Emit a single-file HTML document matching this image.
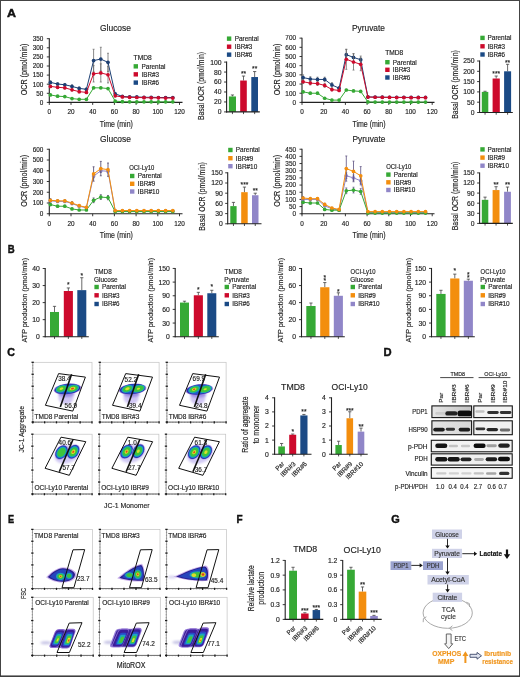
<!DOCTYPE html>
<html><head><meta charset="utf-8"><style>
html,body{margin:0;padding:0;background:#fff;}
svg{display:block;will-change:transform;}
text{font-family:"Liberation Sans", sans-serif;}
</style></head><body>
<svg width="520" height="677" viewBox="0 0 520 677">
<defs><filter id="bl" x="-50%" y="-50%" width="200%" height="200%"><feGaussianBlur stdDeviation="0.55"/></filter><filter id="bl2" x="-50%" y="-50%" width="200%" height="200%"><feGaussianBlur stdDeviation="1.2"/></filter><linearGradient id="gPD" x1="0" y1="0" x2="1" y2="0"><stop offset="0" stop-color="#e6e6e6"/><stop offset="1" stop-color="#c4c4c4"/></linearGradient><linearGradient id="gHS" x1="0" y1="0" x2="1" y2="0"><stop offset="0" stop-color="#e4e4e4"/><stop offset="1" stop-color="#d6d6d6"/></linearGradient></defs>
<rect x="0" y="0" width="520" height="677" fill="#fff"/>
<text x="6.9" y="16.9" font-size="11.6" font-weight="bold" fill="#111" stroke="#111" stroke-width="0.45" textLength="9.0" lengthAdjust="spacingAndGlyphs">A</text>
<line x1="48.8" y1="102.4" x2="182.5" y2="102.4" stroke="#222" stroke-width="1.1"/>
<line x1="49.3" y1="102.4" x2="49.3" y2="104.9" stroke="#222" stroke-width="0.9"/>
<text x="49.3" y="114.3" font-size="6.4" text-anchor="middle" fill="#222" stroke="#222" stroke-width="0.15">0</text>
<line x1="71" y1="102.4" x2="71" y2="104.9" stroke="#222" stroke-width="0.9"/>
<text x="71" y="114.3" font-size="6.4" text-anchor="middle" fill="#222" stroke="#222" stroke-width="0.15">20</text>
<line x1="92.7" y1="102.4" x2="92.7" y2="104.9" stroke="#222" stroke-width="0.9"/>
<text x="92.7" y="114.3" font-size="6.4" text-anchor="middle" fill="#222" stroke="#222" stroke-width="0.15">40</text>
<line x1="114.4" y1="102.4" x2="114.4" y2="104.9" stroke="#222" stroke-width="0.9"/>
<text x="114.4" y="114.3" font-size="6.4" text-anchor="middle" fill="#222" stroke="#222" stroke-width="0.15">60</text>
<line x1="136.1" y1="102.4" x2="136.1" y2="104.9" stroke="#222" stroke-width="0.9"/>
<text x="136.1" y="114.3" font-size="6.4" text-anchor="middle" fill="#222" stroke="#222" stroke-width="0.15">80</text>
<line x1="157.8" y1="102.4" x2="157.8" y2="104.9" stroke="#222" stroke-width="0.9"/>
<text x="157.8" y="114.3" font-size="6.4" text-anchor="middle" fill="#222" stroke="#222" stroke-width="0.15">100</text>
<line x1="179.5" y1="102.4" x2="179.5" y2="104.9" stroke="#222" stroke-width="0.9"/>
<text x="179.5" y="114.3" font-size="6.4" text-anchor="middle" fill="#222" stroke="#222" stroke-width="0.15">120</text>
<line x1="49.3" y1="38.2" x2="49.3" y2="102.9" stroke="#222" stroke-width="1.1"/>
<line x1="46.8" y1="102.4" x2="49.3" y2="102.4" stroke="#222" stroke-width="0.9"/>
<text x="43.3" y="104.7" font-size="6.4" text-anchor="end" fill="#222" stroke="#222" stroke-width="0.15">0</text>
<line x1="46.8" y1="93.3" x2="49.3" y2="93.3" stroke="#222" stroke-width="0.9"/>
<text x="43.3" y="95.6" font-size="6.4" text-anchor="end" fill="#222" stroke="#222" stroke-width="0.15">50</text>
<line x1="46.8" y1="84.2" x2="49.3" y2="84.2" stroke="#222" stroke-width="0.9"/>
<text x="43.3" y="86.5" font-size="6.4" text-anchor="end" fill="#222" stroke="#222" stroke-width="0.15">100</text>
<line x1="46.8" y1="75.1" x2="49.3" y2="75.1" stroke="#222" stroke-width="0.9"/>
<text x="43.3" y="77.4" font-size="6.4" text-anchor="end" fill="#222" stroke="#222" stroke-width="0.15">150</text>
<line x1="46.8" y1="66" x2="49.3" y2="66" stroke="#222" stroke-width="0.9"/>
<text x="43.3" y="68.3" font-size="6.4" text-anchor="end" fill="#222" stroke="#222" stroke-width="0.15">200</text>
<line x1="46.8" y1="56.9" x2="49.3" y2="56.9" stroke="#222" stroke-width="0.9"/>
<text x="43.3" y="59.2" font-size="6.4" text-anchor="end" fill="#222" stroke="#222" stroke-width="0.15">250</text>
<line x1="46.8" y1="47.8" x2="49.3" y2="47.8" stroke="#222" stroke-width="0.9"/>
<text x="43.3" y="50.1" font-size="6.4" text-anchor="end" fill="#222" stroke="#222" stroke-width="0.15">300</text>
<line x1="46.8" y1="38.7" x2="49.3" y2="38.7" stroke="#222" stroke-width="0.9"/>
<text x="43.3" y="41" font-size="6.4" text-anchor="end" fill="#222" stroke="#222" stroke-width="0.15">350</text>
<text x="100" y="30.5" font-size="8.6" fill="#222" stroke="#222" stroke-width="0.15" textLength="31" lengthAdjust="spacingAndGlyphs">Glucose</text>
<text x="27.2" y="69.5" font-size="8.4" text-anchor="middle" fill="#222" stroke="#222" stroke-width="0.15" textLength="51.7" lengthAdjust="spacingAndGlyphs" transform="rotate(-90 27.2 69.5)">OCR (pmol/min)</text>
<text x="116.3" y="126.6" font-size="8.6" text-anchor="middle" fill="#222" stroke="#222" stroke-width="0.15" textLength="33.2" lengthAdjust="spacingAndGlyphs">Time (min)</text>
<line x1="50.4" y1="80.92" x2="50.4" y2="83.84" stroke="#6a6a6a" stroke-width="0.8"/>
<line x1="49.4" y1="80.92" x2="51.4" y2="80.92" stroke="#6a6a6a" stroke-width="0.7"/>
<line x1="49.4" y1="83.84" x2="51.4" y2="83.84" stroke="#6a6a6a" stroke-width="0.7"/>
<line x1="57.6" y1="82.74" x2="57.6" y2="85.29" stroke="#6a6a6a" stroke-width="0.8"/>
<line x1="56.6" y1="82.74" x2="58.6" y2="82.74" stroke="#6a6a6a" stroke-width="0.7"/>
<line x1="56.6" y1="85.29" x2="58.6" y2="85.29" stroke="#6a6a6a" stroke-width="0.7"/>
<line x1="64.8" y1="83.47" x2="64.8" y2="86.02" stroke="#6a6a6a" stroke-width="0.8"/>
<line x1="63.8" y1="83.47" x2="65.8" y2="83.47" stroke="#6a6a6a" stroke-width="0.7"/>
<line x1="63.8" y1="86.02" x2="65.8" y2="86.02" stroke="#6a6a6a" stroke-width="0.7"/>
<line x1="72" y1="84.93" x2="72" y2="87.84" stroke="#6a6a6a" stroke-width="0.8"/>
<line x1="71" y1="84.93" x2="73" y2="84.93" stroke="#6a6a6a" stroke-width="0.7"/>
<line x1="71" y1="87.84" x2="73" y2="87.84" stroke="#6a6a6a" stroke-width="0.7"/>
<line x1="79.2" y1="86.93" x2="79.2" y2="89.84" stroke="#6a6a6a" stroke-width="0.8"/>
<line x1="78.2" y1="86.93" x2="80.2" y2="86.93" stroke="#6a6a6a" stroke-width="0.7"/>
<line x1="78.2" y1="89.84" x2="80.2" y2="89.84" stroke="#6a6a6a" stroke-width="0.7"/>
<line x1="86.4" y1="88.02" x2="86.4" y2="90.57" stroke="#6a6a6a" stroke-width="0.8"/>
<line x1="85.4" y1="88.02" x2="87.4" y2="88.02" stroke="#6a6a6a" stroke-width="0.7"/>
<line x1="85.4" y1="90.57" x2="87.4" y2="90.57" stroke="#6a6a6a" stroke-width="0.7"/>
<line x1="93.6" y1="49.26" x2="93.6" y2="71.82" stroke="#6a6a6a" stroke-width="0.8"/>
<line x1="92.6" y1="49.26" x2="94.6" y2="49.26" stroke="#6a6a6a" stroke-width="0.7"/>
<line x1="92.6" y1="71.82" x2="94.6" y2="71.82" stroke="#6a6a6a" stroke-width="0.7"/>
<line x1="100.8" y1="47.25" x2="100.8" y2="70.91" stroke="#6a6a6a" stroke-width="0.8"/>
<line x1="99.8" y1="47.25" x2="101.8" y2="47.25" stroke="#6a6a6a" stroke-width="0.7"/>
<line x1="99.8" y1="70.91" x2="101.8" y2="70.91" stroke="#6a6a6a" stroke-width="0.7"/>
<line x1="108" y1="53.26" x2="108" y2="71.46" stroke="#6a6a6a" stroke-width="0.8"/>
<line x1="107" y1="53.26" x2="109" y2="53.26" stroke="#6a6a6a" stroke-width="0.7"/>
<line x1="107" y1="71.46" x2="109" y2="71.46" stroke="#6a6a6a" stroke-width="0.7"/>
<line x1="115.2" y1="92.75" x2="115.2" y2="94.94" stroke="#6a6a6a" stroke-width="0.8"/>
<line x1="114.2" y1="92.75" x2="116.2" y2="92.75" stroke="#6a6a6a" stroke-width="0.7"/>
<line x1="114.2" y1="94.94" x2="116.2" y2="94.94" stroke="#6a6a6a" stroke-width="0.7"/>
<line x1="122.4" y1="95.67" x2="122.4" y2="97.12" stroke="#6a6a6a" stroke-width="0.8"/>
<line x1="121.4" y1="95.67" x2="123.4" y2="95.67" stroke="#6a6a6a" stroke-width="0.7"/>
<line x1="121.4" y1="97.12" x2="123.4" y2="97.12" stroke="#6a6a6a" stroke-width="0.7"/>
<line x1="129.6" y1="96.39" x2="129.6" y2="97.49" stroke="#6a6a6a" stroke-width="0.8"/>
<line x1="128.6" y1="96.39" x2="130.6" y2="96.39" stroke="#6a6a6a" stroke-width="0.7"/>
<line x1="128.6" y1="97.49" x2="130.6" y2="97.49" stroke="#6a6a6a" stroke-width="0.7"/>
<line x1="136.8" y1="96.39" x2="136.8" y2="97.49" stroke="#6a6a6a" stroke-width="0.8"/>
<line x1="135.8" y1="96.39" x2="137.8" y2="96.39" stroke="#6a6a6a" stroke-width="0.7"/>
<line x1="135.8" y1="97.49" x2="137.8" y2="97.49" stroke="#6a6a6a" stroke-width="0.7"/>
<line x1="144" y1="96.76" x2="144" y2="97.85" stroke="#6a6a6a" stroke-width="0.8"/>
<line x1="143" y1="96.76" x2="145" y2="96.76" stroke="#6a6a6a" stroke-width="0.7"/>
<line x1="143" y1="97.85" x2="145" y2="97.85" stroke="#6a6a6a" stroke-width="0.7"/>
<line x1="151.2" y1="96.76" x2="151.2" y2="97.85" stroke="#6a6a6a" stroke-width="0.8"/>
<line x1="150.2" y1="96.76" x2="152.2" y2="96.76" stroke="#6a6a6a" stroke-width="0.7"/>
<line x1="150.2" y1="97.85" x2="152.2" y2="97.85" stroke="#6a6a6a" stroke-width="0.7"/>
<line x1="158.4" y1="96.94" x2="158.4" y2="98.03" stroke="#6a6a6a" stroke-width="0.8"/>
<line x1="157.4" y1="96.94" x2="159.4" y2="96.94" stroke="#6a6a6a" stroke-width="0.7"/>
<line x1="157.4" y1="98.03" x2="159.4" y2="98.03" stroke="#6a6a6a" stroke-width="0.7"/>
<line x1="165.6" y1="96.94" x2="165.6" y2="98.03" stroke="#6a6a6a" stroke-width="0.8"/>
<line x1="164.6" y1="96.94" x2="166.6" y2="96.94" stroke="#6a6a6a" stroke-width="0.7"/>
<line x1="164.6" y1="98.03" x2="166.6" y2="98.03" stroke="#6a6a6a" stroke-width="0.7"/>
<line x1="172.8" y1="96.94" x2="172.8" y2="98.03" stroke="#6a6a6a" stroke-width="0.8"/>
<line x1="171.8" y1="96.94" x2="173.8" y2="96.94" stroke="#6a6a6a" stroke-width="0.7"/>
<line x1="171.8" y1="98.03" x2="173.8" y2="98.03" stroke="#6a6a6a" stroke-width="0.7"/>
<path d="M50.4,82.38 L57.6,84.02 L64.8,84.75 L72,86.38 L79.2,88.39 L86.4,89.3 L93.6,60.54 L100.8,59.08 L108,62.36 L115.2,93.85 L122.4,96.39 L129.6,96.94 L136.8,96.94 L144,97.3 L151.2,97.3 L158.4,97.49 L165.6,97.49 L172.8,97.49" fill="none" stroke="#1d3f73" stroke-width="1.0"/>
<circle cx="50.4" cy="82.38" r="1.85" fill="#1d3f73"/>
<circle cx="57.6" cy="84.02" r="1.85" fill="#1d3f73"/>
<circle cx="64.8" cy="84.75" r="1.85" fill="#1d3f73"/>
<circle cx="72" cy="86.38" r="1.85" fill="#1d3f73"/>
<circle cx="79.2" cy="88.39" r="1.85" fill="#1d3f73"/>
<circle cx="86.4" cy="89.3" r="1.85" fill="#1d3f73"/>
<circle cx="93.6" cy="60.54" r="1.85" fill="#1d3f73"/>
<circle cx="100.8" cy="59.08" r="1.85" fill="#1d3f73"/>
<circle cx="108" cy="62.36" r="1.85" fill="#1d3f73"/>
<circle cx="115.2" cy="93.85" r="1.85" fill="#1d3f73"/>
<circle cx="122.4" cy="96.39" r="1.85" fill="#1d3f73"/>
<circle cx="129.6" cy="96.94" r="1.85" fill="#1d3f73"/>
<circle cx="136.8" cy="96.94" r="1.85" fill="#1d3f73"/>
<circle cx="144" cy="97.3" r="1.85" fill="#1d3f73"/>
<circle cx="151.2" cy="97.3" r="1.85" fill="#1d3f73"/>
<circle cx="158.4" cy="97.49" r="1.85" fill="#1d3f73"/>
<circle cx="165.6" cy="97.49" r="1.85" fill="#1d3f73"/>
<circle cx="172.8" cy="97.49" r="1.85" fill="#1d3f73"/>
<line x1="50.4" y1="85.29" x2="50.4" y2="87.48" stroke="#6a6a6a" stroke-width="0.8"/>
<line x1="49.4" y1="85.29" x2="51.4" y2="85.29" stroke="#6a6a6a" stroke-width="0.7"/>
<line x1="49.4" y1="87.48" x2="51.4" y2="87.48" stroke="#6a6a6a" stroke-width="0.7"/>
<line x1="57.6" y1="86.2" x2="57.6" y2="88.39" stroke="#6a6a6a" stroke-width="0.8"/>
<line x1="56.6" y1="86.2" x2="58.6" y2="86.2" stroke="#6a6a6a" stroke-width="0.7"/>
<line x1="56.6" y1="88.39" x2="58.6" y2="88.39" stroke="#6a6a6a" stroke-width="0.7"/>
<line x1="64.8" y1="86.75" x2="64.8" y2="88.93" stroke="#6a6a6a" stroke-width="0.8"/>
<line x1="63.8" y1="86.75" x2="65.8" y2="86.75" stroke="#6a6a6a" stroke-width="0.7"/>
<line x1="63.8" y1="88.93" x2="65.8" y2="88.93" stroke="#6a6a6a" stroke-width="0.7"/>
<line x1="72" y1="88.75" x2="72" y2="90.93" stroke="#6a6a6a" stroke-width="0.8"/>
<line x1="71" y1="88.75" x2="73" y2="88.75" stroke="#6a6a6a" stroke-width="0.7"/>
<line x1="71" y1="90.93" x2="73" y2="90.93" stroke="#6a6a6a" stroke-width="0.7"/>
<line x1="79.2" y1="90.57" x2="79.2" y2="92.75" stroke="#6a6a6a" stroke-width="0.8"/>
<line x1="78.2" y1="90.57" x2="80.2" y2="90.57" stroke="#6a6a6a" stroke-width="0.7"/>
<line x1="78.2" y1="92.75" x2="80.2" y2="92.75" stroke="#6a6a6a" stroke-width="0.7"/>
<line x1="86.4" y1="91.3" x2="86.4" y2="93.48" stroke="#6a6a6a" stroke-width="0.8"/>
<line x1="85.4" y1="91.3" x2="87.4" y2="91.3" stroke="#6a6a6a" stroke-width="0.7"/>
<line x1="85.4" y1="93.48" x2="87.4" y2="93.48" stroke="#6a6a6a" stroke-width="0.7"/>
<line x1="93.6" y1="65.64" x2="93.6" y2="82.02" stroke="#6a6a6a" stroke-width="0.8"/>
<line x1="92.6" y1="65.64" x2="94.6" y2="65.64" stroke="#6a6a6a" stroke-width="0.7"/>
<line x1="92.6" y1="82.02" x2="94.6" y2="82.02" stroke="#6a6a6a" stroke-width="0.7"/>
<line x1="100.8" y1="63.82" x2="100.8" y2="82.02" stroke="#6a6a6a" stroke-width="0.8"/>
<line x1="99.8" y1="63.82" x2="101.8" y2="63.82" stroke="#6a6a6a" stroke-width="0.7"/>
<line x1="99.8" y1="82.02" x2="101.8" y2="82.02" stroke="#6a6a6a" stroke-width="0.7"/>
<line x1="108" y1="66.55" x2="108" y2="82.93" stroke="#6a6a6a" stroke-width="0.8"/>
<line x1="107" y1="66.55" x2="109" y2="66.55" stroke="#6a6a6a" stroke-width="0.7"/>
<line x1="107" y1="82.93" x2="109" y2="82.93" stroke="#6a6a6a" stroke-width="0.7"/>
<line x1="115.2" y1="94.94" x2="115.2" y2="96.76" stroke="#6a6a6a" stroke-width="0.8"/>
<line x1="114.2" y1="94.94" x2="116.2" y2="94.94" stroke="#6a6a6a" stroke-width="0.7"/>
<line x1="114.2" y1="96.76" x2="116.2" y2="96.76" stroke="#6a6a6a" stroke-width="0.7"/>
<line x1="122.4" y1="96.39" x2="122.4" y2="97.49" stroke="#6a6a6a" stroke-width="0.8"/>
<line x1="121.4" y1="96.39" x2="123.4" y2="96.39" stroke="#6a6a6a" stroke-width="0.7"/>
<line x1="121.4" y1="97.49" x2="123.4" y2="97.49" stroke="#6a6a6a" stroke-width="0.7"/>
<line x1="129.6" y1="96.76" x2="129.6" y2="97.85" stroke="#6a6a6a" stroke-width="0.8"/>
<line x1="128.6" y1="96.76" x2="130.6" y2="96.76" stroke="#6a6a6a" stroke-width="0.7"/>
<line x1="128.6" y1="97.85" x2="130.6" y2="97.85" stroke="#6a6a6a" stroke-width="0.7"/>
<line x1="136.8" y1="96.94" x2="136.8" y2="98.03" stroke="#6a6a6a" stroke-width="0.8"/>
<line x1="135.8" y1="96.94" x2="137.8" y2="96.94" stroke="#6a6a6a" stroke-width="0.7"/>
<line x1="135.8" y1="98.03" x2="137.8" y2="98.03" stroke="#6a6a6a" stroke-width="0.7"/>
<line x1="144" y1="97.12" x2="144" y2="98.21" stroke="#6a6a6a" stroke-width="0.8"/>
<line x1="143" y1="97.12" x2="145" y2="97.12" stroke="#6a6a6a" stroke-width="0.7"/>
<line x1="143" y1="98.21" x2="145" y2="98.21" stroke="#6a6a6a" stroke-width="0.7"/>
<line x1="151.2" y1="97.3" x2="151.2" y2="98.4" stroke="#6a6a6a" stroke-width="0.8"/>
<line x1="150.2" y1="97.3" x2="152.2" y2="97.3" stroke="#6a6a6a" stroke-width="0.7"/>
<line x1="150.2" y1="98.4" x2="152.2" y2="98.4" stroke="#6a6a6a" stroke-width="0.7"/>
<line x1="158.4" y1="97.3" x2="158.4" y2="98.4" stroke="#6a6a6a" stroke-width="0.8"/>
<line x1="157.4" y1="97.3" x2="159.4" y2="97.3" stroke="#6a6a6a" stroke-width="0.7"/>
<line x1="157.4" y1="98.4" x2="159.4" y2="98.4" stroke="#6a6a6a" stroke-width="0.7"/>
<line x1="165.6" y1="97.49" x2="165.6" y2="98.58" stroke="#6a6a6a" stroke-width="0.8"/>
<line x1="164.6" y1="97.49" x2="166.6" y2="97.49" stroke="#6a6a6a" stroke-width="0.7"/>
<line x1="164.6" y1="98.58" x2="166.6" y2="98.58" stroke="#6a6a6a" stroke-width="0.7"/>
<line x1="172.8" y1="97.49" x2="172.8" y2="98.58" stroke="#6a6a6a" stroke-width="0.8"/>
<line x1="171.8" y1="97.49" x2="173.8" y2="97.49" stroke="#6a6a6a" stroke-width="0.7"/>
<line x1="171.8" y1="98.58" x2="173.8" y2="98.58" stroke="#6a6a6a" stroke-width="0.7"/>
<path d="M50.4,86.38 L57.6,87.29 L64.8,87.84 L72,89.84 L79.2,91.66 L86.4,92.39 L93.6,73.83 L100.8,72.92 L108,74.74 L115.2,95.85 L122.4,96.94 L129.6,97.3 L136.8,97.49 L144,97.67 L151.2,97.85 L158.4,97.85 L165.6,98.03 L172.8,98.03" fill="none" stroke="#cd0a2c" stroke-width="1.0"/>
<circle cx="50.4" cy="86.38" r="1.85" fill="#cd0a2c"/>
<circle cx="57.6" cy="87.29" r="1.85" fill="#cd0a2c"/>
<circle cx="64.8" cy="87.84" r="1.85" fill="#cd0a2c"/>
<circle cx="72" cy="89.84" r="1.85" fill="#cd0a2c"/>
<circle cx="79.2" cy="91.66" r="1.85" fill="#cd0a2c"/>
<circle cx="86.4" cy="92.39" r="1.85" fill="#cd0a2c"/>
<circle cx="93.6" cy="73.83" r="1.85" fill="#cd0a2c"/>
<circle cx="100.8" cy="72.92" r="1.85" fill="#cd0a2c"/>
<circle cx="108" cy="74.74" r="1.85" fill="#cd0a2c"/>
<circle cx="115.2" cy="95.85" r="1.85" fill="#cd0a2c"/>
<circle cx="122.4" cy="96.94" r="1.85" fill="#cd0a2c"/>
<circle cx="129.6" cy="97.3" r="1.85" fill="#cd0a2c"/>
<circle cx="136.8" cy="97.49" r="1.85" fill="#cd0a2c"/>
<circle cx="144" cy="97.67" r="1.85" fill="#cd0a2c"/>
<circle cx="151.2" cy="97.85" r="1.85" fill="#cd0a2c"/>
<circle cx="158.4" cy="97.85" r="1.85" fill="#cd0a2c"/>
<circle cx="165.6" cy="98.03" r="1.85" fill="#cd0a2c"/>
<circle cx="172.8" cy="98.03" r="1.85" fill="#cd0a2c"/>
<line x1="50.4" y1="94.39" x2="50.4" y2="95.48" stroke="#6a6a6a" stroke-width="0.8"/>
<line x1="49.4" y1="94.39" x2="51.4" y2="94.39" stroke="#6a6a6a" stroke-width="0.7"/>
<line x1="49.4" y1="95.48" x2="51.4" y2="95.48" stroke="#6a6a6a" stroke-width="0.7"/>
<line x1="57.6" y1="95.67" x2="57.6" y2="96.76" stroke="#6a6a6a" stroke-width="0.8"/>
<line x1="56.6" y1="95.67" x2="58.6" y2="95.67" stroke="#6a6a6a" stroke-width="0.7"/>
<line x1="56.6" y1="96.76" x2="58.6" y2="96.76" stroke="#6a6a6a" stroke-width="0.7"/>
<line x1="64.8" y1="96.03" x2="64.8" y2="97.12" stroke="#6a6a6a" stroke-width="0.8"/>
<line x1="63.8" y1="96.03" x2="65.8" y2="96.03" stroke="#6a6a6a" stroke-width="0.7"/>
<line x1="63.8" y1="97.12" x2="65.8" y2="97.12" stroke="#6a6a6a" stroke-width="0.7"/>
<line x1="72" y1="98.03" x2="72" y2="99.12" stroke="#6a6a6a" stroke-width="0.8"/>
<line x1="71" y1="98.03" x2="73" y2="98.03" stroke="#6a6a6a" stroke-width="0.7"/>
<line x1="71" y1="99.12" x2="73" y2="99.12" stroke="#6a6a6a" stroke-width="0.7"/>
<line x1="79.2" y1="98.76" x2="79.2" y2="99.85" stroke="#6a6a6a" stroke-width="0.8"/>
<line x1="78.2" y1="98.76" x2="80.2" y2="98.76" stroke="#6a6a6a" stroke-width="0.7"/>
<line x1="78.2" y1="99.85" x2="80.2" y2="99.85" stroke="#6a6a6a" stroke-width="0.7"/>
<line x1="86.4" y1="98.76" x2="86.4" y2="99.85" stroke="#6a6a6a" stroke-width="0.8"/>
<line x1="85.4" y1="98.76" x2="87.4" y2="98.76" stroke="#6a6a6a" stroke-width="0.7"/>
<line x1="85.4" y1="99.85" x2="87.4" y2="99.85" stroke="#6a6a6a" stroke-width="0.7"/>
<line x1="93.6" y1="87.29" x2="93.6" y2="88.39" stroke="#6a6a6a" stroke-width="0.8"/>
<line x1="92.6" y1="87.29" x2="94.6" y2="87.29" stroke="#6a6a6a" stroke-width="0.7"/>
<line x1="92.6" y1="88.39" x2="94.6" y2="88.39" stroke="#6a6a6a" stroke-width="0.7"/>
<line x1="100.8" y1="87.29" x2="100.8" y2="88.39" stroke="#6a6a6a" stroke-width="0.8"/>
<line x1="99.8" y1="87.29" x2="101.8" y2="87.29" stroke="#6a6a6a" stroke-width="0.7"/>
<line x1="99.8" y1="88.39" x2="101.8" y2="88.39" stroke="#6a6a6a" stroke-width="0.7"/>
<line x1="108" y1="88.02" x2="108" y2="89.11" stroke="#6a6a6a" stroke-width="0.8"/>
<line x1="107" y1="88.02" x2="109" y2="88.02" stroke="#6a6a6a" stroke-width="0.7"/>
<line x1="107" y1="89.11" x2="109" y2="89.11" stroke="#6a6a6a" stroke-width="0.7"/>
<line x1="115.2" y1="100.58" x2="115.2" y2="101.67" stroke="#6a6a6a" stroke-width="0.8"/>
<line x1="114.2" y1="100.58" x2="116.2" y2="100.58" stroke="#6a6a6a" stroke-width="0.7"/>
<line x1="114.2" y1="101.67" x2="116.2" y2="101.67" stroke="#6a6a6a" stroke-width="0.7"/>
<line x1="122.4" y1="101.13" x2="122.4" y2="102.22" stroke="#6a6a6a" stroke-width="0.8"/>
<line x1="121.4" y1="101.13" x2="123.4" y2="101.13" stroke="#6a6a6a" stroke-width="0.7"/>
<line x1="121.4" y1="102.22" x2="123.4" y2="102.22" stroke="#6a6a6a" stroke-width="0.7"/>
<line x1="129.6" y1="101.31" x2="129.6" y2="102.4" stroke="#6a6a6a" stroke-width="0.8"/>
<line x1="128.6" y1="101.31" x2="130.6" y2="101.31" stroke="#6a6a6a" stroke-width="0.7"/>
<line x1="128.6" y1="102.4" x2="130.6" y2="102.4" stroke="#6a6a6a" stroke-width="0.7"/>
<line x1="136.8" y1="101.31" x2="136.8" y2="102.4" stroke="#6a6a6a" stroke-width="0.8"/>
<line x1="135.8" y1="101.31" x2="137.8" y2="101.31" stroke="#6a6a6a" stroke-width="0.7"/>
<line x1="135.8" y1="102.4" x2="137.8" y2="102.4" stroke="#6a6a6a" stroke-width="0.7"/>
<line x1="144" y1="101.31" x2="144" y2="102.4" stroke="#6a6a6a" stroke-width="0.8"/>
<line x1="143" y1="101.31" x2="145" y2="101.31" stroke="#6a6a6a" stroke-width="0.7"/>
<line x1="143" y1="102.4" x2="145" y2="102.4" stroke="#6a6a6a" stroke-width="0.7"/>
<line x1="151.2" y1="101.31" x2="151.2" y2="102.4" stroke="#6a6a6a" stroke-width="0.8"/>
<line x1="150.2" y1="101.31" x2="152.2" y2="101.31" stroke="#6a6a6a" stroke-width="0.7"/>
<line x1="150.2" y1="102.4" x2="152.2" y2="102.4" stroke="#6a6a6a" stroke-width="0.7"/>
<line x1="158.4" y1="101.31" x2="158.4" y2="102.4" stroke="#6a6a6a" stroke-width="0.8"/>
<line x1="157.4" y1="101.31" x2="159.4" y2="101.31" stroke="#6a6a6a" stroke-width="0.7"/>
<line x1="157.4" y1="102.4" x2="159.4" y2="102.4" stroke="#6a6a6a" stroke-width="0.7"/>
<line x1="165.6" y1="101.31" x2="165.6" y2="102.4" stroke="#6a6a6a" stroke-width="0.8"/>
<line x1="164.6" y1="101.31" x2="166.6" y2="101.31" stroke="#6a6a6a" stroke-width="0.7"/>
<line x1="164.6" y1="102.4" x2="166.6" y2="102.4" stroke="#6a6a6a" stroke-width="0.7"/>
<line x1="172.8" y1="101.31" x2="172.8" y2="102.4" stroke="#6a6a6a" stroke-width="0.8"/>
<line x1="171.8" y1="101.31" x2="173.8" y2="101.31" stroke="#6a6a6a" stroke-width="0.7"/>
<line x1="171.8" y1="102.4" x2="173.8" y2="102.4" stroke="#6a6a6a" stroke-width="0.7"/>
<path d="M50.4,94.94 L57.6,96.21 L64.8,96.58 L72,98.58 L79.2,99.31 L86.4,99.31 L93.6,87.84 L100.8,87.84 L108,88.57 L115.2,101.13 L122.4,101.67 L129.6,101.85 L136.8,101.85 L144,101.85 L151.2,101.85 L158.4,101.85 L165.6,101.85 L172.8,101.85" fill="none" stroke="#36a935" stroke-width="1.0"/>
<circle cx="50.4" cy="94.94" r="1.85" fill="#36a935"/>
<circle cx="57.6" cy="96.21" r="1.85" fill="#36a935"/>
<circle cx="64.8" cy="96.58" r="1.85" fill="#36a935"/>
<circle cx="72" cy="98.58" r="1.85" fill="#36a935"/>
<circle cx="79.2" cy="99.31" r="1.85" fill="#36a935"/>
<circle cx="86.4" cy="99.31" r="1.85" fill="#36a935"/>
<circle cx="93.6" cy="87.84" r="1.85" fill="#36a935"/>
<circle cx="100.8" cy="87.84" r="1.85" fill="#36a935"/>
<circle cx="108" cy="88.57" r="1.85" fill="#36a935"/>
<circle cx="115.2" cy="101.13" r="1.85" fill="#36a935"/>
<circle cx="122.4" cy="101.67" r="1.85" fill="#36a935"/>
<circle cx="129.6" cy="101.85" r="1.85" fill="#36a935"/>
<circle cx="136.8" cy="101.85" r="1.85" fill="#36a935"/>
<circle cx="144" cy="101.85" r="1.85" fill="#36a935"/>
<circle cx="151.2" cy="101.85" r="1.85" fill="#36a935"/>
<circle cx="158.4" cy="101.85" r="1.85" fill="#36a935"/>
<circle cx="165.6" cy="101.85" r="1.85" fill="#36a935"/>
<circle cx="172.8" cy="101.85" r="1.85" fill="#36a935"/>
<text x="133.6" y="60.4" font-size="6.3" fill="#222" stroke="#222" stroke-width="0.15" textLength="18" lengthAdjust="spacingAndGlyphs">TMD8</text>
<rect x="133.6" y="64.15" width="4.4" height="4.4" fill="#36a935" />
<text x="141.5" y="68.65" font-size="6.4" fill="#222" stroke="#222" stroke-width="0.15" textLength="24" lengthAdjust="spacingAndGlyphs">Parental</text>
<rect x="133.6" y="72.15" width="4.4" height="4.4" fill="#cd0a2c" />
<text x="141.5" y="76.65" font-size="6.4" fill="#222" stroke="#222" stroke-width="0.15" textLength="17.5" lengthAdjust="spacingAndGlyphs">IBR#3</text>
<rect x="133.6" y="80.4" width="4.4" height="4.4" fill="#1b4a85" />
<text x="141.5" y="84.9" font-size="6.4" fill="#222" stroke="#222" stroke-width="0.15" textLength="17.5" lengthAdjust="spacingAndGlyphs">IBR#6</text>
<rect x="226.9" y="36.45" width="4.4" height="4.4" fill="#36a935" />
<text x="234.7" y="40.95" font-size="6.4" fill="#222" stroke="#222" stroke-width="0.15" textLength="24" lengthAdjust="spacingAndGlyphs">Parental</text>
<rect x="226.9" y="44.5" width="4.4" height="4.4" fill="#cd0a2c" />
<text x="234.7" y="49" font-size="6.4" fill="#222" stroke="#222" stroke-width="0.15" textLength="17.5" lengthAdjust="spacingAndGlyphs">IBR#3</text>
<rect x="226.9" y="52.45" width="4.4" height="4.4" fill="#1b4a85" />
<text x="234.7" y="56.95" font-size="6.4" fill="#222" stroke="#222" stroke-width="0.15" textLength="17.5" lengthAdjust="spacingAndGlyphs">IBR#6</text>
<line x1="232.45" y1="94.97" x2="232.45" y2="96.46" stroke="#444" stroke-width="0.8"/>
<line x1="230.85" y1="94.97" x2="234.05" y2="94.97" stroke="#444" stroke-width="0.8"/>
<rect x="228.9" y="96.46" width="7.1" height="15.44" fill="#36a935" />
<line x1="243.5" y1="76.04" x2="243.5" y2="80.53" stroke="#444" stroke-width="0.8"/>
<line x1="241.9" y1="76.04" x2="245.1" y2="76.04" stroke="#444" stroke-width="0.8"/>
<rect x="240.2" y="80.53" width="6.6" height="31.37" fill="#cd0a2c" />
<text x="243.5" y="75.7" font-size="6.6" text-anchor="middle" fill="#222" stroke="#222" stroke-width="0.15">**</text>
<line x1="254.65" y1="71.56" x2="254.65" y2="77.04" stroke="#444" stroke-width="0.8"/>
<line x1="253.05" y1="71.56" x2="256.25" y2="71.56" stroke="#444" stroke-width="0.8"/>
<rect x="251.3" y="77.04" width="6.7" height="34.86" fill="#1b4a85" />
<text x="254.65" y="71.3" font-size="6.6" text-anchor="middle" fill="#222" stroke="#222" stroke-width="0.15">**</text>
<line x1="226.1" y1="111.9" x2="259.8" y2="111.9" stroke="#222" stroke-width="1.1"/>
<line x1="232.45" y1="111.9" x2="232.45" y2="114.1" stroke="#222" stroke-width="0.8"/>
<line x1="243.5" y1="111.9" x2="243.5" y2="114.1" stroke="#222" stroke-width="0.8"/>
<line x1="254.65" y1="111.9" x2="254.65" y2="114.1" stroke="#222" stroke-width="0.8"/>
<line x1="226.6" y1="61.6" x2="226.6" y2="112.4" stroke="#222" stroke-width="1.1"/>
<line x1="224.1" y1="111.9" x2="226.6" y2="111.9" stroke="#222" stroke-width="0.9"/>
<text x="221.6" y="114.35" font-size="6.8" text-anchor="end" fill="#222" stroke="#222" stroke-width="0.15">0</text>
<line x1="224.1" y1="101.94" x2="226.6" y2="101.94" stroke="#222" stroke-width="0.9"/>
<text x="221.6" y="104.39" font-size="6.8" text-anchor="end" fill="#222" stroke="#222" stroke-width="0.15">20</text>
<line x1="224.1" y1="91.98" x2="226.6" y2="91.98" stroke="#222" stroke-width="0.9"/>
<text x="221.6" y="94.43" font-size="6.8" text-anchor="end" fill="#222" stroke="#222" stroke-width="0.15">40</text>
<line x1="224.1" y1="82.02" x2="226.6" y2="82.02" stroke="#222" stroke-width="0.9"/>
<text x="221.6" y="84.47" font-size="6.8" text-anchor="end" fill="#222" stroke="#222" stroke-width="0.15">60</text>
<line x1="224.1" y1="72.06" x2="226.6" y2="72.06" stroke="#222" stroke-width="0.9"/>
<text x="221.6" y="74.51" font-size="6.8" text-anchor="end" fill="#222" stroke="#222" stroke-width="0.15">80</text>
<line x1="224.1" y1="62.1" x2="226.6" y2="62.1" stroke="#222" stroke-width="0.9"/>
<text x="221.6" y="64.55" font-size="6.8" text-anchor="end" fill="#222" stroke="#222" stroke-width="0.15">100</text>
<text x="204" y="86" font-size="8.2" text-anchor="middle" fill="#222" stroke="#222" stroke-width="0.15" textLength="68" lengthAdjust="spacingAndGlyphs" transform="rotate(-90 204 86)">Basal OCR (pmol/min)</text>
<line x1="301.5" y1="102.4" x2="434.5" y2="102.4" stroke="#222" stroke-width="1.1"/>
<line x1="302" y1="102.4" x2="302" y2="104.9" stroke="#222" stroke-width="0.9"/>
<text x="302" y="114.3" font-size="6.4" text-anchor="middle" fill="#222" stroke="#222" stroke-width="0.15">0</text>
<line x1="323.7" y1="102.4" x2="323.7" y2="104.9" stroke="#222" stroke-width="0.9"/>
<text x="323.7" y="114.3" font-size="6.4" text-anchor="middle" fill="#222" stroke="#222" stroke-width="0.15">20</text>
<line x1="345.4" y1="102.4" x2="345.4" y2="104.9" stroke="#222" stroke-width="0.9"/>
<text x="345.4" y="114.3" font-size="6.4" text-anchor="middle" fill="#222" stroke="#222" stroke-width="0.15">40</text>
<line x1="367.1" y1="102.4" x2="367.1" y2="104.9" stroke="#222" stroke-width="0.9"/>
<text x="367.1" y="114.3" font-size="6.4" text-anchor="middle" fill="#222" stroke="#222" stroke-width="0.15">60</text>
<line x1="388.8" y1="102.4" x2="388.8" y2="104.9" stroke="#222" stroke-width="0.9"/>
<text x="388.8" y="114.3" font-size="6.4" text-anchor="middle" fill="#222" stroke="#222" stroke-width="0.15">80</text>
<line x1="410.5" y1="102.4" x2="410.5" y2="104.9" stroke="#222" stroke-width="0.9"/>
<text x="410.5" y="114.3" font-size="6.4" text-anchor="middle" fill="#222" stroke="#222" stroke-width="0.15">100</text>
<line x1="432.2" y1="102.4" x2="432.2" y2="104.9" stroke="#222" stroke-width="0.9"/>
<text x="432.2" y="114.3" font-size="6.4" text-anchor="middle" fill="#222" stroke="#222" stroke-width="0.15">120</text>
<line x1="302" y1="37.64" x2="302" y2="102.9" stroke="#222" stroke-width="1.1"/>
<line x1="299.5" y1="102.4" x2="302" y2="102.4" stroke="#222" stroke-width="0.9"/>
<text x="296" y="104.7" font-size="6.4" text-anchor="end" fill="#222" stroke="#222" stroke-width="0.15">0</text>
<line x1="299.5" y1="93.22" x2="302" y2="93.22" stroke="#222" stroke-width="0.9"/>
<text x="296" y="95.52" font-size="6.4" text-anchor="end" fill="#222" stroke="#222" stroke-width="0.15">100</text>
<line x1="299.5" y1="84.04" x2="302" y2="84.04" stroke="#222" stroke-width="0.9"/>
<text x="296" y="86.34" font-size="6.4" text-anchor="end" fill="#222" stroke="#222" stroke-width="0.15">200</text>
<line x1="299.5" y1="74.86" x2="302" y2="74.86" stroke="#222" stroke-width="0.9"/>
<text x="296" y="77.16" font-size="6.4" text-anchor="end" fill="#222" stroke="#222" stroke-width="0.15">300</text>
<line x1="299.5" y1="65.68" x2="302" y2="65.68" stroke="#222" stroke-width="0.9"/>
<text x="296" y="67.98" font-size="6.4" text-anchor="end" fill="#222" stroke="#222" stroke-width="0.15">400</text>
<line x1="299.5" y1="56.5" x2="302" y2="56.5" stroke="#222" stroke-width="0.9"/>
<text x="296" y="58.8" font-size="6.4" text-anchor="end" fill="#222" stroke="#222" stroke-width="0.15">500</text>
<line x1="299.5" y1="47.32" x2="302" y2="47.32" stroke="#222" stroke-width="0.9"/>
<text x="296" y="49.62" font-size="6.4" text-anchor="end" fill="#222" stroke="#222" stroke-width="0.15">600</text>
<line x1="299.5" y1="38.14" x2="302" y2="38.14" stroke="#222" stroke-width="0.9"/>
<text x="296" y="40.44" font-size="6.4" text-anchor="end" fill="#222" stroke="#222" stroke-width="0.15">700</text>
<text x="352" y="30.5" font-size="8.6" fill="#222" stroke="#222" stroke-width="0.15" textLength="33" lengthAdjust="spacingAndGlyphs">Pyruvate</text>
<text x="279.9" y="69.5" font-size="8.4" text-anchor="middle" fill="#222" stroke="#222" stroke-width="0.15" textLength="51.7" lengthAdjust="spacingAndGlyphs" transform="rotate(-90 279.9 69.5)">OCR (pmol/min)</text>
<text x="369" y="126.6" font-size="8.6" text-anchor="middle" fill="#222" stroke="#222" stroke-width="0.15" textLength="33.2" lengthAdjust="spacingAndGlyphs">Time (min)</text>
<line x1="303.1" y1="74.86" x2="303.1" y2="80.37" stroke="#6a6a6a" stroke-width="0.8"/>
<line x1="302.1" y1="74.86" x2="304.1" y2="74.86" stroke="#6a6a6a" stroke-width="0.7"/>
<line x1="302.1" y1="80.37" x2="304.1" y2="80.37" stroke="#6a6a6a" stroke-width="0.7"/>
<line x1="310.3" y1="76.7" x2="310.3" y2="81.29" stroke="#6a6a6a" stroke-width="0.8"/>
<line x1="309.3" y1="76.7" x2="311.3" y2="76.7" stroke="#6a6a6a" stroke-width="0.7"/>
<line x1="309.3" y1="81.29" x2="311.3" y2="81.29" stroke="#6a6a6a" stroke-width="0.7"/>
<line x1="317.5" y1="77.16" x2="317.5" y2="81.75" stroke="#6a6a6a" stroke-width="0.8"/>
<line x1="316.5" y1="77.16" x2="318.5" y2="77.16" stroke="#6a6a6a" stroke-width="0.7"/>
<line x1="316.5" y1="81.75" x2="318.5" y2="81.75" stroke="#6a6a6a" stroke-width="0.7"/>
<line x1="324.7" y1="77.16" x2="324.7" y2="81.75" stroke="#6a6a6a" stroke-width="0.8"/>
<line x1="323.7" y1="77.16" x2="325.7" y2="77.16" stroke="#6a6a6a" stroke-width="0.7"/>
<line x1="323.7" y1="81.75" x2="325.7" y2="81.75" stroke="#6a6a6a" stroke-width="0.7"/>
<line x1="331.9" y1="82.66" x2="331.9" y2="87.25" stroke="#6a6a6a" stroke-width="0.8"/>
<line x1="330.9" y1="82.66" x2="332.9" y2="82.66" stroke="#6a6a6a" stroke-width="0.7"/>
<line x1="330.9" y1="87.25" x2="332.9" y2="87.25" stroke="#6a6a6a" stroke-width="0.7"/>
<line x1="339.1" y1="86.79" x2="339.1" y2="89.55" stroke="#6a6a6a" stroke-width="0.8"/>
<line x1="338.1" y1="86.79" x2="340.1" y2="86.79" stroke="#6a6a6a" stroke-width="0.7"/>
<line x1="338.1" y1="89.55" x2="340.1" y2="89.55" stroke="#6a6a6a" stroke-width="0.7"/>
<line x1="346.3" y1="49.52" x2="346.3" y2="59.8" stroke="#6a6a6a" stroke-width="0.8"/>
<line x1="345.3" y1="49.52" x2="347.3" y2="49.52" stroke="#6a6a6a" stroke-width="0.7"/>
<line x1="345.3" y1="59.8" x2="347.3" y2="59.8" stroke="#6a6a6a" stroke-width="0.7"/>
<line x1="353.5" y1="53.56" x2="353.5" y2="61.27" stroke="#6a6a6a" stroke-width="0.8"/>
<line x1="352.5" y1="53.56" x2="354.5" y2="53.56" stroke="#6a6a6a" stroke-width="0.7"/>
<line x1="352.5" y1="61.27" x2="354.5" y2="61.27" stroke="#6a6a6a" stroke-width="0.7"/>
<line x1="360.7" y1="56.04" x2="360.7" y2="63.39" stroke="#6a6a6a" stroke-width="0.8"/>
<line x1="359.7" y1="56.04" x2="361.7" y2="56.04" stroke="#6a6a6a" stroke-width="0.7"/>
<line x1="359.7" y1="63.39" x2="361.7" y2="63.39" stroke="#6a6a6a" stroke-width="0.7"/>
<line x1="367.9" y1="96.16" x2="367.9" y2="97.63" stroke="#6a6a6a" stroke-width="0.8"/>
<line x1="366.9" y1="96.16" x2="368.9" y2="96.16" stroke="#6a6a6a" stroke-width="0.7"/>
<line x1="366.9" y1="97.63" x2="368.9" y2="97.63" stroke="#6a6a6a" stroke-width="0.7"/>
<line x1="375.1" y1="96.62" x2="375.1" y2="97.53" stroke="#6a6a6a" stroke-width="0.8"/>
<line x1="374.1" y1="96.62" x2="376.1" y2="96.62" stroke="#6a6a6a" stroke-width="0.7"/>
<line x1="374.1" y1="97.53" x2="376.1" y2="97.53" stroke="#6a6a6a" stroke-width="0.7"/>
<line x1="382.3" y1="96.71" x2="382.3" y2="97.63" stroke="#6a6a6a" stroke-width="0.8"/>
<line x1="381.3" y1="96.71" x2="383.3" y2="96.71" stroke="#6a6a6a" stroke-width="0.7"/>
<line x1="381.3" y1="97.63" x2="383.3" y2="97.63" stroke="#6a6a6a" stroke-width="0.7"/>
<line x1="389.5" y1="96.8" x2="389.5" y2="97.72" stroke="#6a6a6a" stroke-width="0.8"/>
<line x1="388.5" y1="96.8" x2="390.5" y2="96.8" stroke="#6a6a6a" stroke-width="0.7"/>
<line x1="388.5" y1="97.72" x2="390.5" y2="97.72" stroke="#6a6a6a" stroke-width="0.7"/>
<line x1="396.7" y1="96.89" x2="396.7" y2="97.81" stroke="#6a6a6a" stroke-width="0.8"/>
<line x1="395.7" y1="96.89" x2="397.7" y2="96.89" stroke="#6a6a6a" stroke-width="0.7"/>
<line x1="395.7" y1="97.81" x2="397.7" y2="97.81" stroke="#6a6a6a" stroke-width="0.7"/>
<line x1="403.9" y1="96.89" x2="403.9" y2="97.81" stroke="#6a6a6a" stroke-width="0.8"/>
<line x1="402.9" y1="96.89" x2="404.9" y2="96.89" stroke="#6a6a6a" stroke-width="0.7"/>
<line x1="402.9" y1="97.81" x2="404.9" y2="97.81" stroke="#6a6a6a" stroke-width="0.7"/>
<line x1="411.1" y1="96.98" x2="411.1" y2="97.9" stroke="#6a6a6a" stroke-width="0.8"/>
<line x1="410.1" y1="96.98" x2="412.1" y2="96.98" stroke="#6a6a6a" stroke-width="0.7"/>
<line x1="410.1" y1="97.9" x2="412.1" y2="97.9" stroke="#6a6a6a" stroke-width="0.7"/>
<line x1="418.3" y1="96.98" x2="418.3" y2="97.9" stroke="#6a6a6a" stroke-width="0.8"/>
<line x1="417.3" y1="96.98" x2="419.3" y2="96.98" stroke="#6a6a6a" stroke-width="0.7"/>
<line x1="417.3" y1="97.9" x2="419.3" y2="97.9" stroke="#6a6a6a" stroke-width="0.7"/>
<line x1="425.5" y1="96.98" x2="425.5" y2="97.9" stroke="#6a6a6a" stroke-width="0.8"/>
<line x1="424.5" y1="96.98" x2="426.5" y2="96.98" stroke="#6a6a6a" stroke-width="0.7"/>
<line x1="424.5" y1="97.9" x2="426.5" y2="97.9" stroke="#6a6a6a" stroke-width="0.7"/>
<path d="M303.1,77.61 L310.3,78.99 L317.5,79.45 L324.7,79.45 L331.9,84.96 L339.1,88.17 L346.3,54.66 L353.5,57.42 L360.7,59.71 L367.9,96.89 L375.1,97.08 L382.3,97.17 L389.5,97.26 L396.7,97.35 L403.9,97.35 L411.1,97.44 L418.3,97.44 L425.5,97.44" fill="none" stroke="#1d3f73" stroke-width="1.0"/>
<circle cx="303.1" cy="77.61" r="1.85" fill="#1d3f73"/>
<circle cx="310.3" cy="78.99" r="1.85" fill="#1d3f73"/>
<circle cx="317.5" cy="79.45" r="1.85" fill="#1d3f73"/>
<circle cx="324.7" cy="79.45" r="1.85" fill="#1d3f73"/>
<circle cx="331.9" cy="84.96" r="1.85" fill="#1d3f73"/>
<circle cx="339.1" cy="88.17" r="1.85" fill="#1d3f73"/>
<circle cx="346.3" cy="54.66" r="1.85" fill="#1d3f73"/>
<circle cx="353.5" cy="57.42" r="1.85" fill="#1d3f73"/>
<circle cx="360.7" cy="59.71" r="1.85" fill="#1d3f73"/>
<circle cx="367.9" cy="96.89" r="1.85" fill="#1d3f73"/>
<circle cx="375.1" cy="97.08" r="1.85" fill="#1d3f73"/>
<circle cx="382.3" cy="97.17" r="1.85" fill="#1d3f73"/>
<circle cx="389.5" cy="97.26" r="1.85" fill="#1d3f73"/>
<circle cx="396.7" cy="97.35" r="1.85" fill="#1d3f73"/>
<circle cx="403.9" cy="97.35" r="1.85" fill="#1d3f73"/>
<circle cx="411.1" cy="97.44" r="1.85" fill="#1d3f73"/>
<circle cx="418.3" cy="97.44" r="1.85" fill="#1d3f73"/>
<circle cx="425.5" cy="97.44" r="1.85" fill="#1d3f73"/>
<line x1="303.1" y1="79.91" x2="303.1" y2="83.58" stroke="#6a6a6a" stroke-width="0.8"/>
<line x1="302.1" y1="79.91" x2="304.1" y2="79.91" stroke="#6a6a6a" stroke-width="0.7"/>
<line x1="302.1" y1="83.58" x2="304.1" y2="83.58" stroke="#6a6a6a" stroke-width="0.7"/>
<line x1="310.3" y1="81.29" x2="310.3" y2="84.96" stroke="#6a6a6a" stroke-width="0.8"/>
<line x1="309.3" y1="81.29" x2="311.3" y2="81.29" stroke="#6a6a6a" stroke-width="0.7"/>
<line x1="309.3" y1="84.96" x2="311.3" y2="84.96" stroke="#6a6a6a" stroke-width="0.7"/>
<line x1="317.5" y1="81.75" x2="317.5" y2="85.42" stroke="#6a6a6a" stroke-width="0.8"/>
<line x1="316.5" y1="81.75" x2="318.5" y2="81.75" stroke="#6a6a6a" stroke-width="0.7"/>
<line x1="316.5" y1="85.42" x2="318.5" y2="85.42" stroke="#6a6a6a" stroke-width="0.7"/>
<line x1="324.7" y1="83.58" x2="324.7" y2="87.25" stroke="#6a6a6a" stroke-width="0.8"/>
<line x1="323.7" y1="83.58" x2="325.7" y2="83.58" stroke="#6a6a6a" stroke-width="0.7"/>
<line x1="323.7" y1="87.25" x2="325.7" y2="87.25" stroke="#6a6a6a" stroke-width="0.7"/>
<line x1="331.9" y1="88.17" x2="331.9" y2="90.92" stroke="#6a6a6a" stroke-width="0.8"/>
<line x1="330.9" y1="88.17" x2="332.9" y2="88.17" stroke="#6a6a6a" stroke-width="0.7"/>
<line x1="330.9" y1="90.92" x2="332.9" y2="90.92" stroke="#6a6a6a" stroke-width="0.7"/>
<line x1="339.1" y1="89.55" x2="339.1" y2="91.38" stroke="#6a6a6a" stroke-width="0.8"/>
<line x1="338.1" y1="89.55" x2="340.1" y2="89.55" stroke="#6a6a6a" stroke-width="0.7"/>
<line x1="338.1" y1="91.38" x2="340.1" y2="91.38" stroke="#6a6a6a" stroke-width="0.7"/>
<line x1="346.3" y1="49.16" x2="346.3" y2="69.35" stroke="#6a6a6a" stroke-width="0.8"/>
<line x1="345.3" y1="49.16" x2="347.3" y2="49.16" stroke="#6a6a6a" stroke-width="0.7"/>
<line x1="345.3" y1="69.35" x2="347.3" y2="69.35" stroke="#6a6a6a" stroke-width="0.7"/>
<line x1="353.5" y1="53.93" x2="353.5" y2="70.09" stroke="#6a6a6a" stroke-width="0.8"/>
<line x1="352.5" y1="53.93" x2="354.5" y2="53.93" stroke="#6a6a6a" stroke-width="0.7"/>
<line x1="352.5" y1="70.09" x2="354.5" y2="70.09" stroke="#6a6a6a" stroke-width="0.7"/>
<line x1="360.7" y1="57.88" x2="360.7" y2="70.73" stroke="#6a6a6a" stroke-width="0.8"/>
<line x1="359.7" y1="57.88" x2="361.7" y2="57.88" stroke="#6a6a6a" stroke-width="0.7"/>
<line x1="359.7" y1="70.73" x2="361.7" y2="70.73" stroke="#6a6a6a" stroke-width="0.7"/>
<line x1="367.9" y1="96.34" x2="367.9" y2="97.81" stroke="#6a6a6a" stroke-width="0.8"/>
<line x1="366.9" y1="96.34" x2="368.9" y2="96.34" stroke="#6a6a6a" stroke-width="0.7"/>
<line x1="366.9" y1="97.81" x2="368.9" y2="97.81" stroke="#6a6a6a" stroke-width="0.7"/>
<line x1="375.1" y1="96.8" x2="375.1" y2="97.72" stroke="#6a6a6a" stroke-width="0.8"/>
<line x1="374.1" y1="96.8" x2="376.1" y2="96.8" stroke="#6a6a6a" stroke-width="0.7"/>
<line x1="374.1" y1="97.72" x2="376.1" y2="97.72" stroke="#6a6a6a" stroke-width="0.7"/>
<line x1="382.3" y1="96.89" x2="382.3" y2="97.81" stroke="#6a6a6a" stroke-width="0.8"/>
<line x1="381.3" y1="96.89" x2="383.3" y2="96.89" stroke="#6a6a6a" stroke-width="0.7"/>
<line x1="381.3" y1="97.81" x2="383.3" y2="97.81" stroke="#6a6a6a" stroke-width="0.7"/>
<line x1="389.5" y1="96.98" x2="389.5" y2="97.9" stroke="#6a6a6a" stroke-width="0.8"/>
<line x1="388.5" y1="96.98" x2="390.5" y2="96.98" stroke="#6a6a6a" stroke-width="0.7"/>
<line x1="388.5" y1="97.9" x2="390.5" y2="97.9" stroke="#6a6a6a" stroke-width="0.7"/>
<line x1="396.7" y1="97.08" x2="396.7" y2="97.99" stroke="#6a6a6a" stroke-width="0.8"/>
<line x1="395.7" y1="97.08" x2="397.7" y2="97.08" stroke="#6a6a6a" stroke-width="0.7"/>
<line x1="395.7" y1="97.99" x2="397.7" y2="97.99" stroke="#6a6a6a" stroke-width="0.7"/>
<line x1="403.9" y1="97.08" x2="403.9" y2="97.99" stroke="#6a6a6a" stroke-width="0.8"/>
<line x1="402.9" y1="97.08" x2="404.9" y2="97.08" stroke="#6a6a6a" stroke-width="0.7"/>
<line x1="402.9" y1="97.99" x2="404.9" y2="97.99" stroke="#6a6a6a" stroke-width="0.7"/>
<line x1="411.1" y1="97.17" x2="411.1" y2="98.09" stroke="#6a6a6a" stroke-width="0.8"/>
<line x1="410.1" y1="97.17" x2="412.1" y2="97.17" stroke="#6a6a6a" stroke-width="0.7"/>
<line x1="410.1" y1="98.09" x2="412.1" y2="98.09" stroke="#6a6a6a" stroke-width="0.7"/>
<line x1="418.3" y1="97.17" x2="418.3" y2="98.09" stroke="#6a6a6a" stroke-width="0.8"/>
<line x1="417.3" y1="97.17" x2="419.3" y2="97.17" stroke="#6a6a6a" stroke-width="0.7"/>
<line x1="417.3" y1="98.09" x2="419.3" y2="98.09" stroke="#6a6a6a" stroke-width="0.7"/>
<line x1="425.5" y1="97.17" x2="425.5" y2="98.09" stroke="#6a6a6a" stroke-width="0.8"/>
<line x1="424.5" y1="97.17" x2="426.5" y2="97.17" stroke="#6a6a6a" stroke-width="0.7"/>
<line x1="424.5" y1="98.09" x2="426.5" y2="98.09" stroke="#6a6a6a" stroke-width="0.7"/>
<path d="M303.1,81.75 L310.3,83.12 L317.5,83.58 L324.7,85.42 L331.9,89.55 L339.1,90.47 L346.3,59.25 L353.5,62.01 L360.7,64.3 L367.9,97.08 L375.1,97.26 L382.3,97.35 L389.5,97.44 L396.7,97.53 L403.9,97.53 L411.1,97.63 L418.3,97.63 L425.5,97.63" fill="none" stroke="#cd0a2c" stroke-width="1.0"/>
<circle cx="303.1" cy="81.75" r="1.85" fill="#cd0a2c"/>
<circle cx="310.3" cy="83.12" r="1.85" fill="#cd0a2c"/>
<circle cx="317.5" cy="83.58" r="1.85" fill="#cd0a2c"/>
<circle cx="324.7" cy="85.42" r="1.85" fill="#cd0a2c"/>
<circle cx="331.9" cy="89.55" r="1.85" fill="#cd0a2c"/>
<circle cx="339.1" cy="90.47" r="1.85" fill="#cd0a2c"/>
<circle cx="346.3" cy="59.25" r="1.85" fill="#cd0a2c"/>
<circle cx="353.5" cy="62.01" r="1.85" fill="#cd0a2c"/>
<circle cx="360.7" cy="64.3" r="1.85" fill="#cd0a2c"/>
<circle cx="367.9" cy="97.08" r="1.85" fill="#cd0a2c"/>
<circle cx="375.1" cy="97.26" r="1.85" fill="#cd0a2c"/>
<circle cx="382.3" cy="97.35" r="1.85" fill="#cd0a2c"/>
<circle cx="389.5" cy="97.44" r="1.85" fill="#cd0a2c"/>
<circle cx="396.7" cy="97.53" r="1.85" fill="#cd0a2c"/>
<circle cx="403.9" cy="97.53" r="1.85" fill="#cd0a2c"/>
<circle cx="411.1" cy="97.63" r="1.85" fill="#cd0a2c"/>
<circle cx="418.3" cy="97.63" r="1.85" fill="#cd0a2c"/>
<circle cx="425.5" cy="97.63" r="1.85" fill="#cd0a2c"/>
<line x1="303.1" y1="91.11" x2="303.1" y2="92.58" stroke="#6a6a6a" stroke-width="0.8"/>
<line x1="302.1" y1="91.11" x2="304.1" y2="91.11" stroke="#6a6a6a" stroke-width="0.7"/>
<line x1="302.1" y1="92.58" x2="304.1" y2="92.58" stroke="#6a6a6a" stroke-width="0.7"/>
<line x1="310.3" y1="92.49" x2="310.3" y2="93.95" stroke="#6a6a6a" stroke-width="0.8"/>
<line x1="309.3" y1="92.49" x2="311.3" y2="92.49" stroke="#6a6a6a" stroke-width="0.7"/>
<line x1="309.3" y1="93.95" x2="311.3" y2="93.95" stroke="#6a6a6a" stroke-width="0.7"/>
<line x1="317.5" y1="92.49" x2="317.5" y2="93.95" stroke="#6a6a6a" stroke-width="0.8"/>
<line x1="316.5" y1="92.49" x2="318.5" y2="92.49" stroke="#6a6a6a" stroke-width="0.7"/>
<line x1="316.5" y1="93.95" x2="318.5" y2="93.95" stroke="#6a6a6a" stroke-width="0.7"/>
<line x1="324.7" y1="97.53" x2="324.7" y2="99" stroke="#6a6a6a" stroke-width="0.8"/>
<line x1="323.7" y1="97.53" x2="325.7" y2="97.53" stroke="#6a6a6a" stroke-width="0.7"/>
<line x1="323.7" y1="99" x2="325.7" y2="99" stroke="#6a6a6a" stroke-width="0.7"/>
<line x1="331.9" y1="99.37" x2="331.9" y2="100.84" stroke="#6a6a6a" stroke-width="0.8"/>
<line x1="330.9" y1="99.37" x2="332.9" y2="99.37" stroke="#6a6a6a" stroke-width="0.7"/>
<line x1="330.9" y1="100.84" x2="332.9" y2="100.84" stroke="#6a6a6a" stroke-width="0.7"/>
<line x1="339.1" y1="99.37" x2="339.1" y2="100.84" stroke="#6a6a6a" stroke-width="0.8"/>
<line x1="338.1" y1="99.37" x2="340.1" y2="99.37" stroke="#6a6a6a" stroke-width="0.7"/>
<line x1="338.1" y1="100.84" x2="340.1" y2="100.84" stroke="#6a6a6a" stroke-width="0.7"/>
<line x1="346.3" y1="89.27" x2="346.3" y2="90.74" stroke="#6a6a6a" stroke-width="0.8"/>
<line x1="345.3" y1="89.27" x2="347.3" y2="89.27" stroke="#6a6a6a" stroke-width="0.7"/>
<line x1="345.3" y1="90.74" x2="347.3" y2="90.74" stroke="#6a6a6a" stroke-width="0.7"/>
<line x1="353.5" y1="90.19" x2="353.5" y2="91.66" stroke="#6a6a6a" stroke-width="0.8"/>
<line x1="352.5" y1="90.19" x2="354.5" y2="90.19" stroke="#6a6a6a" stroke-width="0.7"/>
<line x1="352.5" y1="91.66" x2="354.5" y2="91.66" stroke="#6a6a6a" stroke-width="0.7"/>
<line x1="360.7" y1="90.65" x2="360.7" y2="92.12" stroke="#6a6a6a" stroke-width="0.8"/>
<line x1="359.7" y1="90.65" x2="361.7" y2="90.65" stroke="#6a6a6a" stroke-width="0.7"/>
<line x1="359.7" y1="92.12" x2="361.7" y2="92.12" stroke="#6a6a6a" stroke-width="0.7"/>
<line x1="367.9" y1="101.21" x2="367.9" y2="102.68" stroke="#6a6a6a" stroke-width="0.8"/>
<line x1="366.9" y1="101.21" x2="368.9" y2="101.21" stroke="#6a6a6a" stroke-width="0.7"/>
<line x1="366.9" y1="102.68" x2="368.9" y2="102.68" stroke="#6a6a6a" stroke-width="0.7"/>
<line x1="375.1" y1="101.39" x2="375.1" y2="102.86" stroke="#6a6a6a" stroke-width="0.8"/>
<line x1="374.1" y1="101.39" x2="376.1" y2="101.39" stroke="#6a6a6a" stroke-width="0.7"/>
<line x1="374.1" y1="102.86" x2="376.1" y2="102.86" stroke="#6a6a6a" stroke-width="0.7"/>
<line x1="382.3" y1="101.39" x2="382.3" y2="102.86" stroke="#6a6a6a" stroke-width="0.8"/>
<line x1="381.3" y1="101.39" x2="383.3" y2="101.39" stroke="#6a6a6a" stroke-width="0.7"/>
<line x1="381.3" y1="102.86" x2="383.3" y2="102.86" stroke="#6a6a6a" stroke-width="0.7"/>
<line x1="389.5" y1="101.39" x2="389.5" y2="102.86" stroke="#6a6a6a" stroke-width="0.8"/>
<line x1="388.5" y1="101.39" x2="390.5" y2="101.39" stroke="#6a6a6a" stroke-width="0.7"/>
<line x1="388.5" y1="102.86" x2="390.5" y2="102.86" stroke="#6a6a6a" stroke-width="0.7"/>
<line x1="396.7" y1="101.39" x2="396.7" y2="102.86" stroke="#6a6a6a" stroke-width="0.8"/>
<line x1="395.7" y1="101.39" x2="397.7" y2="101.39" stroke="#6a6a6a" stroke-width="0.7"/>
<line x1="395.7" y1="102.86" x2="397.7" y2="102.86" stroke="#6a6a6a" stroke-width="0.7"/>
<line x1="403.9" y1="101.39" x2="403.9" y2="102.86" stroke="#6a6a6a" stroke-width="0.8"/>
<line x1="402.9" y1="101.39" x2="404.9" y2="101.39" stroke="#6a6a6a" stroke-width="0.7"/>
<line x1="402.9" y1="102.86" x2="404.9" y2="102.86" stroke="#6a6a6a" stroke-width="0.7"/>
<line x1="411.1" y1="101.39" x2="411.1" y2="102.86" stroke="#6a6a6a" stroke-width="0.8"/>
<line x1="410.1" y1="101.39" x2="412.1" y2="101.39" stroke="#6a6a6a" stroke-width="0.7"/>
<line x1="410.1" y1="102.86" x2="412.1" y2="102.86" stroke="#6a6a6a" stroke-width="0.7"/>
<line x1="418.3" y1="101.39" x2="418.3" y2="102.86" stroke="#6a6a6a" stroke-width="0.8"/>
<line x1="417.3" y1="101.39" x2="419.3" y2="101.39" stroke="#6a6a6a" stroke-width="0.7"/>
<line x1="417.3" y1="102.86" x2="419.3" y2="102.86" stroke="#6a6a6a" stroke-width="0.7"/>
<line x1="425.5" y1="101.39" x2="425.5" y2="102.86" stroke="#6a6a6a" stroke-width="0.8"/>
<line x1="424.5" y1="101.39" x2="426.5" y2="101.39" stroke="#6a6a6a" stroke-width="0.7"/>
<line x1="424.5" y1="102.86" x2="426.5" y2="102.86" stroke="#6a6a6a" stroke-width="0.7"/>
<path d="M303.1,91.84 L310.3,93.22 L317.5,93.22 L324.7,98.27 L331.9,100.11 L339.1,100.11 L346.3,90.01 L353.5,90.93 L360.7,91.38 L367.9,101.94 L375.1,102.12 L382.3,102.12 L389.5,102.12 L396.7,102.12 L403.9,102.12 L411.1,102.12 L418.3,102.12 L425.5,102.12" fill="none" stroke="#36a935" stroke-width="1.0"/>
<circle cx="303.1" cy="91.84" r="1.85" fill="#36a935"/>
<circle cx="310.3" cy="93.22" r="1.85" fill="#36a935"/>
<circle cx="317.5" cy="93.22" r="1.85" fill="#36a935"/>
<circle cx="324.7" cy="98.27" r="1.85" fill="#36a935"/>
<circle cx="331.9" cy="100.11" r="1.85" fill="#36a935"/>
<circle cx="339.1" cy="100.11" r="1.85" fill="#36a935"/>
<circle cx="346.3" cy="90.01" r="1.85" fill="#36a935"/>
<circle cx="353.5" cy="90.93" r="1.85" fill="#36a935"/>
<circle cx="360.7" cy="91.38" r="1.85" fill="#36a935"/>
<circle cx="367.9" cy="101.94" r="1.85" fill="#36a935"/>
<circle cx="375.1" cy="102.12" r="1.85" fill="#36a935"/>
<circle cx="382.3" cy="102.12" r="1.85" fill="#36a935"/>
<circle cx="389.5" cy="102.12" r="1.85" fill="#36a935"/>
<circle cx="396.7" cy="102.12" r="1.85" fill="#36a935"/>
<circle cx="403.9" cy="102.12" r="1.85" fill="#36a935"/>
<circle cx="411.1" cy="102.12" r="1.85" fill="#36a935"/>
<circle cx="418.3" cy="102.12" r="1.85" fill="#36a935"/>
<circle cx="425.5" cy="102.12" r="1.85" fill="#36a935"/>
<text x="385.2" y="55.2" font-size="6.3" fill="#222" stroke="#222" stroke-width="0.15" textLength="18" lengthAdjust="spacingAndGlyphs">TMD8</text>
<rect x="385.2" y="60" width="4.4" height="4.4" fill="#36a935" />
<text x="392.8" y="64.5" font-size="6.4" fill="#222" stroke="#222" stroke-width="0.15" textLength="24" lengthAdjust="spacingAndGlyphs">Parental</text>
<rect x="385.2" y="67.6" width="4.4" height="4.4" fill="#cd0a2c" />
<text x="392.8" y="72.1" font-size="6.4" fill="#222" stroke="#222" stroke-width="0.15" textLength="17.5" lengthAdjust="spacingAndGlyphs">IBR#3</text>
<rect x="385.2" y="75.3" width="4.4" height="4.4" fill="#1b4a85" />
<text x="392.8" y="79.8" font-size="6.4" fill="#222" stroke="#222" stroke-width="0.15" textLength="17.5" lengthAdjust="spacingAndGlyphs">IBR#6</text>
<rect x="480.3" y="35.7" width="4.4" height="4.4" fill="#36a935" />
<text x="487.5" y="40.2" font-size="6.4" fill="#222" stroke="#222" stroke-width="0.15" textLength="24" lengthAdjust="spacingAndGlyphs">Parental</text>
<rect x="480.3" y="44.1" width="4.4" height="4.4" fill="#cd0a2c" />
<text x="487.5" y="48.6" font-size="6.4" fill="#222" stroke="#222" stroke-width="0.15" textLength="17.5" lengthAdjust="spacingAndGlyphs">IBR#3</text>
<rect x="480.3" y="52.3" width="4.4" height="4.4" fill="#1b4a85" />
<text x="487.5" y="56.8" font-size="6.4" fill="#222" stroke="#222" stroke-width="0.15" textLength="17.5" lengthAdjust="spacingAndGlyphs">IBR#6</text>
<line x1="485.05" y1="91.28" x2="485.05" y2="91.9" stroke="#444" stroke-width="0.8"/>
<line x1="483.45" y1="91.28" x2="486.65" y2="91.28" stroke="#444" stroke-width="0.8"/>
<rect x="481.8" y="91.9" width="6.5" height="20.6" fill="#36a935" />
<line x1="496.2" y1="76.04" x2="496.2" y2="78.51" stroke="#444" stroke-width="0.8"/>
<line x1="494.6" y1="76.04" x2="497.8" y2="76.04" stroke="#444" stroke-width="0.8"/>
<rect x="492.6" y="78.51" width="7.2" height="33.99" fill="#cd0a2c" />
<text x="496.2" y="75.7" font-size="6.6" text-anchor="middle" fill="#222" stroke="#222" stroke-width="0.15">***</text>
<line x1="507.6" y1="64.3" x2="507.6" y2="71.3" stroke="#444" stroke-width="0.8"/>
<line x1="506" y1="64.3" x2="509.2" y2="64.3" stroke="#444" stroke-width="0.8"/>
<rect x="504.1" y="71.3" width="7" height="41.2" fill="#1b4a85" />
<text x="507.6" y="65.2" font-size="6.6" text-anchor="middle" fill="#222" stroke="#222" stroke-width="0.15">**</text>
<line x1="479.1" y1="112.5" x2="512.8" y2="112.5" stroke="#222" stroke-width="1.1"/>
<line x1="485.05" y1="112.5" x2="485.05" y2="114.7" stroke="#222" stroke-width="0.8"/>
<line x1="496.2" y1="112.5" x2="496.2" y2="114.7" stroke="#222" stroke-width="0.8"/>
<line x1="507.6" y1="112.5" x2="507.6" y2="114.7" stroke="#222" stroke-width="0.8"/>
<line x1="479.6" y1="60.5" x2="479.6" y2="113" stroke="#222" stroke-width="1.1"/>
<line x1="477.1" y1="112.5" x2="479.6" y2="112.5" stroke="#222" stroke-width="0.9"/>
<text x="474.6" y="114.95" font-size="6.8" text-anchor="end" fill="#222" stroke="#222" stroke-width="0.15">0</text>
<line x1="477.1" y1="102.2" x2="479.6" y2="102.2" stroke="#222" stroke-width="0.9"/>
<text x="474.6" y="104.65" font-size="6.8" text-anchor="end" fill="#222" stroke="#222" stroke-width="0.15">50</text>
<line x1="477.1" y1="91.9" x2="479.6" y2="91.9" stroke="#222" stroke-width="0.9"/>
<text x="474.6" y="94.35" font-size="6.8" text-anchor="end" fill="#222" stroke="#222" stroke-width="0.15">100</text>
<line x1="477.1" y1="81.6" x2="479.6" y2="81.6" stroke="#222" stroke-width="0.9"/>
<text x="474.6" y="84.05" font-size="6.8" text-anchor="end" fill="#222" stroke="#222" stroke-width="0.15">150</text>
<line x1="477.1" y1="71.3" x2="479.6" y2="71.3" stroke="#222" stroke-width="0.9"/>
<text x="474.6" y="73.75" font-size="6.8" text-anchor="end" fill="#222" stroke="#222" stroke-width="0.15">200</text>
<line x1="477.1" y1="61" x2="479.6" y2="61" stroke="#222" stroke-width="0.9"/>
<text x="474.6" y="63.45" font-size="6.8" text-anchor="end" fill="#222" stroke="#222" stroke-width="0.15">250</text>
<text x="457.6" y="84.5" font-size="8.2" text-anchor="middle" fill="#222" stroke="#222" stroke-width="0.15" textLength="68.5" lengthAdjust="spacingAndGlyphs" transform="rotate(-90 457.6 84.5)">Basal OCR (pmol/min)</text>
<line x1="48.8" y1="213.75" x2="182.5" y2="213.75" stroke="#222" stroke-width="1.1"/>
<line x1="49.3" y1="213.75" x2="49.3" y2="216.25" stroke="#222" stroke-width="0.9"/>
<text x="49.3" y="225.65" font-size="6.4" text-anchor="middle" fill="#222" stroke="#222" stroke-width="0.15">0</text>
<line x1="71" y1="213.75" x2="71" y2="216.25" stroke="#222" stroke-width="0.9"/>
<text x="71" y="225.65" font-size="6.4" text-anchor="middle" fill="#222" stroke="#222" stroke-width="0.15">20</text>
<line x1="92.7" y1="213.75" x2="92.7" y2="216.25" stroke="#222" stroke-width="0.9"/>
<text x="92.7" y="225.65" font-size="6.4" text-anchor="middle" fill="#222" stroke="#222" stroke-width="0.15">40</text>
<line x1="114.4" y1="213.75" x2="114.4" y2="216.25" stroke="#222" stroke-width="0.9"/>
<text x="114.4" y="225.65" font-size="6.4" text-anchor="middle" fill="#222" stroke="#222" stroke-width="0.15">60</text>
<line x1="136.1" y1="213.75" x2="136.1" y2="216.25" stroke="#222" stroke-width="0.9"/>
<text x="136.1" y="225.65" font-size="6.4" text-anchor="middle" fill="#222" stroke="#222" stroke-width="0.15">80</text>
<line x1="157.8" y1="213.75" x2="157.8" y2="216.25" stroke="#222" stroke-width="0.9"/>
<text x="157.8" y="225.65" font-size="6.4" text-anchor="middle" fill="#222" stroke="#222" stroke-width="0.15">100</text>
<line x1="179.5" y1="213.75" x2="179.5" y2="216.25" stroke="#222" stroke-width="0.9"/>
<text x="179.5" y="225.65" font-size="6.4" text-anchor="middle" fill="#222" stroke="#222" stroke-width="0.15">120</text>
<line x1="49.3" y1="148.75" x2="49.3" y2="214.25" stroke="#222" stroke-width="1.1"/>
<line x1="46.8" y1="213.75" x2="49.3" y2="213.75" stroke="#222" stroke-width="0.9"/>
<text x="43.3" y="216.05" font-size="6.4" text-anchor="end" fill="#222" stroke="#222" stroke-width="0.15">0</text>
<line x1="46.8" y1="203" x2="49.3" y2="203" stroke="#222" stroke-width="0.9"/>
<text x="43.3" y="205.3" font-size="6.4" text-anchor="end" fill="#222" stroke="#222" stroke-width="0.15">100</text>
<line x1="46.8" y1="192.25" x2="49.3" y2="192.25" stroke="#222" stroke-width="0.9"/>
<text x="43.3" y="194.55" font-size="6.4" text-anchor="end" fill="#222" stroke="#222" stroke-width="0.15">200</text>
<line x1="46.8" y1="181.5" x2="49.3" y2="181.5" stroke="#222" stroke-width="0.9"/>
<text x="43.3" y="183.8" font-size="6.4" text-anchor="end" fill="#222" stroke="#222" stroke-width="0.15">300</text>
<line x1="46.8" y1="170.75" x2="49.3" y2="170.75" stroke="#222" stroke-width="0.9"/>
<text x="43.3" y="173.05" font-size="6.4" text-anchor="end" fill="#222" stroke="#222" stroke-width="0.15">400</text>
<line x1="46.8" y1="160" x2="49.3" y2="160" stroke="#222" stroke-width="0.9"/>
<text x="43.3" y="162.3" font-size="6.4" text-anchor="end" fill="#222" stroke="#222" stroke-width="0.15">500</text>
<line x1="46.8" y1="149.25" x2="49.3" y2="149.25" stroke="#222" stroke-width="0.9"/>
<text x="43.3" y="151.55" font-size="6.4" text-anchor="end" fill="#222" stroke="#222" stroke-width="0.15">600</text>
<text x="100" y="141.6" font-size="8.6" fill="#222" stroke="#222" stroke-width="0.15" textLength="31" lengthAdjust="spacingAndGlyphs">Glucose</text>
<text x="27.2" y="180.8" font-size="8.4" text-anchor="middle" fill="#222" stroke="#222" stroke-width="0.15" textLength="51.7" lengthAdjust="spacingAndGlyphs" transform="rotate(-90 27.2 180.8)">OCR (pmol/min)</text>
<text x="116.3" y="238" font-size="8.6" text-anchor="middle" fill="#222" stroke="#222" stroke-width="0.15" textLength="33.2" lengthAdjust="spacingAndGlyphs">Time (min)</text>
<line x1="50.4" y1="200.2" x2="50.4" y2="201.5" stroke="#4a3f66" stroke-width="0.8"/>
<line x1="49.4" y1="200.2" x2="51.4" y2="200.2" stroke="#4a3f66" stroke-width="0.7"/>
<line x1="49.4" y1="201.5" x2="51.4" y2="201.5" stroke="#4a3f66" stroke-width="0.7"/>
<line x1="57.6" y1="200.85" x2="57.6" y2="201.92" stroke="#4a3f66" stroke-width="0.8"/>
<line x1="56.6" y1="200.85" x2="58.6" y2="200.85" stroke="#4a3f66" stroke-width="0.7"/>
<line x1="56.6" y1="201.92" x2="58.6" y2="201.92" stroke="#4a3f66" stroke-width="0.7"/>
<line x1="64.8" y1="200.85" x2="64.8" y2="201.92" stroke="#4a3f66" stroke-width="0.8"/>
<line x1="63.8" y1="200.85" x2="65.8" y2="200.85" stroke="#4a3f66" stroke-width="0.7"/>
<line x1="63.8" y1="201.92" x2="65.8" y2="201.92" stroke="#4a3f66" stroke-width="0.7"/>
<line x1="72" y1="203" x2="72" y2="204.07" stroke="#4a3f66" stroke-width="0.8"/>
<line x1="71" y1="203" x2="73" y2="203" stroke="#4a3f66" stroke-width="0.7"/>
<line x1="71" y1="204.07" x2="73" y2="204.07" stroke="#4a3f66" stroke-width="0.7"/>
<line x1="79.2" y1="205.79" x2="79.2" y2="206.66" stroke="#4a3f66" stroke-width="0.8"/>
<line x1="78.2" y1="205.79" x2="80.2" y2="205.79" stroke="#4a3f66" stroke-width="0.7"/>
<line x1="78.2" y1="206.66" x2="80.2" y2="206.66" stroke="#4a3f66" stroke-width="0.7"/>
<line x1="86.4" y1="207.41" x2="86.4" y2="208.27" stroke="#4a3f66" stroke-width="0.8"/>
<line x1="85.4" y1="207.41" x2="87.4" y2="207.41" stroke="#4a3f66" stroke-width="0.7"/>
<line x1="85.4" y1="208.27" x2="87.4" y2="208.27" stroke="#4a3f66" stroke-width="0.7"/>
<line x1="93.6" y1="174.51" x2="93.6" y2="177.74" stroke="#4a3f66" stroke-width="0.8"/>
<line x1="92.6" y1="174.51" x2="94.6" y2="174.51" stroke="#4a3f66" stroke-width="0.7"/>
<line x1="92.6" y1="177.74" x2="94.6" y2="177.74" stroke="#4a3f66" stroke-width="0.7"/>
<line x1="100.8" y1="169.14" x2="100.8" y2="172.36" stroke="#4a3f66" stroke-width="0.8"/>
<line x1="99.8" y1="169.14" x2="101.8" y2="169.14" stroke="#4a3f66" stroke-width="0.7"/>
<line x1="99.8" y1="172.36" x2="101.8" y2="172.36" stroke="#4a3f66" stroke-width="0.7"/>
<line x1="108" y1="169.67" x2="108" y2="172.9" stroke="#4a3f66" stroke-width="0.8"/>
<line x1="107" y1="169.67" x2="109" y2="169.67" stroke="#4a3f66" stroke-width="0.7"/>
<line x1="107" y1="172.9" x2="109" y2="172.9" stroke="#4a3f66" stroke-width="0.7"/>
<line x1="115.2" y1="210.74" x2="115.2" y2="211.38" stroke="#4a3f66" stroke-width="0.8"/>
<line x1="114.2" y1="210.74" x2="116.2" y2="210.74" stroke="#4a3f66" stroke-width="0.7"/>
<line x1="114.2" y1="211.38" x2="116.2" y2="211.38" stroke="#4a3f66" stroke-width="0.7"/>
<line x1="122.4" y1="210.74" x2="122.4" y2="211.38" stroke="#4a3f66" stroke-width="0.8"/>
<line x1="121.4" y1="210.74" x2="123.4" y2="210.74" stroke="#4a3f66" stroke-width="0.7"/>
<line x1="121.4" y1="211.38" x2="123.4" y2="211.38" stroke="#4a3f66" stroke-width="0.7"/>
<line x1="129.6" y1="210.74" x2="129.6" y2="211.38" stroke="#4a3f66" stroke-width="0.8"/>
<line x1="128.6" y1="210.74" x2="130.6" y2="210.74" stroke="#4a3f66" stroke-width="0.7"/>
<line x1="128.6" y1="211.38" x2="130.6" y2="211.38" stroke="#4a3f66" stroke-width="0.7"/>
<line x1="136.8" y1="210.74" x2="136.8" y2="211.38" stroke="#4a3f66" stroke-width="0.8"/>
<line x1="135.8" y1="210.74" x2="137.8" y2="210.74" stroke="#4a3f66" stroke-width="0.7"/>
<line x1="135.8" y1="211.38" x2="137.8" y2="211.38" stroke="#4a3f66" stroke-width="0.7"/>
<line x1="144" y1="210.74" x2="144" y2="211.38" stroke="#4a3f66" stroke-width="0.8"/>
<line x1="143" y1="210.74" x2="145" y2="210.74" stroke="#4a3f66" stroke-width="0.7"/>
<line x1="143" y1="211.38" x2="145" y2="211.38" stroke="#4a3f66" stroke-width="0.7"/>
<line x1="151.2" y1="210.74" x2="151.2" y2="211.38" stroke="#4a3f66" stroke-width="0.8"/>
<line x1="150.2" y1="210.74" x2="152.2" y2="210.74" stroke="#4a3f66" stroke-width="0.7"/>
<line x1="150.2" y1="211.38" x2="152.2" y2="211.38" stroke="#4a3f66" stroke-width="0.7"/>
<line x1="158.4" y1="210.74" x2="158.4" y2="211.38" stroke="#4a3f66" stroke-width="0.8"/>
<line x1="157.4" y1="210.74" x2="159.4" y2="210.74" stroke="#4a3f66" stroke-width="0.7"/>
<line x1="157.4" y1="211.38" x2="159.4" y2="211.38" stroke="#4a3f66" stroke-width="0.7"/>
<line x1="165.6" y1="210.74" x2="165.6" y2="211.38" stroke="#4a3f66" stroke-width="0.8"/>
<line x1="164.6" y1="210.74" x2="166.6" y2="210.74" stroke="#4a3f66" stroke-width="0.7"/>
<line x1="164.6" y1="211.38" x2="166.6" y2="211.38" stroke="#4a3f66" stroke-width="0.7"/>
<line x1="172.8" y1="210.74" x2="172.8" y2="211.38" stroke="#4a3f66" stroke-width="0.8"/>
<line x1="171.8" y1="210.74" x2="173.8" y2="210.74" stroke="#4a3f66" stroke-width="0.7"/>
<line x1="171.8" y1="211.38" x2="173.8" y2="211.38" stroke="#4a3f66" stroke-width="0.7"/>
<path d="M50.4,200.85 L57.6,201.39 L64.8,201.39 L72,203.54 L79.2,206.22 L86.4,207.84 L93.6,176.12 L100.8,170.75 L108,171.29 L115.2,211.06 L122.4,211.06 L129.6,211.06 L136.8,211.06 L144,211.06 L151.2,211.06 L158.4,211.06 L165.6,211.06 L172.8,211.06" fill="none" stroke="#9086c8" stroke-width="1.0"/>
<circle cx="50.4" cy="200.85" r="1.85" fill="#9086c8"/>
<circle cx="57.6" cy="201.39" r="1.85" fill="#9086c8"/>
<circle cx="64.8" cy="201.39" r="1.85" fill="#9086c8"/>
<circle cx="72" cy="203.54" r="1.85" fill="#9086c8"/>
<circle cx="79.2" cy="206.22" r="1.85" fill="#9086c8"/>
<circle cx="86.4" cy="207.84" r="1.85" fill="#9086c8"/>
<circle cx="93.6" cy="176.12" r="1.85" fill="#9086c8"/>
<circle cx="100.8" cy="170.75" r="1.85" fill="#9086c8"/>
<circle cx="108" cy="171.29" r="1.85" fill="#9086c8"/>
<circle cx="115.2" cy="211.06" r="1.85" fill="#9086c8"/>
<circle cx="122.4" cy="211.06" r="1.85" fill="#9086c8"/>
<circle cx="129.6" cy="211.06" r="1.85" fill="#9086c8"/>
<circle cx="136.8" cy="211.06" r="1.85" fill="#9086c8"/>
<circle cx="144" cy="211.06" r="1.85" fill="#9086c8"/>
<circle cx="151.2" cy="211.06" r="1.85" fill="#9086c8"/>
<circle cx="158.4" cy="211.06" r="1.85" fill="#9086c8"/>
<circle cx="165.6" cy="211.06" r="1.85" fill="#9086c8"/>
<circle cx="172.8" cy="211.06" r="1.85" fill="#9086c8"/>
<line x1="50.4" y1="203.75" x2="50.4" y2="205.47" stroke="#4a3f66" stroke-width="0.8"/>
<line x1="49.4" y1="203.75" x2="51.4" y2="203.75" stroke="#4a3f66" stroke-width="0.7"/>
<line x1="49.4" y1="205.47" x2="51.4" y2="205.47" stroke="#4a3f66" stroke-width="0.7"/>
<line x1="57.6" y1="205.58" x2="57.6" y2="206.87" stroke="#4a3f66" stroke-width="0.8"/>
<line x1="56.6" y1="205.58" x2="58.6" y2="205.58" stroke="#4a3f66" stroke-width="0.7"/>
<line x1="56.6" y1="206.87" x2="58.6" y2="206.87" stroke="#4a3f66" stroke-width="0.7"/>
<line x1="64.8" y1="205.58" x2="64.8" y2="206.87" stroke="#4a3f66" stroke-width="0.8"/>
<line x1="63.8" y1="205.58" x2="65.8" y2="205.58" stroke="#4a3f66" stroke-width="0.7"/>
<line x1="63.8" y1="206.87" x2="65.8" y2="206.87" stroke="#4a3f66" stroke-width="0.7"/>
<line x1="72" y1="208.27" x2="72" y2="209.56" stroke="#4a3f66" stroke-width="0.8"/>
<line x1="71" y1="208.27" x2="73" y2="208.27" stroke="#4a3f66" stroke-width="0.7"/>
<line x1="71" y1="209.56" x2="73" y2="209.56" stroke="#4a3f66" stroke-width="0.7"/>
<line x1="79.2" y1="209.45" x2="79.2" y2="210.53" stroke="#4a3f66" stroke-width="0.8"/>
<line x1="78.2" y1="209.45" x2="80.2" y2="209.45" stroke="#4a3f66" stroke-width="0.7"/>
<line x1="78.2" y1="210.53" x2="80.2" y2="210.53" stroke="#4a3f66" stroke-width="0.7"/>
<line x1="86.4" y1="209.45" x2="86.4" y2="210.53" stroke="#4a3f66" stroke-width="0.8"/>
<line x1="85.4" y1="209.45" x2="87.4" y2="209.45" stroke="#4a3f66" stroke-width="0.7"/>
<line x1="85.4" y1="210.53" x2="87.4" y2="210.53" stroke="#4a3f66" stroke-width="0.7"/>
<line x1="93.6" y1="197.95" x2="93.6" y2="202.68" stroke="#4a3f66" stroke-width="0.8"/>
<line x1="92.6" y1="197.95" x2="94.6" y2="197.95" stroke="#4a3f66" stroke-width="0.7"/>
<line x1="92.6" y1="202.68" x2="94.6" y2="202.68" stroke="#4a3f66" stroke-width="0.7"/>
<line x1="100.8" y1="194.72" x2="100.8" y2="199.45" stroke="#4a3f66" stroke-width="0.8"/>
<line x1="99.8" y1="194.72" x2="101.8" y2="194.72" stroke="#4a3f66" stroke-width="0.7"/>
<line x1="99.8" y1="199.45" x2="101.8" y2="199.45" stroke="#4a3f66" stroke-width="0.7"/>
<line x1="108" y1="195.47" x2="108" y2="199.78" stroke="#4a3f66" stroke-width="0.8"/>
<line x1="107" y1="195.47" x2="109" y2="195.47" stroke="#4a3f66" stroke-width="0.7"/>
<line x1="107" y1="199.78" x2="109" y2="199.78" stroke="#4a3f66" stroke-width="0.7"/>
<line x1="115.2" y1="211.17" x2="115.2" y2="212.03" stroke="#4a3f66" stroke-width="0.8"/>
<line x1="114.2" y1="211.17" x2="116.2" y2="211.17" stroke="#4a3f66" stroke-width="0.7"/>
<line x1="114.2" y1="212.03" x2="116.2" y2="212.03" stroke="#4a3f66" stroke-width="0.7"/>
<line x1="122.4" y1="211.17" x2="122.4" y2="212.03" stroke="#4a3f66" stroke-width="0.8"/>
<line x1="121.4" y1="211.17" x2="123.4" y2="211.17" stroke="#4a3f66" stroke-width="0.7"/>
<line x1="121.4" y1="212.03" x2="123.4" y2="212.03" stroke="#4a3f66" stroke-width="0.7"/>
<line x1="129.6" y1="211.17" x2="129.6" y2="212.03" stroke="#4a3f66" stroke-width="0.8"/>
<line x1="128.6" y1="211.17" x2="130.6" y2="211.17" stroke="#4a3f66" stroke-width="0.7"/>
<line x1="128.6" y1="212.03" x2="130.6" y2="212.03" stroke="#4a3f66" stroke-width="0.7"/>
<line x1="136.8" y1="211.17" x2="136.8" y2="212.03" stroke="#4a3f66" stroke-width="0.8"/>
<line x1="135.8" y1="211.17" x2="137.8" y2="211.17" stroke="#4a3f66" stroke-width="0.7"/>
<line x1="135.8" y1="212.03" x2="137.8" y2="212.03" stroke="#4a3f66" stroke-width="0.7"/>
<line x1="144" y1="211.17" x2="144" y2="212.03" stroke="#4a3f66" stroke-width="0.8"/>
<line x1="143" y1="211.17" x2="145" y2="211.17" stroke="#4a3f66" stroke-width="0.7"/>
<line x1="143" y1="212.03" x2="145" y2="212.03" stroke="#4a3f66" stroke-width="0.7"/>
<line x1="151.2" y1="211.17" x2="151.2" y2="212.03" stroke="#4a3f66" stroke-width="0.8"/>
<line x1="150.2" y1="211.17" x2="152.2" y2="211.17" stroke="#4a3f66" stroke-width="0.7"/>
<line x1="150.2" y1="212.03" x2="152.2" y2="212.03" stroke="#4a3f66" stroke-width="0.7"/>
<line x1="158.4" y1="211.17" x2="158.4" y2="212.03" stroke="#4a3f66" stroke-width="0.8"/>
<line x1="157.4" y1="211.17" x2="159.4" y2="211.17" stroke="#4a3f66" stroke-width="0.7"/>
<line x1="157.4" y1="212.03" x2="159.4" y2="212.03" stroke="#4a3f66" stroke-width="0.7"/>
<line x1="165.6" y1="211.17" x2="165.6" y2="212.03" stroke="#4a3f66" stroke-width="0.8"/>
<line x1="164.6" y1="211.17" x2="166.6" y2="211.17" stroke="#4a3f66" stroke-width="0.7"/>
<line x1="164.6" y1="212.03" x2="166.6" y2="212.03" stroke="#4a3f66" stroke-width="0.7"/>
<line x1="172.8" y1="211.17" x2="172.8" y2="212.03" stroke="#4a3f66" stroke-width="0.8"/>
<line x1="171.8" y1="211.17" x2="173.8" y2="211.17" stroke="#4a3f66" stroke-width="0.7"/>
<line x1="171.8" y1="212.03" x2="173.8" y2="212.03" stroke="#4a3f66" stroke-width="0.7"/>
<path d="M50.4,204.61 L57.6,206.22 L64.8,206.22 L72,208.91 L79.2,209.99 L86.4,209.99 L93.6,200.31 L100.8,197.09 L108,197.62 L115.2,211.6 L122.4,211.6 L129.6,211.6 L136.8,211.6 L144,211.6 L151.2,211.6 L158.4,211.6 L165.6,211.6 L172.8,211.6" fill="none" stroke="#36a935" stroke-width="1.0"/>
<circle cx="50.4" cy="204.61" r="1.85" fill="#36a935"/>
<circle cx="57.6" cy="206.22" r="1.85" fill="#36a935"/>
<circle cx="64.8" cy="206.22" r="1.85" fill="#36a935"/>
<circle cx="72" cy="208.91" r="1.85" fill="#36a935"/>
<circle cx="79.2" cy="209.99" r="1.85" fill="#36a935"/>
<circle cx="86.4" cy="209.99" r="1.85" fill="#36a935"/>
<circle cx="93.6" cy="200.31" r="1.85" fill="#36a935"/>
<circle cx="100.8" cy="197.09" r="1.85" fill="#36a935"/>
<circle cx="108" cy="197.62" r="1.85" fill="#36a935"/>
<circle cx="115.2" cy="211.6" r="1.85" fill="#36a935"/>
<circle cx="122.4" cy="211.6" r="1.85" fill="#36a935"/>
<circle cx="129.6" cy="211.6" r="1.85" fill="#36a935"/>
<circle cx="136.8" cy="211.6" r="1.85" fill="#36a935"/>
<circle cx="144" cy="211.6" r="1.85" fill="#36a935"/>
<circle cx="151.2" cy="211.6" r="1.85" fill="#36a935"/>
<circle cx="158.4" cy="211.6" r="1.85" fill="#36a935"/>
<circle cx="165.6" cy="211.6" r="1.85" fill="#36a935"/>
<circle cx="172.8" cy="211.6" r="1.85" fill="#36a935"/>
<line x1="50.4" y1="198.7" x2="50.4" y2="201.93" stroke="#4a3f66" stroke-width="0.8"/>
<line x1="49.4" y1="198.7" x2="51.4" y2="198.7" stroke="#4a3f66" stroke-width="0.7"/>
<line x1="49.4" y1="201.93" x2="51.4" y2="201.93" stroke="#4a3f66" stroke-width="0.7"/>
<line x1="57.6" y1="199.78" x2="57.6" y2="201.92" stroke="#4a3f66" stroke-width="0.8"/>
<line x1="56.6" y1="199.78" x2="58.6" y2="199.78" stroke="#4a3f66" stroke-width="0.7"/>
<line x1="56.6" y1="201.92" x2="58.6" y2="201.92" stroke="#4a3f66" stroke-width="0.7"/>
<line x1="64.8" y1="199.78" x2="64.8" y2="201.92" stroke="#4a3f66" stroke-width="0.8"/>
<line x1="63.8" y1="199.78" x2="65.8" y2="199.78" stroke="#4a3f66" stroke-width="0.7"/>
<line x1="63.8" y1="201.92" x2="65.8" y2="201.92" stroke="#4a3f66" stroke-width="0.7"/>
<line x1="72" y1="201.71" x2="72" y2="204.29" stroke="#4a3f66" stroke-width="0.8"/>
<line x1="71" y1="201.71" x2="73" y2="201.71" stroke="#4a3f66" stroke-width="0.7"/>
<line x1="71" y1="204.29" x2="73" y2="204.29" stroke="#4a3f66" stroke-width="0.7"/>
<line x1="79.2" y1="204.83" x2="79.2" y2="206.55" stroke="#4a3f66" stroke-width="0.8"/>
<line x1="78.2" y1="204.83" x2="80.2" y2="204.83" stroke="#4a3f66" stroke-width="0.7"/>
<line x1="78.2" y1="206.55" x2="80.2" y2="206.55" stroke="#4a3f66" stroke-width="0.7"/>
<line x1="86.4" y1="206.44" x2="86.4" y2="208.16" stroke="#4a3f66" stroke-width="0.8"/>
<line x1="85.4" y1="206.44" x2="87.4" y2="206.44" stroke="#4a3f66" stroke-width="0.7"/>
<line x1="85.4" y1="208.16" x2="87.4" y2="208.16" stroke="#4a3f66" stroke-width="0.7"/>
<line x1="93.6" y1="166.77" x2="93.6" y2="181.18" stroke="#4a3f66" stroke-width="0.8"/>
<line x1="92.6" y1="166.77" x2="94.6" y2="166.77" stroke="#4a3f66" stroke-width="0.7"/>
<line x1="92.6" y1="181.18" x2="94.6" y2="181.18" stroke="#4a3f66" stroke-width="0.7"/>
<line x1="100.8" y1="161.4" x2="100.8" y2="175.8" stroke="#4a3f66" stroke-width="0.8"/>
<line x1="99.8" y1="161.4" x2="101.8" y2="161.4" stroke="#4a3f66" stroke-width="0.7"/>
<line x1="99.8" y1="175.8" x2="101.8" y2="175.8" stroke="#4a3f66" stroke-width="0.7"/>
<line x1="108" y1="163.01" x2="108" y2="176.34" stroke="#4a3f66" stroke-width="0.8"/>
<line x1="107" y1="163.01" x2="109" y2="163.01" stroke="#4a3f66" stroke-width="0.7"/>
<line x1="107" y1="176.34" x2="109" y2="176.34" stroke="#4a3f66" stroke-width="0.7"/>
<line x1="115.2" y1="209.99" x2="115.2" y2="211.06" stroke="#4a3f66" stroke-width="0.8"/>
<line x1="114.2" y1="209.99" x2="116.2" y2="209.99" stroke="#4a3f66" stroke-width="0.7"/>
<line x1="114.2" y1="211.06" x2="116.2" y2="211.06" stroke="#4a3f66" stroke-width="0.7"/>
<line x1="122.4" y1="209.99" x2="122.4" y2="211.06" stroke="#4a3f66" stroke-width="0.8"/>
<line x1="121.4" y1="209.99" x2="123.4" y2="209.99" stroke="#4a3f66" stroke-width="0.7"/>
<line x1="121.4" y1="211.06" x2="123.4" y2="211.06" stroke="#4a3f66" stroke-width="0.7"/>
<line x1="129.6" y1="209.99" x2="129.6" y2="211.06" stroke="#4a3f66" stroke-width="0.8"/>
<line x1="128.6" y1="209.99" x2="130.6" y2="209.99" stroke="#4a3f66" stroke-width="0.7"/>
<line x1="128.6" y1="211.06" x2="130.6" y2="211.06" stroke="#4a3f66" stroke-width="0.7"/>
<line x1="136.8" y1="209.99" x2="136.8" y2="211.06" stroke="#4a3f66" stroke-width="0.8"/>
<line x1="135.8" y1="209.99" x2="137.8" y2="209.99" stroke="#4a3f66" stroke-width="0.7"/>
<line x1="135.8" y1="211.06" x2="137.8" y2="211.06" stroke="#4a3f66" stroke-width="0.7"/>
<line x1="144" y1="209.99" x2="144" y2="211.06" stroke="#4a3f66" stroke-width="0.8"/>
<line x1="143" y1="209.99" x2="145" y2="209.99" stroke="#4a3f66" stroke-width="0.7"/>
<line x1="143" y1="211.06" x2="145" y2="211.06" stroke="#4a3f66" stroke-width="0.7"/>
<line x1="151.2" y1="209.99" x2="151.2" y2="211.06" stroke="#4a3f66" stroke-width="0.8"/>
<line x1="150.2" y1="209.99" x2="152.2" y2="209.99" stroke="#4a3f66" stroke-width="0.7"/>
<line x1="150.2" y1="211.06" x2="152.2" y2="211.06" stroke="#4a3f66" stroke-width="0.7"/>
<line x1="158.4" y1="209.99" x2="158.4" y2="211.06" stroke="#4a3f66" stroke-width="0.8"/>
<line x1="157.4" y1="209.99" x2="159.4" y2="209.99" stroke="#4a3f66" stroke-width="0.7"/>
<line x1="157.4" y1="211.06" x2="159.4" y2="211.06" stroke="#4a3f66" stroke-width="0.7"/>
<line x1="165.6" y1="209.99" x2="165.6" y2="211.06" stroke="#4a3f66" stroke-width="0.8"/>
<line x1="164.6" y1="209.99" x2="166.6" y2="209.99" stroke="#4a3f66" stroke-width="0.7"/>
<line x1="164.6" y1="211.06" x2="166.6" y2="211.06" stroke="#4a3f66" stroke-width="0.7"/>
<line x1="172.8" y1="209.99" x2="172.8" y2="211.06" stroke="#4a3f66" stroke-width="0.8"/>
<line x1="171.8" y1="209.99" x2="173.8" y2="209.99" stroke="#4a3f66" stroke-width="0.7"/>
<line x1="171.8" y1="211.06" x2="173.8" y2="211.06" stroke="#4a3f66" stroke-width="0.7"/>
<path d="M50.4,200.31 L57.6,200.85 L64.8,200.85 L72,203 L79.2,205.69 L86.4,207.3 L93.6,173.97 L100.8,168.6 L108,169.68 L115.2,210.53 L122.4,210.53 L129.6,210.53 L136.8,210.53 L144,210.53 L151.2,210.53 L158.4,210.53 L165.6,210.53 L172.8,210.53" fill="none" stroke="#f38e0e" stroke-width="1.0"/>
<circle cx="50.4" cy="200.31" r="1.85" fill="#f38e0e"/>
<circle cx="57.6" cy="200.85" r="1.85" fill="#f38e0e"/>
<circle cx="64.8" cy="200.85" r="1.85" fill="#f38e0e"/>
<circle cx="72" cy="203" r="1.85" fill="#f38e0e"/>
<circle cx="79.2" cy="205.69" r="1.85" fill="#f38e0e"/>
<circle cx="86.4" cy="207.3" r="1.85" fill="#f38e0e"/>
<circle cx="93.6" cy="173.97" r="1.85" fill="#f38e0e"/>
<circle cx="100.8" cy="168.6" r="1.85" fill="#f38e0e"/>
<circle cx="108" cy="169.68" r="1.85" fill="#f38e0e"/>
<circle cx="115.2" cy="210.53" r="1.85" fill="#f38e0e"/>
<circle cx="122.4" cy="210.53" r="1.85" fill="#f38e0e"/>
<circle cx="129.6" cy="210.53" r="1.85" fill="#f38e0e"/>
<circle cx="136.8" cy="210.53" r="1.85" fill="#f38e0e"/>
<circle cx="144" cy="210.53" r="1.85" fill="#f38e0e"/>
<circle cx="151.2" cy="210.53" r="1.85" fill="#f38e0e"/>
<circle cx="158.4" cy="210.53" r="1.85" fill="#f38e0e"/>
<circle cx="165.6" cy="210.53" r="1.85" fill="#f38e0e"/>
<circle cx="172.8" cy="210.53" r="1.85" fill="#f38e0e"/>
<text x="129.2" y="169.8" font-size="6.3" fill="#222" stroke="#222" stroke-width="0.15" textLength="25" lengthAdjust="spacingAndGlyphs">OCI-Ly10</text>
<rect x="130" y="173.8" width="4.4" height="4.4" fill="#36a935" />
<text x="137.8" y="178.3" font-size="6.4" fill="#222" stroke="#222" stroke-width="0.15" textLength="24" lengthAdjust="spacingAndGlyphs">Parental</text>
<rect x="130" y="181.6" width="4.4" height="4.4" fill="#f38e0e" />
<text x="137.8" y="186.1" font-size="6.4" fill="#222" stroke="#222" stroke-width="0.15" textLength="17.5" lengthAdjust="spacingAndGlyphs">IBR#9</text>
<rect x="130" y="189.3" width="4.4" height="4.4" fill="#9086c8" />
<text x="137.8" y="193.8" font-size="6.4" fill="#222" stroke="#222" stroke-width="0.15" textLength="21.5" lengthAdjust="spacingAndGlyphs">IBR#10</text>
<rect x="228.2" y="147.8" width="4.4" height="4.4" fill="#36a935" />
<text x="235.8" y="152.3" font-size="6.4" fill="#222" stroke="#222" stroke-width="0.15" textLength="24" lengthAdjust="spacingAndGlyphs">Parental</text>
<rect x="228.2" y="156" width="4.4" height="4.4" fill="#f38e0e" />
<text x="235.8" y="160.5" font-size="6.4" fill="#222" stroke="#222" stroke-width="0.15" textLength="17.5" lengthAdjust="spacingAndGlyphs">IBR#9</text>
<rect x="228.2" y="164" width="4.4" height="4.4" fill="#9086c8" />
<text x="235.8" y="168.5" font-size="6.4" fill="#222" stroke="#222" stroke-width="0.15" textLength="21.5" lengthAdjust="spacingAndGlyphs">IBR#10</text>
<line x1="233.45" y1="202.38" x2="233.45" y2="206.12" stroke="#444" stroke-width="0.8"/>
<line x1="231.85" y1="202.38" x2="235.05" y2="202.38" stroke="#444" stroke-width="0.8"/>
<rect x="230.3" y="206.12" width="6.3" height="17.68" fill="#36a935" />
<line x1="244.45" y1="187.08" x2="244.45" y2="192.18" stroke="#444" stroke-width="0.8"/>
<line x1="242.85" y1="187.08" x2="246.05" y2="187.08" stroke="#444" stroke-width="0.8"/>
<rect x="241.2" y="192.18" width="6.5" height="31.62" fill="#f38e0e" />
<text x="244.45" y="187.2" font-size="6.6" text-anchor="middle" fill="#222" stroke="#222" stroke-width="0.15">***</text>
<line x1="255.25" y1="193.2" x2="255.25" y2="195.24" stroke="#444" stroke-width="0.8"/>
<line x1="253.65" y1="193.2" x2="256.85" y2="193.2" stroke="#444" stroke-width="0.8"/>
<rect x="252" y="195.24" width="6.5" height="28.56" fill="#9086c8" />
<text x="255.25" y="192.6" font-size="6.6" text-anchor="middle" fill="#222" stroke="#222" stroke-width="0.15">**</text>
<line x1="227.2" y1="223.8" x2="261.5" y2="223.8" stroke="#222" stroke-width="1.1"/>
<line x1="233.45" y1="223.8" x2="233.45" y2="226" stroke="#222" stroke-width="0.8"/>
<line x1="244.45" y1="223.8" x2="244.45" y2="226" stroke="#222" stroke-width="0.8"/>
<line x1="255.25" y1="223.8" x2="255.25" y2="226" stroke="#222" stroke-width="0.8"/>
<line x1="227.7" y1="172.3" x2="227.7" y2="224.3" stroke="#222" stroke-width="1.1"/>
<line x1="225.2" y1="223.8" x2="227.7" y2="223.8" stroke="#222" stroke-width="0.9"/>
<text x="222.7" y="226.25" font-size="6.8" text-anchor="end" fill="#222" stroke="#222" stroke-width="0.15">0</text>
<line x1="225.2" y1="213.6" x2="227.7" y2="213.6" stroke="#222" stroke-width="0.9"/>
<text x="222.7" y="216.05" font-size="6.8" text-anchor="end" fill="#222" stroke="#222" stroke-width="0.15">30</text>
<line x1="225.2" y1="203.4" x2="227.7" y2="203.4" stroke="#222" stroke-width="0.9"/>
<text x="222.7" y="205.85" font-size="6.8" text-anchor="end" fill="#222" stroke="#222" stroke-width="0.15">60</text>
<line x1="225.2" y1="193.2" x2="227.7" y2="193.2" stroke="#222" stroke-width="0.9"/>
<text x="222.7" y="195.65" font-size="6.8" text-anchor="end" fill="#222" stroke="#222" stroke-width="0.15">90</text>
<line x1="225.2" y1="183" x2="227.7" y2="183" stroke="#222" stroke-width="0.9"/>
<text x="222.7" y="185.45" font-size="6.8" text-anchor="end" fill="#222" stroke="#222" stroke-width="0.15">120</text>
<line x1="225.2" y1="172.8" x2="227.7" y2="172.8" stroke="#222" stroke-width="0.9"/>
<text x="222.7" y="175.25" font-size="6.8" text-anchor="end" fill="#222" stroke="#222" stroke-width="0.15">150</text>
<text x="205" y="196.5" font-size="8.2" text-anchor="middle" fill="#222" stroke="#222" stroke-width="0.15" textLength="68.5" lengthAdjust="spacingAndGlyphs" transform="rotate(-90 205 196.5)">Basal OCR (pmol/min)</text>
<line x1="301.5" y1="213.75" x2="434.5" y2="213.75" stroke="#222" stroke-width="1.1"/>
<line x1="302" y1="213.75" x2="302" y2="216.25" stroke="#222" stroke-width="0.9"/>
<text x="302" y="225.65" font-size="6.4" text-anchor="middle" fill="#222" stroke="#222" stroke-width="0.15">0</text>
<line x1="323.7" y1="213.75" x2="323.7" y2="216.25" stroke="#222" stroke-width="0.9"/>
<text x="323.7" y="225.65" font-size="6.4" text-anchor="middle" fill="#222" stroke="#222" stroke-width="0.15">20</text>
<line x1="345.4" y1="213.75" x2="345.4" y2="216.25" stroke="#222" stroke-width="0.9"/>
<text x="345.4" y="225.65" font-size="6.4" text-anchor="middle" fill="#222" stroke="#222" stroke-width="0.15">40</text>
<line x1="367.1" y1="213.75" x2="367.1" y2="216.25" stroke="#222" stroke-width="0.9"/>
<text x="367.1" y="225.65" font-size="6.4" text-anchor="middle" fill="#222" stroke="#222" stroke-width="0.15">60</text>
<line x1="388.8" y1="213.75" x2="388.8" y2="216.25" stroke="#222" stroke-width="0.9"/>
<text x="388.8" y="225.65" font-size="6.4" text-anchor="middle" fill="#222" stroke="#222" stroke-width="0.15">80</text>
<line x1="410.5" y1="213.75" x2="410.5" y2="216.25" stroke="#222" stroke-width="0.9"/>
<text x="410.5" y="225.65" font-size="6.4" text-anchor="middle" fill="#222" stroke="#222" stroke-width="0.15">100</text>
<line x1="432.2" y1="213.75" x2="432.2" y2="216.25" stroke="#222" stroke-width="0.9"/>
<text x="432.2" y="225.65" font-size="6.4" text-anchor="middle" fill="#222" stroke="#222" stroke-width="0.15">120</text>
<line x1="302" y1="148.72" x2="302" y2="214.25" stroke="#222" stroke-width="1.1"/>
<line x1="299.5" y1="213.75" x2="302" y2="213.75" stroke="#222" stroke-width="0.9"/>
<text x="296" y="216.05" font-size="6.4" text-anchor="end" fill="#222" stroke="#222" stroke-width="0.15">0</text>
<line x1="299.5" y1="206.58" x2="302" y2="206.58" stroke="#222" stroke-width="0.9"/>
<text x="296" y="208.88" font-size="6.4" text-anchor="end" fill="#222" stroke="#222" stroke-width="0.15">50</text>
<line x1="299.5" y1="199.41" x2="302" y2="199.41" stroke="#222" stroke-width="0.9"/>
<text x="296" y="201.71" font-size="6.4" text-anchor="end" fill="#222" stroke="#222" stroke-width="0.15">100</text>
<line x1="299.5" y1="192.24" x2="302" y2="192.24" stroke="#222" stroke-width="0.9"/>
<text x="296" y="194.54" font-size="6.4" text-anchor="end" fill="#222" stroke="#222" stroke-width="0.15">150</text>
<line x1="299.5" y1="185.07" x2="302" y2="185.07" stroke="#222" stroke-width="0.9"/>
<text x="296" y="187.37" font-size="6.4" text-anchor="end" fill="#222" stroke="#222" stroke-width="0.15">200</text>
<line x1="299.5" y1="177.9" x2="302" y2="177.9" stroke="#222" stroke-width="0.9"/>
<text x="296" y="180.2" font-size="6.4" text-anchor="end" fill="#222" stroke="#222" stroke-width="0.15">250</text>
<line x1="299.5" y1="170.73" x2="302" y2="170.73" stroke="#222" stroke-width="0.9"/>
<text x="296" y="173.03" font-size="6.4" text-anchor="end" fill="#222" stroke="#222" stroke-width="0.15">300</text>
<line x1="299.5" y1="163.56" x2="302" y2="163.56" stroke="#222" stroke-width="0.9"/>
<text x="296" y="165.86" font-size="6.4" text-anchor="end" fill="#222" stroke="#222" stroke-width="0.15">350</text>
<line x1="299.5" y1="156.39" x2="302" y2="156.39" stroke="#222" stroke-width="0.9"/>
<text x="296" y="158.69" font-size="6.4" text-anchor="end" fill="#222" stroke="#222" stroke-width="0.15">400</text>
<line x1="299.5" y1="149.22" x2="302" y2="149.22" stroke="#222" stroke-width="0.9"/>
<text x="296" y="151.52" font-size="6.4" text-anchor="end" fill="#222" stroke="#222" stroke-width="0.15">450</text>
<text x="352.5" y="142.2" font-size="8.6" fill="#222" stroke="#222" stroke-width="0.15" textLength="33" lengthAdjust="spacingAndGlyphs">Pyruvate</text>
<text x="279.9" y="180.8" font-size="8.4" text-anchor="middle" fill="#222" stroke="#222" stroke-width="0.15" textLength="51.7" lengthAdjust="spacingAndGlyphs" transform="rotate(-90 279.9 180.8)">OCR (pmol/min)</text>
<text x="369" y="238" font-size="8.6" text-anchor="middle" fill="#222" stroke="#222" stroke-width="0.15" textLength="33.2" lengthAdjust="spacingAndGlyphs">Time (min)</text>
<line x1="303.1" y1="198.55" x2="303.1" y2="200.27" stroke="#5a4f80" stroke-width="0.8"/>
<line x1="302.1" y1="198.55" x2="304.1" y2="198.55" stroke="#5a4f80" stroke-width="0.7"/>
<line x1="302.1" y1="200.27" x2="304.1" y2="200.27" stroke="#5a4f80" stroke-width="0.7"/>
<line x1="310.3" y1="198.69" x2="310.3" y2="200.13" stroke="#5a4f80" stroke-width="0.8"/>
<line x1="309.3" y1="198.69" x2="311.3" y2="198.69" stroke="#5a4f80" stroke-width="0.7"/>
<line x1="309.3" y1="200.13" x2="311.3" y2="200.13" stroke="#5a4f80" stroke-width="0.7"/>
<line x1="317.5" y1="198.69" x2="317.5" y2="200.13" stroke="#5a4f80" stroke-width="0.8"/>
<line x1="316.5" y1="198.69" x2="318.5" y2="198.69" stroke="#5a4f80" stroke-width="0.7"/>
<line x1="316.5" y1="200.13" x2="318.5" y2="200.13" stroke="#5a4f80" stroke-width="0.7"/>
<line x1="324.7" y1="205.15" x2="324.7" y2="206.58" stroke="#5a4f80" stroke-width="0.8"/>
<line x1="323.7" y1="205.15" x2="325.7" y2="205.15" stroke="#5a4f80" stroke-width="0.7"/>
<line x1="323.7" y1="206.58" x2="325.7" y2="206.58" stroke="#5a4f80" stroke-width="0.7"/>
<line x1="331.9" y1="208.16" x2="331.9" y2="209.3" stroke="#5a4f80" stroke-width="0.8"/>
<line x1="330.9" y1="208.16" x2="332.9" y2="208.16" stroke="#5a4f80" stroke-width="0.7"/>
<line x1="330.9" y1="209.3" x2="332.9" y2="209.3" stroke="#5a4f80" stroke-width="0.7"/>
<line x1="339.1" y1="209.59" x2="339.1" y2="210.74" stroke="#5a4f80" stroke-width="0.8"/>
<line x1="338.1" y1="209.59" x2="340.1" y2="209.59" stroke="#5a4f80" stroke-width="0.7"/>
<line x1="338.1" y1="210.74" x2="340.1" y2="210.74" stroke="#5a4f80" stroke-width="0.7"/>
<line x1="346.3" y1="172.88" x2="346.3" y2="178.62" stroke="#5a4f80" stroke-width="0.8"/>
<line x1="345.3" y1="172.88" x2="347.3" y2="172.88" stroke="#5a4f80" stroke-width="0.7"/>
<line x1="345.3" y1="178.62" x2="347.3" y2="178.62" stroke="#5a4f80" stroke-width="0.7"/>
<line x1="353.5" y1="175.03" x2="353.5" y2="180.77" stroke="#5a4f80" stroke-width="0.8"/>
<line x1="352.5" y1="175.03" x2="354.5" y2="175.03" stroke="#5a4f80" stroke-width="0.7"/>
<line x1="352.5" y1="180.77" x2="354.5" y2="180.77" stroke="#5a4f80" stroke-width="0.7"/>
<line x1="360.7" y1="177.9" x2="360.7" y2="183.64" stroke="#5a4f80" stroke-width="0.8"/>
<line x1="359.7" y1="177.9" x2="361.7" y2="177.9" stroke="#5a4f80" stroke-width="0.7"/>
<line x1="359.7" y1="183.64" x2="361.7" y2="183.64" stroke="#5a4f80" stroke-width="0.7"/>
<line x1="367.9" y1="211.89" x2="367.9" y2="212.75" stroke="#5a4f80" stroke-width="0.8"/>
<line x1="366.9" y1="211.89" x2="368.9" y2="211.89" stroke="#5a4f80" stroke-width="0.7"/>
<line x1="366.9" y1="212.75" x2="368.9" y2="212.75" stroke="#5a4f80" stroke-width="0.7"/>
<line x1="375.1" y1="211.89" x2="375.1" y2="212.75" stroke="#5a4f80" stroke-width="0.8"/>
<line x1="374.1" y1="211.89" x2="376.1" y2="211.89" stroke="#5a4f80" stroke-width="0.7"/>
<line x1="374.1" y1="212.75" x2="376.1" y2="212.75" stroke="#5a4f80" stroke-width="0.7"/>
<line x1="382.3" y1="211.89" x2="382.3" y2="212.75" stroke="#5a4f80" stroke-width="0.8"/>
<line x1="381.3" y1="211.89" x2="383.3" y2="211.89" stroke="#5a4f80" stroke-width="0.7"/>
<line x1="381.3" y1="212.75" x2="383.3" y2="212.75" stroke="#5a4f80" stroke-width="0.7"/>
<line x1="389.5" y1="211.89" x2="389.5" y2="212.75" stroke="#5a4f80" stroke-width="0.8"/>
<line x1="388.5" y1="211.89" x2="390.5" y2="211.89" stroke="#5a4f80" stroke-width="0.7"/>
<line x1="388.5" y1="212.75" x2="390.5" y2="212.75" stroke="#5a4f80" stroke-width="0.7"/>
<line x1="396.7" y1="211.89" x2="396.7" y2="212.75" stroke="#5a4f80" stroke-width="0.8"/>
<line x1="395.7" y1="211.89" x2="397.7" y2="211.89" stroke="#5a4f80" stroke-width="0.7"/>
<line x1="395.7" y1="212.75" x2="397.7" y2="212.75" stroke="#5a4f80" stroke-width="0.7"/>
<line x1="403.9" y1="211.89" x2="403.9" y2="212.75" stroke="#5a4f80" stroke-width="0.8"/>
<line x1="402.9" y1="211.89" x2="404.9" y2="211.89" stroke="#5a4f80" stroke-width="0.7"/>
<line x1="402.9" y1="212.75" x2="404.9" y2="212.75" stroke="#5a4f80" stroke-width="0.7"/>
<line x1="411.1" y1="211.89" x2="411.1" y2="212.75" stroke="#5a4f80" stroke-width="0.8"/>
<line x1="410.1" y1="211.89" x2="412.1" y2="211.89" stroke="#5a4f80" stroke-width="0.7"/>
<line x1="410.1" y1="212.75" x2="412.1" y2="212.75" stroke="#5a4f80" stroke-width="0.7"/>
<line x1="418.3" y1="211.89" x2="418.3" y2="212.75" stroke="#5a4f80" stroke-width="0.8"/>
<line x1="417.3" y1="211.89" x2="419.3" y2="211.89" stroke="#5a4f80" stroke-width="0.7"/>
<line x1="417.3" y1="212.75" x2="419.3" y2="212.75" stroke="#5a4f80" stroke-width="0.7"/>
<line x1="425.5" y1="211.89" x2="425.5" y2="212.75" stroke="#5a4f80" stroke-width="0.8"/>
<line x1="424.5" y1="211.89" x2="426.5" y2="211.89" stroke="#5a4f80" stroke-width="0.7"/>
<line x1="424.5" y1="212.75" x2="426.5" y2="212.75" stroke="#5a4f80" stroke-width="0.7"/>
<path d="M303.1,199.41 L310.3,199.41 L317.5,199.41 L324.7,205.86 L331.9,208.73 L339.1,210.16 L346.3,175.75 L353.5,177.9 L360.7,180.77 L367.9,212.32 L375.1,212.32 L382.3,212.32 L389.5,212.32 L396.7,212.32 L403.9,212.32 L411.1,212.32 L418.3,212.32 L425.5,212.32" fill="none" stroke="#9086c8" stroke-width="1.0"/>
<circle cx="303.1" cy="199.41" r="1.85" fill="#9086c8"/>
<circle cx="310.3" cy="199.41" r="1.85" fill="#9086c8"/>
<circle cx="317.5" cy="199.41" r="1.85" fill="#9086c8"/>
<circle cx="324.7" cy="205.86" r="1.85" fill="#9086c8"/>
<circle cx="331.9" cy="208.73" r="1.85" fill="#9086c8"/>
<circle cx="339.1" cy="210.16" r="1.85" fill="#9086c8"/>
<circle cx="346.3" cy="175.75" r="1.85" fill="#9086c8"/>
<circle cx="353.5" cy="177.9" r="1.85" fill="#9086c8"/>
<circle cx="360.7" cy="180.77" r="1.85" fill="#9086c8"/>
<circle cx="367.9" cy="212.32" r="1.85" fill="#9086c8"/>
<circle cx="375.1" cy="212.32" r="1.85" fill="#9086c8"/>
<circle cx="382.3" cy="212.32" r="1.85" fill="#9086c8"/>
<circle cx="389.5" cy="212.32" r="1.85" fill="#9086c8"/>
<circle cx="396.7" cy="212.32" r="1.85" fill="#9086c8"/>
<circle cx="403.9" cy="212.32" r="1.85" fill="#9086c8"/>
<circle cx="411.1" cy="212.32" r="1.85" fill="#9086c8"/>
<circle cx="418.3" cy="212.32" r="1.85" fill="#9086c8"/>
<circle cx="425.5" cy="212.32" r="1.85" fill="#9086c8"/>
<line x1="303.1" y1="201.13" x2="303.1" y2="203.43" stroke="#5a4f80" stroke-width="0.8"/>
<line x1="302.1" y1="201.13" x2="304.1" y2="201.13" stroke="#5a4f80" stroke-width="0.7"/>
<line x1="302.1" y1="203.43" x2="304.1" y2="203.43" stroke="#5a4f80" stroke-width="0.7"/>
<line x1="310.3" y1="202.13" x2="310.3" y2="203.86" stroke="#5a4f80" stroke-width="0.8"/>
<line x1="309.3" y1="202.13" x2="311.3" y2="202.13" stroke="#5a4f80" stroke-width="0.7"/>
<line x1="309.3" y1="203.86" x2="311.3" y2="203.86" stroke="#5a4f80" stroke-width="0.7"/>
<line x1="317.5" y1="202.13" x2="317.5" y2="203.86" stroke="#5a4f80" stroke-width="0.8"/>
<line x1="316.5" y1="202.13" x2="318.5" y2="202.13" stroke="#5a4f80" stroke-width="0.7"/>
<line x1="316.5" y1="203.86" x2="318.5" y2="203.86" stroke="#5a4f80" stroke-width="0.7"/>
<line x1="324.7" y1="208.59" x2="324.7" y2="210.31" stroke="#5a4f80" stroke-width="0.8"/>
<line x1="323.7" y1="208.59" x2="325.7" y2="208.59" stroke="#5a4f80" stroke-width="0.7"/>
<line x1="323.7" y1="210.31" x2="325.7" y2="210.31" stroke="#5a4f80" stroke-width="0.7"/>
<line x1="331.9" y1="209.45" x2="331.9" y2="210.88" stroke="#5a4f80" stroke-width="0.8"/>
<line x1="330.9" y1="209.45" x2="332.9" y2="209.45" stroke="#5a4f80" stroke-width="0.7"/>
<line x1="330.9" y1="210.88" x2="332.9" y2="210.88" stroke="#5a4f80" stroke-width="0.7"/>
<line x1="339.1" y1="209.45" x2="339.1" y2="210.88" stroke="#5a4f80" stroke-width="0.8"/>
<line x1="338.1" y1="209.45" x2="340.1" y2="209.45" stroke="#5a4f80" stroke-width="0.7"/>
<line x1="338.1" y1="210.88" x2="340.1" y2="210.88" stroke="#5a4f80" stroke-width="0.7"/>
<line x1="346.3" y1="187.94" x2="346.3" y2="193.67" stroke="#5a4f80" stroke-width="0.8"/>
<line x1="345.3" y1="187.94" x2="347.3" y2="187.94" stroke="#5a4f80" stroke-width="0.7"/>
<line x1="345.3" y1="193.67" x2="347.3" y2="193.67" stroke="#5a4f80" stroke-width="0.7"/>
<line x1="353.5" y1="187.22" x2="353.5" y2="192.96" stroke="#5a4f80" stroke-width="0.8"/>
<line x1="352.5" y1="187.22" x2="354.5" y2="187.22" stroke="#5a4f80" stroke-width="0.7"/>
<line x1="352.5" y1="192.96" x2="354.5" y2="192.96" stroke="#5a4f80" stroke-width="0.7"/>
<line x1="360.7" y1="188.66" x2="360.7" y2="194.39" stroke="#5a4f80" stroke-width="0.8"/>
<line x1="359.7" y1="188.66" x2="361.7" y2="188.66" stroke="#5a4f80" stroke-width="0.7"/>
<line x1="359.7" y1="194.39" x2="361.7" y2="194.39" stroke="#5a4f80" stroke-width="0.7"/>
<line x1="367.9" y1="212.46" x2="367.9" y2="213.61" stroke="#5a4f80" stroke-width="0.8"/>
<line x1="366.9" y1="212.46" x2="368.9" y2="212.46" stroke="#5a4f80" stroke-width="0.7"/>
<line x1="366.9" y1="213.61" x2="368.9" y2="213.61" stroke="#5a4f80" stroke-width="0.7"/>
<line x1="375.1" y1="212.46" x2="375.1" y2="213.61" stroke="#5a4f80" stroke-width="0.8"/>
<line x1="374.1" y1="212.46" x2="376.1" y2="212.46" stroke="#5a4f80" stroke-width="0.7"/>
<line x1="374.1" y1="213.61" x2="376.1" y2="213.61" stroke="#5a4f80" stroke-width="0.7"/>
<line x1="382.3" y1="212.46" x2="382.3" y2="213.61" stroke="#5a4f80" stroke-width="0.8"/>
<line x1="381.3" y1="212.46" x2="383.3" y2="212.46" stroke="#5a4f80" stroke-width="0.7"/>
<line x1="381.3" y1="213.61" x2="383.3" y2="213.61" stroke="#5a4f80" stroke-width="0.7"/>
<line x1="389.5" y1="212.46" x2="389.5" y2="213.61" stroke="#5a4f80" stroke-width="0.8"/>
<line x1="388.5" y1="212.46" x2="390.5" y2="212.46" stroke="#5a4f80" stroke-width="0.7"/>
<line x1="388.5" y1="213.61" x2="390.5" y2="213.61" stroke="#5a4f80" stroke-width="0.7"/>
<line x1="396.7" y1="212.46" x2="396.7" y2="213.61" stroke="#5a4f80" stroke-width="0.8"/>
<line x1="395.7" y1="212.46" x2="397.7" y2="212.46" stroke="#5a4f80" stroke-width="0.7"/>
<line x1="395.7" y1="213.61" x2="397.7" y2="213.61" stroke="#5a4f80" stroke-width="0.7"/>
<line x1="403.9" y1="212.46" x2="403.9" y2="213.61" stroke="#5a4f80" stroke-width="0.8"/>
<line x1="402.9" y1="212.46" x2="404.9" y2="212.46" stroke="#5a4f80" stroke-width="0.7"/>
<line x1="402.9" y1="213.61" x2="404.9" y2="213.61" stroke="#5a4f80" stroke-width="0.7"/>
<line x1="411.1" y1="212.46" x2="411.1" y2="213.61" stroke="#5a4f80" stroke-width="0.8"/>
<line x1="410.1" y1="212.46" x2="412.1" y2="212.46" stroke="#5a4f80" stroke-width="0.7"/>
<line x1="410.1" y1="213.61" x2="412.1" y2="213.61" stroke="#5a4f80" stroke-width="0.7"/>
<line x1="418.3" y1="212.46" x2="418.3" y2="213.61" stroke="#5a4f80" stroke-width="0.8"/>
<line x1="417.3" y1="212.46" x2="419.3" y2="212.46" stroke="#5a4f80" stroke-width="0.7"/>
<line x1="417.3" y1="213.61" x2="419.3" y2="213.61" stroke="#5a4f80" stroke-width="0.7"/>
<line x1="425.5" y1="212.46" x2="425.5" y2="213.61" stroke="#5a4f80" stroke-width="0.8"/>
<line x1="424.5" y1="212.46" x2="426.5" y2="212.46" stroke="#5a4f80" stroke-width="0.7"/>
<line x1="424.5" y1="213.61" x2="426.5" y2="213.61" stroke="#5a4f80" stroke-width="0.7"/>
<path d="M303.1,202.28 L310.3,203 L317.5,203 L324.7,209.45 L331.9,210.16 L339.1,210.16 L346.3,190.81 L353.5,190.09 L360.7,191.52 L367.9,213.03 L375.1,213.03 L382.3,213.03 L389.5,213.03 L396.7,213.03 L403.9,213.03 L411.1,213.03 L418.3,213.03 L425.5,213.03" fill="none" stroke="#36a935" stroke-width="1.0"/>
<circle cx="303.1" cy="202.28" r="1.85" fill="#36a935"/>
<circle cx="310.3" cy="203" r="1.85" fill="#36a935"/>
<circle cx="317.5" cy="203" r="1.85" fill="#36a935"/>
<circle cx="324.7" cy="209.45" r="1.85" fill="#36a935"/>
<circle cx="331.9" cy="210.16" r="1.85" fill="#36a935"/>
<circle cx="339.1" cy="210.16" r="1.85" fill="#36a935"/>
<circle cx="346.3" cy="190.81" r="1.85" fill="#36a935"/>
<circle cx="353.5" cy="190.09" r="1.85" fill="#36a935"/>
<circle cx="360.7" cy="191.52" r="1.85" fill="#36a935"/>
<circle cx="367.9" cy="213.03" r="1.85" fill="#36a935"/>
<circle cx="375.1" cy="213.03" r="1.85" fill="#36a935"/>
<circle cx="382.3" cy="213.03" r="1.85" fill="#36a935"/>
<circle cx="389.5" cy="213.03" r="1.85" fill="#36a935"/>
<circle cx="396.7" cy="213.03" r="1.85" fill="#36a935"/>
<circle cx="403.9" cy="213.03" r="1.85" fill="#36a935"/>
<circle cx="411.1" cy="213.03" r="1.85" fill="#36a935"/>
<circle cx="418.3" cy="213.03" r="1.85" fill="#36a935"/>
<circle cx="425.5" cy="213.03" r="1.85" fill="#36a935"/>
<line x1="303.1" y1="196.54" x2="303.1" y2="199.41" stroke="#5a4f80" stroke-width="0.8"/>
<line x1="302.1" y1="196.54" x2="304.1" y2="196.54" stroke="#5a4f80" stroke-width="0.7"/>
<line x1="302.1" y1="199.41" x2="304.1" y2="199.41" stroke="#5a4f80" stroke-width="0.7"/>
<line x1="310.3" y1="197.55" x2="310.3" y2="199.84" stroke="#5a4f80" stroke-width="0.8"/>
<line x1="309.3" y1="197.55" x2="311.3" y2="197.55" stroke="#5a4f80" stroke-width="0.7"/>
<line x1="309.3" y1="199.84" x2="311.3" y2="199.84" stroke="#5a4f80" stroke-width="0.7"/>
<line x1="317.5" y1="197.55" x2="317.5" y2="199.84" stroke="#5a4f80" stroke-width="0.8"/>
<line x1="316.5" y1="197.55" x2="318.5" y2="197.55" stroke="#5a4f80" stroke-width="0.7"/>
<line x1="316.5" y1="199.84" x2="318.5" y2="199.84" stroke="#5a4f80" stroke-width="0.7"/>
<line x1="324.7" y1="203.28" x2="324.7" y2="205.58" stroke="#5a4f80" stroke-width="0.8"/>
<line x1="323.7" y1="203.28" x2="325.7" y2="203.28" stroke="#5a4f80" stroke-width="0.7"/>
<line x1="323.7" y1="205.58" x2="325.7" y2="205.58" stroke="#5a4f80" stroke-width="0.7"/>
<line x1="331.9" y1="207.3" x2="331.9" y2="208.73" stroke="#5a4f80" stroke-width="0.8"/>
<line x1="330.9" y1="207.3" x2="332.9" y2="207.3" stroke="#5a4f80" stroke-width="0.7"/>
<line x1="330.9" y1="208.73" x2="332.9" y2="208.73" stroke="#5a4f80" stroke-width="0.7"/>
<line x1="339.1" y1="208.73" x2="339.1" y2="210.17" stroke="#5a4f80" stroke-width="0.8"/>
<line x1="338.1" y1="208.73" x2="340.1" y2="208.73" stroke="#5a4f80" stroke-width="0.7"/>
<line x1="338.1" y1="210.17" x2="340.1" y2="210.17" stroke="#5a4f80" stroke-width="0.7"/>
<line x1="346.3" y1="155.96" x2="346.3" y2="181.2" stroke="#5a4f80" stroke-width="0.8"/>
<line x1="345.3" y1="155.96" x2="347.3" y2="155.96" stroke="#5a4f80" stroke-width="0.7"/>
<line x1="345.3" y1="181.2" x2="347.3" y2="181.2" stroke="#5a4f80" stroke-width="0.7"/>
<line x1="353.5" y1="161.12" x2="353.5" y2="181.77" stroke="#5a4f80" stroke-width="0.8"/>
<line x1="352.5" y1="161.12" x2="354.5" y2="161.12" stroke="#5a4f80" stroke-width="0.7"/>
<line x1="352.5" y1="181.77" x2="354.5" y2="181.77" stroke="#5a4f80" stroke-width="0.7"/>
<line x1="360.7" y1="166.57" x2="360.7" y2="184.93" stroke="#5a4f80" stroke-width="0.8"/>
<line x1="359.7" y1="166.57" x2="361.7" y2="166.57" stroke="#5a4f80" stroke-width="0.7"/>
<line x1="359.7" y1="184.93" x2="361.7" y2="184.93" stroke="#5a4f80" stroke-width="0.7"/>
<line x1="367.9" y1="211.03" x2="367.9" y2="212.17" stroke="#5a4f80" stroke-width="0.8"/>
<line x1="366.9" y1="211.03" x2="368.9" y2="211.03" stroke="#5a4f80" stroke-width="0.7"/>
<line x1="366.9" y1="212.17" x2="368.9" y2="212.17" stroke="#5a4f80" stroke-width="0.7"/>
<line x1="375.1" y1="211.03" x2="375.1" y2="212.17" stroke="#5a4f80" stroke-width="0.8"/>
<line x1="374.1" y1="211.03" x2="376.1" y2="211.03" stroke="#5a4f80" stroke-width="0.7"/>
<line x1="374.1" y1="212.17" x2="376.1" y2="212.17" stroke="#5a4f80" stroke-width="0.7"/>
<line x1="382.3" y1="211.03" x2="382.3" y2="212.17" stroke="#5a4f80" stroke-width="0.8"/>
<line x1="381.3" y1="211.03" x2="383.3" y2="211.03" stroke="#5a4f80" stroke-width="0.7"/>
<line x1="381.3" y1="212.17" x2="383.3" y2="212.17" stroke="#5a4f80" stroke-width="0.7"/>
<line x1="389.5" y1="211.03" x2="389.5" y2="212.17" stroke="#5a4f80" stroke-width="0.8"/>
<line x1="388.5" y1="211.03" x2="390.5" y2="211.03" stroke="#5a4f80" stroke-width="0.7"/>
<line x1="388.5" y1="212.17" x2="390.5" y2="212.17" stroke="#5a4f80" stroke-width="0.7"/>
<line x1="396.7" y1="211.03" x2="396.7" y2="212.17" stroke="#5a4f80" stroke-width="0.8"/>
<line x1="395.7" y1="211.03" x2="397.7" y2="211.03" stroke="#5a4f80" stroke-width="0.7"/>
<line x1="395.7" y1="212.17" x2="397.7" y2="212.17" stroke="#5a4f80" stroke-width="0.7"/>
<line x1="403.9" y1="211.03" x2="403.9" y2="212.17" stroke="#5a4f80" stroke-width="0.8"/>
<line x1="402.9" y1="211.03" x2="404.9" y2="211.03" stroke="#5a4f80" stroke-width="0.7"/>
<line x1="402.9" y1="212.17" x2="404.9" y2="212.17" stroke="#5a4f80" stroke-width="0.7"/>
<line x1="411.1" y1="211.03" x2="411.1" y2="212.17" stroke="#5a4f80" stroke-width="0.8"/>
<line x1="410.1" y1="211.03" x2="412.1" y2="211.03" stroke="#5a4f80" stroke-width="0.7"/>
<line x1="410.1" y1="212.17" x2="412.1" y2="212.17" stroke="#5a4f80" stroke-width="0.7"/>
<line x1="418.3" y1="211.03" x2="418.3" y2="212.17" stroke="#5a4f80" stroke-width="0.8"/>
<line x1="417.3" y1="211.03" x2="419.3" y2="211.03" stroke="#5a4f80" stroke-width="0.7"/>
<line x1="417.3" y1="212.17" x2="419.3" y2="212.17" stroke="#5a4f80" stroke-width="0.7"/>
<line x1="425.5" y1="211.03" x2="425.5" y2="212.17" stroke="#5a4f80" stroke-width="0.8"/>
<line x1="424.5" y1="211.03" x2="426.5" y2="211.03" stroke="#5a4f80" stroke-width="0.7"/>
<line x1="424.5" y1="212.17" x2="426.5" y2="212.17" stroke="#5a4f80" stroke-width="0.7"/>
<path d="M303.1,197.98 L310.3,198.69 L317.5,198.69 L324.7,204.43 L331.9,208.01 L339.1,209.45 L346.3,168.58 L353.5,171.45 L360.7,175.75 L367.9,211.6 L375.1,211.6 L382.3,211.6 L389.5,211.6 L396.7,211.6 L403.9,211.6 L411.1,211.6 L418.3,211.6 L425.5,211.6" fill="none" stroke="#f38e0e" stroke-width="1.0"/>
<circle cx="303.1" cy="197.98" r="1.85" fill="#f38e0e"/>
<circle cx="310.3" cy="198.69" r="1.85" fill="#f38e0e"/>
<circle cx="317.5" cy="198.69" r="1.85" fill="#f38e0e"/>
<circle cx="324.7" cy="204.43" r="1.85" fill="#f38e0e"/>
<circle cx="331.9" cy="208.01" r="1.85" fill="#f38e0e"/>
<circle cx="339.1" cy="209.45" r="1.85" fill="#f38e0e"/>
<circle cx="346.3" cy="168.58" r="1.85" fill="#f38e0e"/>
<circle cx="353.5" cy="171.45" r="1.85" fill="#f38e0e"/>
<circle cx="360.7" cy="175.75" r="1.85" fill="#f38e0e"/>
<circle cx="367.9" cy="211.6" r="1.85" fill="#f38e0e"/>
<circle cx="375.1" cy="211.6" r="1.85" fill="#f38e0e"/>
<circle cx="382.3" cy="211.6" r="1.85" fill="#f38e0e"/>
<circle cx="389.5" cy="211.6" r="1.85" fill="#f38e0e"/>
<circle cx="396.7" cy="211.6" r="1.85" fill="#f38e0e"/>
<circle cx="403.9" cy="211.6" r="1.85" fill="#f38e0e"/>
<circle cx="411.1" cy="211.6" r="1.85" fill="#f38e0e"/>
<circle cx="418.3" cy="211.6" r="1.85" fill="#f38e0e"/>
<circle cx="425.5" cy="211.6" r="1.85" fill="#f38e0e"/>
<text x="386.2" y="168.6" font-size="6.3" fill="#222" stroke="#222" stroke-width="0.15" textLength="25" lengthAdjust="spacingAndGlyphs">OCI-Ly10</text>
<rect x="386.2" y="172.4" width="4.4" height="4.4" fill="#36a935" />
<text x="393.8" y="176.9" font-size="6.4" fill="#222" stroke="#222" stroke-width="0.15" textLength="24" lengthAdjust="spacingAndGlyphs">Parental</text>
<rect x="386.2" y="180.1" width="4.4" height="4.4" fill="#f38e0e" />
<text x="393.8" y="184.6" font-size="6.4" fill="#222" stroke="#222" stroke-width="0.15" textLength="17.5" lengthAdjust="spacingAndGlyphs">IBR#9</text>
<rect x="386.2" y="187.8" width="4.4" height="4.4" fill="#9086c8" />
<text x="393.8" y="192.3" font-size="6.4" fill="#222" stroke="#222" stroke-width="0.15" textLength="21.5" lengthAdjust="spacingAndGlyphs">IBR#10</text>
<rect x="480.3" y="147.2" width="4.4" height="4.4" fill="#36a935" />
<text x="487.5" y="151.7" font-size="6.4" fill="#222" stroke="#222" stroke-width="0.15" textLength="24" lengthAdjust="spacingAndGlyphs">Parental</text>
<rect x="480.3" y="155.4" width="4.4" height="4.4" fill="#f38e0e" />
<text x="487.5" y="159.9" font-size="6.4" fill="#222" stroke="#222" stroke-width="0.15" textLength="17.5" lengthAdjust="spacingAndGlyphs">IBR#9</text>
<rect x="480.3" y="163.5" width="4.4" height="4.4" fill="#9086c8" />
<text x="487.5" y="168" font-size="6.4" fill="#222" stroke="#222" stroke-width="0.15" textLength="21.5" lengthAdjust="spacingAndGlyphs">IBR#10</text>
<line x1="485.05" y1="197.14" x2="485.05" y2="199.83" stroke="#444" stroke-width="0.8"/>
<line x1="483.45" y1="197.14" x2="486.65" y2="197.14" stroke="#444" stroke-width="0.8"/>
<rect x="481.8" y="199.83" width="6.5" height="23.57" fill="#36a935" />
<line x1="496.05" y1="186.7" x2="496.05" y2="190.07" stroke="#444" stroke-width="0.8"/>
<line x1="494.45" y1="186.7" x2="497.65" y2="186.7" stroke="#444" stroke-width="0.8"/>
<rect x="492.6" y="190.07" width="6.9" height="33.33" fill="#f38e0e" />
<text x="496.05" y="186.7" font-size="6.6" text-anchor="middle" fill="#222" stroke="#222" stroke-width="0.15">**</text>
<line x1="507.5" y1="187.04" x2="507.5" y2="191.75" stroke="#444" stroke-width="0.8"/>
<line x1="505.9" y1="187.04" x2="509.1" y2="187.04" stroke="#444" stroke-width="0.8"/>
<rect x="504.1" y="191.75" width="6.8" height="31.65" fill="#9086c8" />
<text x="507.5" y="187.4" font-size="6.6" text-anchor="middle" fill="#222" stroke="#222" stroke-width="0.15">**</text>
<line x1="479.1" y1="223.4" x2="512.8" y2="223.4" stroke="#222" stroke-width="1.1"/>
<line x1="485.05" y1="223.4" x2="485.05" y2="225.6" stroke="#222" stroke-width="0.8"/>
<line x1="496.05" y1="223.4" x2="496.05" y2="225.6" stroke="#222" stroke-width="0.8"/>
<line x1="507.5" y1="223.4" x2="507.5" y2="225.6" stroke="#222" stroke-width="0.8"/>
<line x1="479.6" y1="172.4" x2="479.6" y2="223.9" stroke="#222" stroke-width="1.1"/>
<line x1="477.1" y1="223.4" x2="479.6" y2="223.4" stroke="#222" stroke-width="0.9"/>
<text x="474.6" y="225.85" font-size="6.8" text-anchor="end" fill="#222" stroke="#222" stroke-width="0.15">0</text>
<line x1="477.1" y1="213.3" x2="479.6" y2="213.3" stroke="#222" stroke-width="0.9"/>
<text x="474.6" y="215.75" font-size="6.8" text-anchor="end" fill="#222" stroke="#222" stroke-width="0.15">30</text>
<line x1="477.1" y1="203.2" x2="479.6" y2="203.2" stroke="#222" stroke-width="0.9"/>
<text x="474.6" y="205.65" font-size="6.8" text-anchor="end" fill="#222" stroke="#222" stroke-width="0.15">60</text>
<line x1="477.1" y1="193.1" x2="479.6" y2="193.1" stroke="#222" stroke-width="0.9"/>
<text x="474.6" y="195.55" font-size="6.8" text-anchor="end" fill="#222" stroke="#222" stroke-width="0.15">90</text>
<line x1="477.1" y1="183" x2="479.6" y2="183" stroke="#222" stroke-width="0.9"/>
<text x="474.6" y="185.45" font-size="6.8" text-anchor="end" fill="#222" stroke="#222" stroke-width="0.15">120</text>
<line x1="477.1" y1="172.9" x2="479.6" y2="172.9" stroke="#222" stroke-width="0.9"/>
<text x="474.6" y="175.35" font-size="6.8" text-anchor="end" fill="#222" stroke="#222" stroke-width="0.15">150</text>
<text x="458" y="196" font-size="8.2" text-anchor="middle" fill="#222" stroke="#222" stroke-width="0.15" textLength="68.5" lengthAdjust="spacingAndGlyphs" transform="rotate(-90 458 196)">Basal OCR (pmol/min)</text>
<text x="7.8" y="253.2" font-size="11.6" font-weight="bold" fill="#111" stroke="#111" stroke-width="0.45" textLength="6.9" lengthAdjust="spacingAndGlyphs">B</text>
<line x1="54.5" y1="306.35" x2="54.5" y2="311.98" stroke="#444" stroke-width="0.8"/>
<line x1="52.9" y1="306.35" x2="56.1" y2="306.35" stroke="#444" stroke-width="0.8"/>
<rect x="50" y="311.98" width="9" height="24.72" fill="#36a935" />
<line x1="68.35" y1="287.94" x2="68.35" y2="291.01" stroke="#444" stroke-width="0.8"/>
<line x1="66.75" y1="287.94" x2="69.95" y2="287.94" stroke="#444" stroke-width="0.8"/>
<rect x="63.8" y="291.01" width="9.1" height="45.69" fill="#cd0a2c" />
<text x="68.35" y="287.2" font-size="6.6" text-anchor="middle" fill="#222" stroke="#222" stroke-width="0.15">*</text>
<line x1="81.8" y1="277.71" x2="81.8" y2="290.15" stroke="#444" stroke-width="0.8"/>
<line x1="80.2" y1="277.71" x2="83.4" y2="277.71" stroke="#444" stroke-width="0.8"/>
<rect x="77.3" y="290.15" width="9" height="46.55" fill="#1b4a85" />
<text x="81.8" y="277.6" font-size="6.6" text-anchor="middle" fill="#222" stroke="#222" stroke-width="0.15">*</text>
<line x1="44.7" y1="336.7" x2="88.8" y2="336.7" stroke="#222" stroke-width="1.1"/>
<line x1="54.5" y1="336.7" x2="54.5" y2="338.9" stroke="#222" stroke-width="0.8"/>
<line x1="68.35" y1="336.7" x2="68.35" y2="338.9" stroke="#222" stroke-width="0.8"/>
<line x1="81.8" y1="336.7" x2="81.8" y2="338.9" stroke="#222" stroke-width="0.8"/>
<line x1="45.2" y1="268" x2="45.2" y2="337.2" stroke="#222" stroke-width="1.1"/>
<line x1="42.7" y1="336.7" x2="45.2" y2="336.7" stroke="#222" stroke-width="0.9"/>
<text x="39.8" y="339.15" font-size="6.8" text-anchor="end" fill="#222" stroke="#222" stroke-width="0.15">0</text>
<line x1="42.7" y1="319.65" x2="45.2" y2="319.65" stroke="#222" stroke-width="0.9"/>
<text x="39.8" y="322.1" font-size="6.8" text-anchor="end" fill="#222" stroke="#222" stroke-width="0.15">10</text>
<line x1="42.7" y1="302.6" x2="45.2" y2="302.6" stroke="#222" stroke-width="0.9"/>
<text x="39.8" y="305.05" font-size="6.8" text-anchor="end" fill="#222" stroke="#222" stroke-width="0.15">20</text>
<line x1="42.7" y1="285.55" x2="45.2" y2="285.55" stroke="#222" stroke-width="0.9"/>
<text x="39.8" y="288" font-size="6.8" text-anchor="end" fill="#222" stroke="#222" stroke-width="0.15">30</text>
<line x1="42.7" y1="268.5" x2="45.2" y2="268.5" stroke="#222" stroke-width="0.9"/>
<text x="39.8" y="270.95" font-size="6.8" text-anchor="end" fill="#222" stroke="#222" stroke-width="0.15">40</text>
<text x="26.9" y="300.2" font-size="8" text-anchor="middle" fill="#222" stroke="#222" stroke-width="0.15" textLength="84.6" lengthAdjust="spacingAndGlyphs" transform="rotate(-90 26.9 300.2)">ATP production (pmol/min)</text>
<text x="94.4" y="273.7" font-size="6.3" fill="#222" stroke="#222" stroke-width="0.15" textLength="17.3" lengthAdjust="spacingAndGlyphs">TMD8</text>
<text x="94.1" y="281.6" font-size="6.5" fill="#222" stroke="#222" stroke-width="0.15" textLength="23.6" lengthAdjust="spacingAndGlyphs">Glucose</text>
<rect x="94.4" y="284.8" width="4.4" height="4.4" fill="#36a935" />
<text x="102" y="289.3" font-size="6.4" fill="#222" stroke="#222" stroke-width="0.15" textLength="24" lengthAdjust="spacingAndGlyphs">Parental</text>
<rect x="94.4" y="293.1" width="4.4" height="4.4" fill="#cd0a2c" />
<text x="102" y="297.6" font-size="6.4" fill="#222" stroke="#222" stroke-width="0.15" textLength="17.5" lengthAdjust="spacingAndGlyphs">IBR#3</text>
<rect x="94.4" y="301.8" width="4.4" height="4.4" fill="#1b4a85" />
<text x="102" y="306.3" font-size="6.4" fill="#222" stroke="#222" stroke-width="0.15" textLength="17.5" lengthAdjust="spacingAndGlyphs">IBR#6</text>
<line x1="184.5" y1="301.21" x2="184.5" y2="302.57" stroke="#444" stroke-width="0.8"/>
<line x1="182.9" y1="301.21" x2="186.1" y2="301.21" stroke="#444" stroke-width="0.8"/>
<rect x="180" y="302.57" width="9" height="34.12" fill="#36a935" />
<line x1="198.35" y1="292.34" x2="198.35" y2="295.29" stroke="#444" stroke-width="0.8"/>
<line x1="196.75" y1="292.34" x2="199.95" y2="292.34" stroke="#444" stroke-width="0.8"/>
<rect x="193.8" y="295.29" width="9.1" height="41.41" fill="#cd0a2c" />
<text x="198.35" y="292.1" font-size="6.6" text-anchor="middle" fill="#222" stroke="#222" stroke-width="0.15">*</text>
<line x1="211.8" y1="290.29" x2="211.8" y2="293.25" stroke="#444" stroke-width="0.8"/>
<line x1="210.2" y1="290.29" x2="213.4" y2="290.29" stroke="#444" stroke-width="0.8"/>
<rect x="207.3" y="293.25" width="9" height="43.45" fill="#1b4a85" />
<text x="211.8" y="289.2" font-size="6.6" text-anchor="middle" fill="#222" stroke="#222" stroke-width="0.15">*</text>
<line x1="174.7" y1="336.7" x2="218.8" y2="336.7" stroke="#222" stroke-width="1.1"/>
<line x1="184.5" y1="336.7" x2="184.5" y2="338.9" stroke="#222" stroke-width="0.8"/>
<line x1="198.35" y1="336.7" x2="198.35" y2="338.9" stroke="#222" stroke-width="0.8"/>
<line x1="211.8" y1="336.7" x2="211.8" y2="338.9" stroke="#222" stroke-width="0.8"/>
<line x1="175.2" y1="267.95" x2="175.2" y2="337.2" stroke="#222" stroke-width="1.1"/>
<line x1="172.7" y1="336.7" x2="175.2" y2="336.7" stroke="#222" stroke-width="0.9"/>
<text x="169.8" y="339.15" font-size="6.8" text-anchor="end" fill="#222" stroke="#222" stroke-width="0.15">0</text>
<line x1="172.7" y1="323.05" x2="175.2" y2="323.05" stroke="#222" stroke-width="0.9"/>
<text x="169.8" y="325.5" font-size="6.8" text-anchor="end" fill="#222" stroke="#222" stroke-width="0.15">30</text>
<line x1="172.7" y1="309.4" x2="175.2" y2="309.4" stroke="#222" stroke-width="0.9"/>
<text x="169.8" y="311.85" font-size="6.8" text-anchor="end" fill="#222" stroke="#222" stroke-width="0.15">60</text>
<line x1="172.7" y1="295.75" x2="175.2" y2="295.75" stroke="#222" stroke-width="0.9"/>
<text x="169.8" y="298.2" font-size="6.8" text-anchor="end" fill="#222" stroke="#222" stroke-width="0.15">90</text>
<line x1="172.7" y1="282.1" x2="175.2" y2="282.1" stroke="#222" stroke-width="0.9"/>
<text x="169.8" y="284.55" font-size="6.8" text-anchor="end" fill="#222" stroke="#222" stroke-width="0.15">120</text>
<line x1="172.7" y1="268.45" x2="175.2" y2="268.45" stroke="#222" stroke-width="0.9"/>
<text x="169.8" y="270.9" font-size="6.8" text-anchor="end" fill="#222" stroke="#222" stroke-width="0.15">150</text>
<text x="153.1" y="300.2" font-size="8" text-anchor="middle" fill="#222" stroke="#222" stroke-width="0.15" textLength="84.6" lengthAdjust="spacingAndGlyphs" transform="rotate(-90 153.1 300.2)">ATP production (pmol/min)</text>
<text x="224.6" y="273.7" font-size="6.3" fill="#222" stroke="#222" stroke-width="0.15" textLength="17.3" lengthAdjust="spacingAndGlyphs">TMD8</text>
<text x="224.3" y="281.6" font-size="6.5" fill="#222" stroke="#222" stroke-width="0.15" textLength="25" lengthAdjust="spacingAndGlyphs">Pyruvate</text>
<rect x="224.6" y="284.8" width="4.4" height="4.4" fill="#36a935" />
<text x="232.2" y="289.3" font-size="6.4" fill="#222" stroke="#222" stroke-width="0.15" textLength="24" lengthAdjust="spacingAndGlyphs">Parental</text>
<rect x="224.6" y="293.1" width="4.4" height="4.4" fill="#cd0a2c" />
<text x="232.2" y="297.6" font-size="6.4" fill="#222" stroke="#222" stroke-width="0.15" textLength="17.5" lengthAdjust="spacingAndGlyphs">IBR#3</text>
<rect x="224.6" y="301.8" width="4.4" height="4.4" fill="#1b4a85" />
<text x="232.2" y="306.3" font-size="6.4" fill="#222" stroke="#222" stroke-width="0.15" textLength="17.5" lengthAdjust="spacingAndGlyphs">IBR#6</text>
<line x1="310.95" y1="303.03" x2="310.95" y2="306.01" stroke="#444" stroke-width="0.8"/>
<line x1="309.35" y1="303.03" x2="312.55" y2="303.03" stroke="#444" stroke-width="0.8"/>
<rect x="306.3" y="306.01" width="9.3" height="30.69" fill="#36a935" />
<line x1="324.8" y1="282.57" x2="324.8" y2="287.25" stroke="#444" stroke-width="0.8"/>
<line x1="323.2" y1="282.57" x2="326.4" y2="282.57" stroke="#444" stroke-width="0.8"/>
<rect x="320.2" y="287.25" width="9.2" height="49.44" fill="#f38e0e" />
<line x1="338.35" y1="292.8" x2="338.35" y2="295.78" stroke="#444" stroke-width="0.8"/>
<line x1="336.75" y1="292.8" x2="339.95" y2="292.8" stroke="#444" stroke-width="0.8"/>
<rect x="333.8" y="295.78" width="9.1" height="40.92" fill="#9086c8" />
<text x="338.35" y="294" font-size="6.6" text-anchor="middle" fill="#222" stroke="#222" stroke-width="0.15">*</text>
<line x1="301" y1="336.7" x2="344.8" y2="336.7" stroke="#222" stroke-width="1.1"/>
<line x1="310.95" y1="336.7" x2="310.95" y2="338.9" stroke="#222" stroke-width="0.8"/>
<line x1="324.8" y1="336.7" x2="324.8" y2="338.9" stroke="#222" stroke-width="0.8"/>
<line x1="338.35" y1="336.7" x2="338.35" y2="338.9" stroke="#222" stroke-width="0.8"/>
<line x1="301.5" y1="268" x2="301.5" y2="337.2" stroke="#222" stroke-width="1.1"/>
<line x1="299" y1="336.7" x2="301.5" y2="336.7" stroke="#222" stroke-width="0.9"/>
<text x="296.1" y="339.15" font-size="6.8" text-anchor="end" fill="#222" stroke="#222" stroke-width="0.15">0</text>
<line x1="299" y1="319.65" x2="301.5" y2="319.65" stroke="#222" stroke-width="0.9"/>
<text x="296.1" y="322.1" font-size="6.8" text-anchor="end" fill="#222" stroke="#222" stroke-width="0.15">20</text>
<line x1="299" y1="302.6" x2="301.5" y2="302.6" stroke="#222" stroke-width="0.9"/>
<text x="296.1" y="305.05" font-size="6.8" text-anchor="end" fill="#222" stroke="#222" stroke-width="0.15">40</text>
<line x1="299" y1="285.55" x2="301.5" y2="285.55" stroke="#222" stroke-width="0.9"/>
<text x="296.1" y="288" font-size="6.8" text-anchor="end" fill="#222" stroke="#222" stroke-width="0.15">60</text>
<line x1="299" y1="268.5" x2="301.5" y2="268.5" stroke="#222" stroke-width="0.9"/>
<text x="296.1" y="270.95" font-size="6.8" text-anchor="end" fill="#222" stroke="#222" stroke-width="0.15">80</text>
<text x="283.2" y="300.2" font-size="8" text-anchor="middle" fill="#222" stroke="#222" stroke-width="0.15" textLength="84.6" lengthAdjust="spacingAndGlyphs" transform="rotate(-90 283.2 300.2)">ATP production (pmol/min)</text>
<text x="324.8" y="279.9" font-size="6.6" text-anchor="middle" fill="#222" stroke="#222" stroke-width="0.15">*</text>
<text x="324.8" y="283.2" font-size="6.6" text-anchor="middle" fill="#222" stroke="#222" stroke-width="0.15">*</text>
<text x="350.6" y="273.7" font-size="6.3" fill="#222" stroke="#222" stroke-width="0.15" textLength="25" lengthAdjust="spacingAndGlyphs">OCI-Ly10</text>
<text x="350.3" y="281.6" font-size="6.5" fill="#222" stroke="#222" stroke-width="0.15" textLength="23.6" lengthAdjust="spacingAndGlyphs">Glucose</text>
<rect x="350.6" y="284.8" width="4.4" height="4.4" fill="#36a935" />
<text x="358.2" y="289.3" font-size="6.4" fill="#222" stroke="#222" stroke-width="0.15" textLength="24" lengthAdjust="spacingAndGlyphs">Parental</text>
<rect x="350.6" y="293.1" width="4.4" height="4.4" fill="#f38e0e" />
<text x="358.2" y="297.6" font-size="6.4" fill="#222" stroke="#222" stroke-width="0.15" textLength="17.5" lengthAdjust="spacingAndGlyphs">IBR#9</text>
<rect x="350.6" y="301.8" width="4.4" height="4.4" fill="#9086c8" />
<text x="358.2" y="306.3" font-size="6.4" fill="#222" stroke="#222" stroke-width="0.15" textLength="21.5" lengthAdjust="spacingAndGlyphs">IBR#10</text>
<line x1="440.95" y1="290.29" x2="440.95" y2="293.93" stroke="#444" stroke-width="0.8"/>
<line x1="439.35" y1="290.29" x2="442.55" y2="290.29" stroke="#444" stroke-width="0.8"/>
<rect x="436.3" y="293.93" width="9.3" height="42.77" fill="#36a935" />
<line x1="454.8" y1="274.14" x2="454.8" y2="278.46" stroke="#444" stroke-width="0.8"/>
<line x1="453.2" y1="274.14" x2="456.4" y2="274.14" stroke="#444" stroke-width="0.8"/>
<rect x="450.2" y="278.46" width="9.2" height="58.24" fill="#f38e0e" />
<text x="454.8" y="272.8" font-size="6.6" text-anchor="middle" fill="#222" stroke="#222" stroke-width="0.15">*</text>
<line x1="468.35" y1="279.14" x2="468.35" y2="280.74" stroke="#444" stroke-width="0.8"/>
<line x1="466.75" y1="279.14" x2="469.95" y2="279.14" stroke="#444" stroke-width="0.8"/>
<rect x="463.8" y="280.74" width="9.1" height="55.96" fill="#9086c8" />
<line x1="431" y1="336.7" x2="474.8" y2="336.7" stroke="#222" stroke-width="1.1"/>
<line x1="440.95" y1="336.7" x2="440.95" y2="338.9" stroke="#222" stroke-width="0.8"/>
<line x1="454.8" y1="336.7" x2="454.8" y2="338.9" stroke="#222" stroke-width="0.8"/>
<line x1="468.35" y1="336.7" x2="468.35" y2="338.9" stroke="#222" stroke-width="0.8"/>
<line x1="431.5" y1="267.95" x2="431.5" y2="337.2" stroke="#222" stroke-width="1.1"/>
<line x1="429" y1="336.7" x2="431.5" y2="336.7" stroke="#222" stroke-width="0.9"/>
<text x="426.1" y="339.15" font-size="6.8" text-anchor="end" fill="#222" stroke="#222" stroke-width="0.15">0</text>
<line x1="429" y1="323.05" x2="431.5" y2="323.05" stroke="#222" stroke-width="0.9"/>
<text x="426.1" y="325.5" font-size="6.8" text-anchor="end" fill="#222" stroke="#222" stroke-width="0.15">30</text>
<line x1="429" y1="309.4" x2="431.5" y2="309.4" stroke="#222" stroke-width="0.9"/>
<text x="426.1" y="311.85" font-size="6.8" text-anchor="end" fill="#222" stroke="#222" stroke-width="0.15">60</text>
<line x1="429" y1="295.75" x2="431.5" y2="295.75" stroke="#222" stroke-width="0.9"/>
<text x="426.1" y="298.2" font-size="6.8" text-anchor="end" fill="#222" stroke="#222" stroke-width="0.15">90</text>
<line x1="429" y1="282.1" x2="431.5" y2="282.1" stroke="#222" stroke-width="0.9"/>
<text x="426.1" y="284.55" font-size="6.8" text-anchor="end" fill="#222" stroke="#222" stroke-width="0.15">120</text>
<line x1="429" y1="268.45" x2="431.5" y2="268.45" stroke="#222" stroke-width="0.9"/>
<text x="426.1" y="270.9" font-size="6.8" text-anchor="end" fill="#222" stroke="#222" stroke-width="0.15">150</text>
<text x="410.6" y="300.2" font-size="8" text-anchor="middle" fill="#222" stroke="#222" stroke-width="0.15" textLength="84.6" lengthAdjust="spacingAndGlyphs" transform="rotate(-90 410.6 300.2)">ATP production (pmol/min)</text>
<text x="468.35" y="276.7" font-size="6.6" text-anchor="middle" fill="#222" stroke="#222" stroke-width="0.15">*</text>
<text x="468.35" y="279.9" font-size="6.6" text-anchor="middle" fill="#222" stroke="#222" stroke-width="0.15">*</text>
<text x="480.6" y="273.7" font-size="6.3" fill="#222" stroke="#222" stroke-width="0.15" textLength="25" lengthAdjust="spacingAndGlyphs">OCI-Ly10</text>
<text x="480.3" y="281.6" font-size="6.5" fill="#222" stroke="#222" stroke-width="0.15" textLength="25" lengthAdjust="spacingAndGlyphs">Pyruvate</text>
<rect x="480.6" y="284.8" width="4.4" height="4.4" fill="#36a935" />
<text x="488.2" y="289.3" font-size="6.4" fill="#222" stroke="#222" stroke-width="0.15" textLength="24" lengthAdjust="spacingAndGlyphs">Parental</text>
<rect x="480.6" y="293.1" width="4.4" height="4.4" fill="#f38e0e" />
<text x="488.2" y="297.6" font-size="6.4" fill="#222" stroke="#222" stroke-width="0.15" textLength="17.5" lengthAdjust="spacingAndGlyphs">IBR#9</text>
<rect x="480.6" y="301.8" width="4.4" height="4.4" fill="#9086c8" />
<text x="488.2" y="306.3" font-size="6.4" fill="#222" stroke="#222" stroke-width="0.15" textLength="21.5" lengthAdjust="spacingAndGlyphs">IBR#10</text>
<text x="7.3" y="356.0" font-size="11.6" font-weight="bold" fill="#111" stroke="#111" stroke-width="0.45" textLength="7.7" lengthAdjust="spacingAndGlyphs">C</text>
<rect x="32.8" y="362.3" width="59.2" height="59.8" fill="none" stroke="#c2c2c2" stroke-width="0.7" />
<line x1="32.8" y1="362.3" x2="32.8" y2="422.1" stroke="#888" stroke-width="0.6"/>
<line x1="32.8" y1="422.1" x2="92" y2="422.1" stroke="#555" stroke-width="0.8"/>
<line x1="31.5" y1="422.1" x2="33.8" y2="422.1" stroke="#1a1a1a" stroke-width="1.3"/>
<line x1="32.1" y1="419.11" x2="33.3" y2="419.11" stroke="#777" stroke-width="0.6"/>
<line x1="32.1" y1="416.12" x2="33.3" y2="416.12" stroke="#777" stroke-width="0.6"/>
<line x1="32.1" y1="413.13" x2="33.3" y2="413.13" stroke="#777" stroke-width="0.6"/>
<line x1="31.5" y1="410.14" x2="33.8" y2="410.14" stroke="#1a1a1a" stroke-width="1.3"/>
<line x1="32.1" y1="407.15" x2="33.3" y2="407.15" stroke="#777" stroke-width="0.6"/>
<line x1="32.1" y1="404.16" x2="33.3" y2="404.16" stroke="#777" stroke-width="0.6"/>
<line x1="32.1" y1="401.17" x2="33.3" y2="401.17" stroke="#777" stroke-width="0.6"/>
<line x1="31.5" y1="398.18" x2="33.8" y2="398.18" stroke="#1a1a1a" stroke-width="1.3"/>
<line x1="32.1" y1="395.19" x2="33.3" y2="395.19" stroke="#777" stroke-width="0.6"/>
<line x1="32.1" y1="392.2" x2="33.3" y2="392.2" stroke="#777" stroke-width="0.6"/>
<line x1="32.1" y1="389.21" x2="33.3" y2="389.21" stroke="#777" stroke-width="0.6"/>
<line x1="31.5" y1="386.22" x2="33.8" y2="386.22" stroke="#1a1a1a" stroke-width="1.3"/>
<line x1="32.1" y1="383.23" x2="33.3" y2="383.23" stroke="#777" stroke-width="0.6"/>
<line x1="32.1" y1="380.24" x2="33.3" y2="380.24" stroke="#777" stroke-width="0.6"/>
<line x1="32.1" y1="377.25" x2="33.3" y2="377.25" stroke="#777" stroke-width="0.6"/>
<line x1="31.5" y1="374.26" x2="33.8" y2="374.26" stroke="#1a1a1a" stroke-width="1.3"/>
<line x1="32.1" y1="371.27" x2="33.3" y2="371.27" stroke="#777" stroke-width="0.6"/>
<line x1="32.1" y1="368.28" x2="33.3" y2="368.28" stroke="#777" stroke-width="0.6"/>
<line x1="32.1" y1="365.29" x2="33.3" y2="365.29" stroke="#777" stroke-width="0.6"/>
<line x1="31.5" y1="362.3" x2="33.8" y2="362.3" stroke="#1a1a1a" stroke-width="1.3"/>
<line x1="32.8" y1="421.3" x2="32.8" y2="423.4" stroke="#1a1a1a" stroke-width="1.3"/>
<line x1="35.76" y1="421.8" x2="35.76" y2="422.9" stroke="#777" stroke-width="0.6"/>
<line x1="38.72" y1="421.8" x2="38.72" y2="422.9" stroke="#777" stroke-width="0.6"/>
<line x1="41.68" y1="421.8" x2="41.68" y2="422.9" stroke="#777" stroke-width="0.6"/>
<line x1="44.64" y1="421.3" x2="44.64" y2="423.4" stroke="#1a1a1a" stroke-width="1.3"/>
<line x1="47.6" y1="421.8" x2="47.6" y2="422.9" stroke="#777" stroke-width="0.6"/>
<line x1="50.56" y1="421.8" x2="50.56" y2="422.9" stroke="#777" stroke-width="0.6"/>
<line x1="53.52" y1="421.8" x2="53.52" y2="422.9" stroke="#777" stroke-width="0.6"/>
<line x1="56.48" y1="421.3" x2="56.48" y2="423.4" stroke="#1a1a1a" stroke-width="1.3"/>
<line x1="59.44" y1="421.8" x2="59.44" y2="422.9" stroke="#777" stroke-width="0.6"/>
<line x1="62.4" y1="421.8" x2="62.4" y2="422.9" stroke="#777" stroke-width="0.6"/>
<line x1="65.36" y1="421.8" x2="65.36" y2="422.9" stroke="#777" stroke-width="0.6"/>
<line x1="68.32" y1="421.3" x2="68.32" y2="423.4" stroke="#1a1a1a" stroke-width="1.3"/>
<line x1="71.28" y1="421.8" x2="71.28" y2="422.9" stroke="#777" stroke-width="0.6"/>
<line x1="74.24" y1="421.8" x2="74.24" y2="422.9" stroke="#777" stroke-width="0.6"/>
<line x1="77.2" y1="421.8" x2="77.2" y2="422.9" stroke="#777" stroke-width="0.6"/>
<line x1="80.16" y1="421.3" x2="80.16" y2="423.4" stroke="#1a1a1a" stroke-width="1.3"/>
<line x1="83.12" y1="421.8" x2="83.12" y2="422.9" stroke="#777" stroke-width="0.6"/>
<line x1="86.08" y1="421.8" x2="86.08" y2="422.9" stroke="#777" stroke-width="0.6"/>
<line x1="89.04" y1="421.8" x2="89.04" y2="422.9" stroke="#777" stroke-width="0.6"/>
<line x1="92" y1="421.3" x2="92" y2="423.4" stroke="#1a1a1a" stroke-width="1.3"/>
<rect x="99.9" y="362.3" width="59.2" height="59.8" fill="none" stroke="#c2c2c2" stroke-width="0.7" />
<line x1="99.9" y1="362.3" x2="99.9" y2="422.1" stroke="#888" stroke-width="0.6"/>
<line x1="99.9" y1="422.1" x2="159.1" y2="422.1" stroke="#555" stroke-width="0.8"/>
<line x1="98.6" y1="422.1" x2="100.9" y2="422.1" stroke="#1a1a1a" stroke-width="1.3"/>
<line x1="99.2" y1="419.11" x2="100.4" y2="419.11" stroke="#777" stroke-width="0.6"/>
<line x1="99.2" y1="416.12" x2="100.4" y2="416.12" stroke="#777" stroke-width="0.6"/>
<line x1="99.2" y1="413.13" x2="100.4" y2="413.13" stroke="#777" stroke-width="0.6"/>
<line x1="98.6" y1="410.14" x2="100.9" y2="410.14" stroke="#1a1a1a" stroke-width="1.3"/>
<line x1="99.2" y1="407.15" x2="100.4" y2="407.15" stroke="#777" stroke-width="0.6"/>
<line x1="99.2" y1="404.16" x2="100.4" y2="404.16" stroke="#777" stroke-width="0.6"/>
<line x1="99.2" y1="401.17" x2="100.4" y2="401.17" stroke="#777" stroke-width="0.6"/>
<line x1="98.6" y1="398.18" x2="100.9" y2="398.18" stroke="#1a1a1a" stroke-width="1.3"/>
<line x1="99.2" y1="395.19" x2="100.4" y2="395.19" stroke="#777" stroke-width="0.6"/>
<line x1="99.2" y1="392.2" x2="100.4" y2="392.2" stroke="#777" stroke-width="0.6"/>
<line x1="99.2" y1="389.21" x2="100.4" y2="389.21" stroke="#777" stroke-width="0.6"/>
<line x1="98.6" y1="386.22" x2="100.9" y2="386.22" stroke="#1a1a1a" stroke-width="1.3"/>
<line x1="99.2" y1="383.23" x2="100.4" y2="383.23" stroke="#777" stroke-width="0.6"/>
<line x1="99.2" y1="380.24" x2="100.4" y2="380.24" stroke="#777" stroke-width="0.6"/>
<line x1="99.2" y1="377.25" x2="100.4" y2="377.25" stroke="#777" stroke-width="0.6"/>
<line x1="98.6" y1="374.26" x2="100.9" y2="374.26" stroke="#1a1a1a" stroke-width="1.3"/>
<line x1="99.2" y1="371.27" x2="100.4" y2="371.27" stroke="#777" stroke-width="0.6"/>
<line x1="99.2" y1="368.28" x2="100.4" y2="368.28" stroke="#777" stroke-width="0.6"/>
<line x1="99.2" y1="365.29" x2="100.4" y2="365.29" stroke="#777" stroke-width="0.6"/>
<line x1="98.6" y1="362.3" x2="100.9" y2="362.3" stroke="#1a1a1a" stroke-width="1.3"/>
<line x1="99.9" y1="421.3" x2="99.9" y2="423.4" stroke="#1a1a1a" stroke-width="1.3"/>
<line x1="102.86" y1="421.8" x2="102.86" y2="422.9" stroke="#777" stroke-width="0.6"/>
<line x1="105.82" y1="421.8" x2="105.82" y2="422.9" stroke="#777" stroke-width="0.6"/>
<line x1="108.78" y1="421.8" x2="108.78" y2="422.9" stroke="#777" stroke-width="0.6"/>
<line x1="111.74" y1="421.3" x2="111.74" y2="423.4" stroke="#1a1a1a" stroke-width="1.3"/>
<line x1="114.7" y1="421.8" x2="114.7" y2="422.9" stroke="#777" stroke-width="0.6"/>
<line x1="117.66" y1="421.8" x2="117.66" y2="422.9" stroke="#777" stroke-width="0.6"/>
<line x1="120.62" y1="421.8" x2="120.62" y2="422.9" stroke="#777" stroke-width="0.6"/>
<line x1="123.58" y1="421.3" x2="123.58" y2="423.4" stroke="#1a1a1a" stroke-width="1.3"/>
<line x1="126.54" y1="421.8" x2="126.54" y2="422.9" stroke="#777" stroke-width="0.6"/>
<line x1="129.5" y1="421.8" x2="129.5" y2="422.9" stroke="#777" stroke-width="0.6"/>
<line x1="132.46" y1="421.8" x2="132.46" y2="422.9" stroke="#777" stroke-width="0.6"/>
<line x1="135.42" y1="421.3" x2="135.42" y2="423.4" stroke="#1a1a1a" stroke-width="1.3"/>
<line x1="138.38" y1="421.8" x2="138.38" y2="422.9" stroke="#777" stroke-width="0.6"/>
<line x1="141.34" y1="421.8" x2="141.34" y2="422.9" stroke="#777" stroke-width="0.6"/>
<line x1="144.3" y1="421.8" x2="144.3" y2="422.9" stroke="#777" stroke-width="0.6"/>
<line x1="147.26" y1="421.3" x2="147.26" y2="423.4" stroke="#1a1a1a" stroke-width="1.3"/>
<line x1="150.22" y1="421.8" x2="150.22" y2="422.9" stroke="#777" stroke-width="0.6"/>
<line x1="153.18" y1="421.8" x2="153.18" y2="422.9" stroke="#777" stroke-width="0.6"/>
<line x1="156.14" y1="421.8" x2="156.14" y2="422.9" stroke="#777" stroke-width="0.6"/>
<line x1="159.1" y1="421.3" x2="159.1" y2="423.4" stroke="#1a1a1a" stroke-width="1.3"/>
<rect x="166.9" y="362.3" width="59.2" height="59.8" fill="none" stroke="#c2c2c2" stroke-width="0.7" />
<line x1="166.9" y1="362.3" x2="166.9" y2="422.1" stroke="#888" stroke-width="0.6"/>
<line x1="166.9" y1="422.1" x2="226.1" y2="422.1" stroke="#555" stroke-width="0.8"/>
<line x1="165.6" y1="422.1" x2="167.9" y2="422.1" stroke="#1a1a1a" stroke-width="1.3"/>
<line x1="166.2" y1="419.11" x2="167.4" y2="419.11" stroke="#777" stroke-width="0.6"/>
<line x1="166.2" y1="416.12" x2="167.4" y2="416.12" stroke="#777" stroke-width="0.6"/>
<line x1="166.2" y1="413.13" x2="167.4" y2="413.13" stroke="#777" stroke-width="0.6"/>
<line x1="165.6" y1="410.14" x2="167.9" y2="410.14" stroke="#1a1a1a" stroke-width="1.3"/>
<line x1="166.2" y1="407.15" x2="167.4" y2="407.15" stroke="#777" stroke-width="0.6"/>
<line x1="166.2" y1="404.16" x2="167.4" y2="404.16" stroke="#777" stroke-width="0.6"/>
<line x1="166.2" y1="401.17" x2="167.4" y2="401.17" stroke="#777" stroke-width="0.6"/>
<line x1="165.6" y1="398.18" x2="167.9" y2="398.18" stroke="#1a1a1a" stroke-width="1.3"/>
<line x1="166.2" y1="395.19" x2="167.4" y2="395.19" stroke="#777" stroke-width="0.6"/>
<line x1="166.2" y1="392.2" x2="167.4" y2="392.2" stroke="#777" stroke-width="0.6"/>
<line x1="166.2" y1="389.21" x2="167.4" y2="389.21" stroke="#777" stroke-width="0.6"/>
<line x1="165.6" y1="386.22" x2="167.9" y2="386.22" stroke="#1a1a1a" stroke-width="1.3"/>
<line x1="166.2" y1="383.23" x2="167.4" y2="383.23" stroke="#777" stroke-width="0.6"/>
<line x1="166.2" y1="380.24" x2="167.4" y2="380.24" stroke="#777" stroke-width="0.6"/>
<line x1="166.2" y1="377.25" x2="167.4" y2="377.25" stroke="#777" stroke-width="0.6"/>
<line x1="165.6" y1="374.26" x2="167.9" y2="374.26" stroke="#1a1a1a" stroke-width="1.3"/>
<line x1="166.2" y1="371.27" x2="167.4" y2="371.27" stroke="#777" stroke-width="0.6"/>
<line x1="166.2" y1="368.28" x2="167.4" y2="368.28" stroke="#777" stroke-width="0.6"/>
<line x1="166.2" y1="365.29" x2="167.4" y2="365.29" stroke="#777" stroke-width="0.6"/>
<line x1="165.6" y1="362.3" x2="167.9" y2="362.3" stroke="#1a1a1a" stroke-width="1.3"/>
<line x1="166.9" y1="421.3" x2="166.9" y2="423.4" stroke="#1a1a1a" stroke-width="1.3"/>
<line x1="169.86" y1="421.8" x2="169.86" y2="422.9" stroke="#777" stroke-width="0.6"/>
<line x1="172.82" y1="421.8" x2="172.82" y2="422.9" stroke="#777" stroke-width="0.6"/>
<line x1="175.78" y1="421.8" x2="175.78" y2="422.9" stroke="#777" stroke-width="0.6"/>
<line x1="178.74" y1="421.3" x2="178.74" y2="423.4" stroke="#1a1a1a" stroke-width="1.3"/>
<line x1="181.7" y1="421.8" x2="181.7" y2="422.9" stroke="#777" stroke-width="0.6"/>
<line x1="184.66" y1="421.8" x2="184.66" y2="422.9" stroke="#777" stroke-width="0.6"/>
<line x1="187.62" y1="421.8" x2="187.62" y2="422.9" stroke="#777" stroke-width="0.6"/>
<line x1="190.58" y1="421.3" x2="190.58" y2="423.4" stroke="#1a1a1a" stroke-width="1.3"/>
<line x1="193.54" y1="421.8" x2="193.54" y2="422.9" stroke="#777" stroke-width="0.6"/>
<line x1="196.5" y1="421.8" x2="196.5" y2="422.9" stroke="#777" stroke-width="0.6"/>
<line x1="199.46" y1="421.8" x2="199.46" y2="422.9" stroke="#777" stroke-width="0.6"/>
<line x1="202.42" y1="421.3" x2="202.42" y2="423.4" stroke="#1a1a1a" stroke-width="1.3"/>
<line x1="205.38" y1="421.8" x2="205.38" y2="422.9" stroke="#777" stroke-width="0.6"/>
<line x1="208.34" y1="421.8" x2="208.34" y2="422.9" stroke="#777" stroke-width="0.6"/>
<line x1="211.3" y1="421.8" x2="211.3" y2="422.9" stroke="#777" stroke-width="0.6"/>
<line x1="214.26" y1="421.3" x2="214.26" y2="423.4" stroke="#1a1a1a" stroke-width="1.3"/>
<line x1="217.22" y1="421.8" x2="217.22" y2="422.9" stroke="#777" stroke-width="0.6"/>
<line x1="220.18" y1="421.8" x2="220.18" y2="422.9" stroke="#777" stroke-width="0.6"/>
<line x1="223.14" y1="421.8" x2="223.14" y2="422.9" stroke="#777" stroke-width="0.6"/>
<line x1="226.1" y1="421.3" x2="226.1" y2="423.4" stroke="#1a1a1a" stroke-width="1.3"/>
<g filter="url(#bl2)"><path d="M73.5,397.6 L73.24,399.28 L72.5,400.85 L71.3,402.2 L69.75,403.23 L67.94,403.88 L66,404.1 L64.06,403.88 L62.25,403.23 L60.7,402.2 L59.5,400.85 L58.76,399.28 L58.5,397.6 L58.76,395.92 L59.5,394.35 L60.7,393 L62.25,391.97 L64.06,391.32 L66,391.1 L67.94,391.32 L69.75,391.97 L71.3,393 L72.5,394.35 L73.24,395.92 Z" fill="#d0c6f4" transform="translate(66 397.6) scale(1) translate(-66 -397.6)"/></g>
<g filter="url(#bl2)"><path d="M74.5,394.1 L74.23,394.88 L73.43,395.6 L72.16,396.22 L70.5,396.7 L68.57,397 L66.5,397.1 L64.43,397 L62.5,396.7 L60.84,396.22 L59.57,395.6 L58.77,394.88 L58.5,394.1 L58.77,393.32 L59.57,392.6 L60.84,391.98 L62.5,391.5 L64.43,391.2 L66.5,391.1 L68.57,391.2 L70.5,391.5 L72.16,391.98 L73.43,392.6 L74.23,393.32 Z" fill="#9d8ee4" transform="translate(66.5 394.1) scale(1) translate(-66.5 -394.1)"/></g>
<g filter="url(#bl)"><path d="M79.9,389 L78.76,390.35 L76.86,391.6 L74.31,392.68 L71.31,393.5 L68.04,394.02 L64.74,394.2 L61.62,394.02 L58.91,393.5 L56.78,392.68 L55.38,391.6 L54.81,390.35 L55.1,389 L56.24,387.65 L58.14,386.4 L60.69,385.32 L63.69,384.5 L66.96,383.98 L70.26,383.8 L73.38,383.98 L76.09,384.5 L78.22,385.32 L79.62,386.4 L80.19,387.65 Z" fill="#9a80dc" transform="translate(67.5 388.6) scale(1.08) translate(-67.5 -388.6)"/><path d="M79.9,389 L78.76,390.35 L76.86,391.6 L74.31,392.68 L71.31,393.5 L68.04,394.02 L64.74,394.2 L61.62,394.02 L58.91,393.5 L56.78,392.68 L55.38,391.6 L54.81,390.35 L55.1,389 L56.24,387.65 L58.14,386.4 L60.69,385.32 L63.69,384.5 L66.96,383.98 L70.26,383.8 L73.38,383.98 L76.09,384.5 L78.22,385.32 L79.62,386.4 L80.19,387.65 Z" fill="#2a2aa8" transform="translate(67.5 388.6) scale(1) translate(-67.5 -388.6)"/><path d="M79.9,389 L78.76,390.35 L76.86,391.6 L74.31,392.68 L71.31,393.5 L68.04,394.02 L64.74,394.2 L61.62,394.02 L58.91,393.5 L56.78,392.68 L55.38,391.6 L54.81,390.35 L55.1,389 L56.24,387.65 L58.14,386.4 L60.69,385.32 L63.69,384.5 L66.96,383.98 L70.26,383.8 L73.38,383.98 L76.09,384.5 L78.22,385.32 L79.62,386.4 L80.19,387.65 Z" fill="#2456cc" transform="translate(67.5 388.6) scale(0.9) translate(-67.5 -388.6)"/></g>
<g filter="url(#bl)"><path d="M66.8,388.8 L66.09,389.78 L65.07,390.7 L63.79,391.49 L62.35,392.09 L60.85,392.47 L59.38,392.6 L58.05,392.47 L56.95,392.09 L56.15,391.49 L55.71,390.7 L55.66,389.78 L56,388.8 L56.71,387.82 L57.73,386.9 L59.01,386.11 L60.45,385.51 L61.95,385.13 L63.42,385 L64.75,385.13 L65.85,385.51 L66.65,386.11 L67.09,386.9 L67.14,387.82 Z" fill="#18a8b8" transform="translate(61.4 388.6) scale(1) translate(-61.4 -388.6)"/><path d="M66.8,388.8 L66.09,389.78 L65.07,390.7 L63.79,391.49 L62.35,392.09 L60.85,392.47 L59.38,392.6 L58.05,392.47 L56.95,392.09 L56.15,391.49 L55.71,390.7 L55.66,389.78 L56,388.8 L56.71,387.82 L57.73,386.9 L59.01,386.11 L60.45,385.51 L61.95,385.13 L63.42,385 L64.75,385.13 L65.85,385.51 L66.65,386.11 L67.09,386.9 L67.14,387.82 Z" fill="#3cc43c" transform="translate(61.4 388.6) scale(0.78) translate(-61.4 -388.6)"/><path d="M66.8,388.8 L66.09,389.78 L65.07,390.7 L63.79,391.49 L62.35,392.09 L60.85,392.47 L59.38,392.6 L58.05,392.47 L56.95,392.09 L56.15,391.49 L55.71,390.7 L55.66,389.78 L56,388.8 L56.71,387.82 L57.73,386.9 L59.01,386.11 L60.45,385.51 L61.95,385.13 L63.42,385 L64.75,385.13 L65.85,385.51 L66.65,386.11 L67.09,386.9 L67.14,387.82 Z" fill="#d8e02a" transform="translate(61.4 388.6) scale(0.33) translate(-61.4 -388.6)"/></g>
<g filter="url(#bl)"><path d="M78.7,388.6 L77.95,389.61 L76.83,390.55 L75.42,391.36 L73.8,391.98 L72.1,392.37 L70.43,392.5 L68.89,392.37 L67.6,391.98 L66.65,391.36 L66.09,390.55 L65.97,389.61 L66.3,388.6 L67.05,387.59 L68.17,386.65 L69.58,385.84 L71.2,385.22 L72.9,384.83 L74.57,384.7 L76.11,384.83 L77.4,385.22 L78.35,385.84 L78.91,386.65 L79.03,387.59 Z" fill="#18a8b8" transform="translate(72.5 388.6) scale(1) translate(-72.5 -388.6)"/><path d="M78.7,388.6 L77.95,389.61 L76.83,390.55 L75.42,391.36 L73.8,391.98 L72.1,392.37 L70.43,392.5 L68.89,392.37 L67.6,391.98 L66.65,391.36 L66.09,390.55 L65.97,389.61 L66.3,388.6 L67.05,387.59 L68.17,386.65 L69.58,385.84 L71.2,385.22 L72.9,384.83 L74.57,384.7 L76.11,384.83 L77.4,385.22 L78.35,385.84 L78.91,386.65 L79.03,387.59 Z" fill="#3cc43c" transform="translate(72.5 388.6) scale(0.8) translate(-72.5 -388.6)"/><path d="M78.7,388.6 L77.95,389.61 L76.83,390.55 L75.42,391.36 L73.8,391.98 L72.1,392.37 L70.43,392.5 L68.89,392.37 L67.6,391.98 L66.65,391.36 L66.09,390.55 L65.97,389.61 L66.3,388.6 L67.05,387.59 L68.17,386.65 L69.58,385.84 L71.2,385.22 L72.9,384.83 L74.57,384.7 L76.11,384.83 L77.4,385.22 L78.35,385.84 L78.91,386.65 L79.03,387.59 Z" fill="#d8e02a" transform="translate(72.5 388.6) scale(0.45) translate(-72.5 -388.6)"/><path d="M78.7,388.6 L77.95,389.61 L76.83,390.55 L75.42,391.36 L73.8,391.98 L72.1,392.37 L70.43,392.5 L68.89,392.37 L67.6,391.98 L66.65,391.36 L66.09,390.55 L65.97,389.61 L66.3,388.6 L67.05,387.59 L68.17,386.65 L69.58,385.84 L71.2,385.22 L72.9,384.83 L74.57,384.7 L76.11,384.83 L77.4,385.22 L78.35,385.84 L78.91,386.65 L79.03,387.59 Z" fill="#e8421c" transform="translate(72.5 388.6) scale(0.24) translate(-72.5 -388.6)"/></g>
<g filter="url(#bl2)"><path d="M138.6,397.7 L138.34,399.38 L137.6,400.95 L136.4,402.3 L134.85,403.33 L133.04,403.98 L131.1,404.2 L129.16,403.98 L127.35,403.33 L125.8,402.3 L124.6,400.95 L123.86,399.38 L123.6,397.7 L123.86,396.02 L124.6,394.45 L125.8,393.1 L127.35,392.07 L129.16,391.42 L131.1,391.2 L133.04,391.42 L134.85,392.07 L136.4,393.1 L137.6,394.45 L138.34,396.02 Z" fill="#d0c6f4" transform="translate(131.1 397.7) scale(1) translate(-131.1 -397.7)"/></g>
<g filter="url(#bl2)"><path d="M139.6,394.2 L139.33,394.98 L138.53,395.7 L137.26,396.32 L135.6,396.8 L133.67,397.1 L131.6,397.2 L129.53,397.1 L127.6,396.8 L125.94,396.32 L124.67,395.7 L123.87,394.98 L123.6,394.2 L123.87,393.42 L124.67,392.7 L125.94,392.08 L127.6,391.6 L129.53,391.3 L131.6,391.2 L133.67,391.3 L135.6,391.6 L137.26,392.08 L138.53,392.7 L139.33,393.42 Z" fill="#9d8ee4" transform="translate(131.6 394.2) scale(1) translate(-131.6 -394.2)"/></g>
<g filter="url(#bl)"><path d="M145,389.1 L143.86,390.45 L141.96,391.7 L139.41,392.78 L136.41,393.6 L133.14,394.12 L129.84,394.3 L126.72,394.12 L124.01,393.6 L121.88,392.78 L120.48,391.7 L119.91,390.45 L120.2,389.1 L121.34,387.75 L123.24,386.5 L125.79,385.42 L128.79,384.6 L132.06,384.08 L135.36,383.9 L138.48,384.08 L141.19,384.6 L143.32,385.42 L144.72,386.5 L145.29,387.75 Z" fill="#9a80dc" transform="translate(132.6 388.7) scale(1.08) translate(-132.6 -388.7)"/><path d="M145,389.1 L143.86,390.45 L141.96,391.7 L139.41,392.78 L136.41,393.6 L133.14,394.12 L129.84,394.3 L126.72,394.12 L124.01,393.6 L121.88,392.78 L120.48,391.7 L119.91,390.45 L120.2,389.1 L121.34,387.75 L123.24,386.5 L125.79,385.42 L128.79,384.6 L132.06,384.08 L135.36,383.9 L138.48,384.08 L141.19,384.6 L143.32,385.42 L144.72,386.5 L145.29,387.75 Z" fill="#2a2aa8" transform="translate(132.6 388.7) scale(1) translate(-132.6 -388.7)"/><path d="M145,389.1 L143.86,390.45 L141.96,391.7 L139.41,392.78 L136.41,393.6 L133.14,394.12 L129.84,394.3 L126.72,394.12 L124.01,393.6 L121.88,392.78 L120.48,391.7 L119.91,390.45 L120.2,389.1 L121.34,387.75 L123.24,386.5 L125.79,385.42 L128.79,384.6 L132.06,384.08 L135.36,383.9 L138.48,384.08 L141.19,384.6 L143.32,385.42 L144.72,386.5 L145.29,387.75 Z" fill="#2456cc" transform="translate(132.6 388.7) scale(0.9) translate(-132.6 -388.7)"/></g>
<g filter="url(#bl)"><path d="M132.8,388.9 L132.09,389.88 L131.07,390.8 L129.79,391.59 L128.35,392.19 L126.85,392.57 L125.38,392.7 L124.05,392.57 L122.95,392.19 L122.15,391.59 L121.71,390.8 L121.66,389.88 L122,388.9 L122.71,387.92 L123.73,387 L125.01,386.21 L126.45,385.61 L127.95,385.23 L129.42,385.1 L130.75,385.23 L131.85,385.61 L132.65,386.21 L133.09,387 L133.14,387.92 Z" fill="#18a8b8" transform="translate(127.4 388.7) scale(1) translate(-127.4 -388.7)"/><path d="M132.8,388.9 L132.09,389.88 L131.07,390.8 L129.79,391.59 L128.35,392.19 L126.85,392.57 L125.38,392.7 L124.05,392.57 L122.95,392.19 L122.15,391.59 L121.71,390.8 L121.66,389.88 L122,388.9 L122.71,387.92 L123.73,387 L125.01,386.21 L126.45,385.61 L127.95,385.23 L129.42,385.1 L130.75,385.23 L131.85,385.61 L132.65,386.21 L133.09,387 L133.14,387.92 Z" fill="#3cc43c" transform="translate(127.4 388.7) scale(0.78) translate(-127.4 -388.7)"/><path d="M132.8,388.9 L132.09,389.88 L131.07,390.8 L129.79,391.59 L128.35,392.19 L126.85,392.57 L125.38,392.7 L124.05,392.57 L122.95,392.19 L122.15,391.59 L121.71,390.8 L121.66,389.88 L122,388.9 L122.71,387.92 L123.73,387 L125.01,386.21 L126.45,385.61 L127.95,385.23 L129.42,385.1 L130.75,385.23 L131.85,385.61 L132.65,386.21 L133.09,387 L133.14,387.92 Z" fill="#d8e02a" transform="translate(127.4 388.7) scale(0.39) translate(-127.4 -388.7)"/></g>
<g filter="url(#bl)"><path d="M144.6,388.7 L143.85,389.71 L142.73,390.65 L141.32,391.46 L139.7,392.08 L138,392.47 L136.33,392.6 L134.79,392.47 L133.5,392.08 L132.55,391.46 L131.99,390.65 L131.87,389.71 L132.2,388.7 L132.95,387.69 L134.07,386.75 L135.48,385.94 L137.1,385.32 L138.8,384.93 L140.47,384.8 L142.01,384.93 L143.3,385.32 L144.25,385.94 L144.81,386.75 L144.93,387.69 Z" fill="#18a8b8" transform="translate(138.4 388.7) scale(1) translate(-138.4 -388.7)"/><path d="M144.6,388.7 L143.85,389.71 L142.73,390.65 L141.32,391.46 L139.7,392.08 L138,392.47 L136.33,392.6 L134.79,392.47 L133.5,392.08 L132.55,391.46 L131.99,390.65 L131.87,389.71 L132.2,388.7 L132.95,387.69 L134.07,386.75 L135.48,385.94 L137.1,385.32 L138.8,384.93 L140.47,384.8 L142.01,384.93 L143.3,385.32 L144.25,385.94 L144.81,386.75 L144.93,387.69 Z" fill="#3cc43c" transform="translate(138.4 388.7) scale(0.8) translate(-138.4 -388.7)"/><path d="M144.6,388.7 L143.85,389.71 L142.73,390.65 L141.32,391.46 L139.7,392.08 L138,392.47 L136.33,392.6 L134.79,392.47 L133.5,392.08 L132.55,391.46 L131.99,390.65 L131.87,389.71 L132.2,388.7 L132.95,387.69 L134.07,386.75 L135.48,385.94 L137.1,385.32 L138.8,384.93 L140.47,384.8 L142.01,384.93 L143.3,385.32 L144.25,385.94 L144.81,386.75 L144.93,387.69 Z" fill="#d8e02a" transform="translate(138.4 388.7) scale(0.25) translate(-138.4 -388.7)"/></g>
<g filter="url(#bl2)"><path d="M205.3,398.2 L205.04,399.88 L204.3,401.45 L203.1,402.8 L201.55,403.83 L199.74,404.48 L197.8,404.7 L195.86,404.48 L194.05,403.83 L192.5,402.8 L191.3,401.45 L190.56,399.88 L190.3,398.2 L190.56,396.52 L191.3,394.95 L192.5,393.6 L194.05,392.57 L195.86,391.92 L197.8,391.7 L199.74,391.92 L201.55,392.57 L203.1,393.6 L204.3,394.95 L205.04,396.52 Z" fill="#d0c6f4" transform="translate(197.8 398.2) scale(1) translate(-197.8 -398.2)"/></g>
<g filter="url(#bl2)"><path d="M206.3,394.7 L206.03,395.48 L205.23,396.2 L203.96,396.82 L202.3,397.3 L200.37,397.6 L198.3,397.7 L196.23,397.6 L194.3,397.3 L192.64,396.82 L191.37,396.2 L190.57,395.48 L190.3,394.7 L190.57,393.92 L191.37,393.2 L192.64,392.58 L194.3,392.1 L196.23,391.8 L198.3,391.7 L200.37,391.8 L202.3,392.1 L203.96,392.58 L205.23,393.2 L206.03,393.92 Z" fill="#9d8ee4" transform="translate(198.3 394.7) scale(1) translate(-198.3 -394.7)"/></g>
<g filter="url(#bl)"><path d="M211.7,389.6 L210.56,390.95 L208.66,392.2 L206.11,393.28 L203.11,394.1 L199.84,394.62 L196.54,394.8 L193.42,394.62 L190.71,394.1 L188.58,393.28 L187.18,392.2 L186.61,390.95 L186.9,389.6 L188.04,388.25 L189.94,387 L192.49,385.92 L195.49,385.1 L198.76,384.58 L202.06,384.4 L205.18,384.58 L207.89,385.1 L210.02,385.92 L211.42,387 L211.99,388.25 Z" fill="#9a80dc" transform="translate(199.3 389.2) scale(1.08) translate(-199.3 -389.2)"/><path d="M211.7,389.6 L210.56,390.95 L208.66,392.2 L206.11,393.28 L203.11,394.1 L199.84,394.62 L196.54,394.8 L193.42,394.62 L190.71,394.1 L188.58,393.28 L187.18,392.2 L186.61,390.95 L186.9,389.6 L188.04,388.25 L189.94,387 L192.49,385.92 L195.49,385.1 L198.76,384.58 L202.06,384.4 L205.18,384.58 L207.89,385.1 L210.02,385.92 L211.42,387 L211.99,388.25 Z" fill="#2a2aa8" transform="translate(199.3 389.2) scale(1) translate(-199.3 -389.2)"/><path d="M211.7,389.6 L210.56,390.95 L208.66,392.2 L206.11,393.28 L203.11,394.1 L199.84,394.62 L196.54,394.8 L193.42,394.62 L190.71,394.1 L188.58,393.28 L187.18,392.2 L186.61,390.95 L186.9,389.6 L188.04,388.25 L189.94,387 L192.49,385.92 L195.49,385.1 L198.76,384.58 L202.06,384.4 L205.18,384.58 L207.89,385.1 L210.02,385.92 L211.42,387 L211.99,388.25 Z" fill="#2456cc" transform="translate(199.3 389.2) scale(0.9) translate(-199.3 -389.2)"/></g>
<g filter="url(#bl)"><path d="M199.6,389.4 L198.89,390.38 L197.87,391.3 L196.59,392.09 L195.15,392.69 L193.65,393.07 L192.18,393.2 L190.85,393.07 L189.75,392.69 L188.95,392.09 L188.51,391.3 L188.46,390.38 L188.8,389.4 L189.51,388.42 L190.53,387.5 L191.81,386.71 L193.25,386.11 L194.75,385.73 L196.22,385.6 L197.55,385.73 L198.65,386.11 L199.45,386.71 L199.89,387.5 L199.94,388.42 Z" fill="#18a8b8" transform="translate(194.2 389.2) scale(1) translate(-194.2 -389.2)"/><path d="M199.6,389.4 L198.89,390.38 L197.87,391.3 L196.59,392.09 L195.15,392.69 L193.65,393.07 L192.18,393.2 L190.85,393.07 L189.75,392.69 L188.95,392.09 L188.51,391.3 L188.46,390.38 L188.8,389.4 L189.51,388.42 L190.53,387.5 L191.81,386.71 L193.25,386.11 L194.75,385.73 L196.22,385.6 L197.55,385.73 L198.65,386.11 L199.45,386.71 L199.89,387.5 L199.94,388.42 Z" fill="#3cc43c" transform="translate(194.2 389.2) scale(0.78) translate(-194.2 -389.2)"/><path d="M199.6,389.4 L198.89,390.38 L197.87,391.3 L196.59,392.09 L195.15,392.69 L193.65,393.07 L192.18,393.2 L190.85,393.07 L189.75,392.69 L188.95,392.09 L188.51,391.3 L188.46,390.38 L188.8,389.4 L189.51,388.42 L190.53,387.5 L191.81,386.71 L193.25,386.11 L194.75,385.73 L196.22,385.6 L197.55,385.73 L198.65,386.11 L199.45,386.71 L199.89,387.5 L199.94,388.42 Z" fill="#d8e02a" transform="translate(194.2 389.2) scale(0.39) translate(-194.2 -389.2)"/><path d="M199.6,389.4 L198.89,390.38 L197.87,391.3 L196.59,392.09 L195.15,392.69 L193.65,393.07 L192.18,393.2 L190.85,393.07 L189.75,392.69 L188.95,392.09 L188.51,391.3 L188.46,390.38 L188.8,389.4 L189.51,388.42 L190.53,387.5 L191.81,386.71 L193.25,386.11 L194.75,385.73 L196.22,385.6 L197.55,385.73 L198.65,386.11 L199.45,386.71 L199.89,387.5 L199.94,388.42 Z" fill="#e8421c" transform="translate(194.2 389.2) scale(0.2) translate(-194.2 -389.2)"/></g>
<g filter="url(#bl)"><path d="M211.4,389.2 L210.65,390.21 L209.53,391.15 L208.12,391.96 L206.5,392.58 L204.8,392.97 L203.13,393.1 L201.59,392.97 L200.3,392.58 L199.35,391.96 L198.79,391.15 L198.67,390.21 L199,389.2 L199.75,388.19 L200.87,387.25 L202.28,386.44 L203.9,385.82 L205.6,385.43 L207.27,385.3 L208.81,385.43 L210.1,385.82 L211.05,386.44 L211.61,387.25 L211.73,388.19 Z" fill="#18a8b8" transform="translate(205.2 389.2) scale(1) translate(-205.2 -389.2)"/><path d="M211.4,389.2 L210.65,390.21 L209.53,391.15 L208.12,391.96 L206.5,392.58 L204.8,392.97 L203.13,393.1 L201.59,392.97 L200.3,392.58 L199.35,391.96 L198.79,391.15 L198.67,390.21 L199,389.2 L199.75,388.19 L200.87,387.25 L202.28,386.44 L203.9,385.82 L205.6,385.43 L207.27,385.3 L208.81,385.43 L210.1,385.82 L211.05,386.44 L211.61,387.25 L211.73,388.19 Z" fill="#3cc43c" transform="translate(205.2 389.2) scale(0.8) translate(-205.2 -389.2)"/><path d="M211.4,389.2 L210.65,390.21 L209.53,391.15 L208.12,391.96 L206.5,392.58 L204.8,392.97 L203.13,393.1 L201.59,392.97 L200.3,392.58 L199.35,391.96 L198.79,391.15 L198.67,390.21 L199,389.2 L199.75,388.19 L200.87,387.25 L202.28,386.44 L203.9,385.82 L205.6,385.43 L207.27,385.3 L208.81,385.43 L210.1,385.82 L211.05,386.44 L211.61,387.25 L211.73,388.19 Z" fill="#d8e02a" transform="translate(205.2 389.2) scale(0.25) translate(-205.2 -389.2)"/></g>
<polygon points="58.6,373.6 85.4,377.1 72.8,411.1 45.4,405.3" fill="none" stroke="#111" stroke-width="1" stroke-linejoin="miter"/>
<line x1="71.6" y1="374.3" x2="60.3" y2="407" stroke="#111" stroke-width="1.6"/>
<text x="58.2" y="381.3" font-size="6.4" fill="#222" stroke="#222" stroke-width="0.15">38.4</text>
<text x="64.6" y="408.2" font-size="6.4" fill="#222" stroke="#222" stroke-width="0.15">56.9</text>
<text x="34.6" y="418.6" font-size="6.5" fill="#222" stroke="#222" stroke-width="0.15">TMD8 Parental</text>
<polygon points="125.7,373.6 152.5,377.1 139.9,411.1 112.5,405.3" fill="none" stroke="#111" stroke-width="1" stroke-linejoin="miter"/>
<line x1="138.7" y1="374.3" x2="127.4" y2="407" stroke="#111" stroke-width="1.6"/>
<text x="124.6" y="381.5" font-size="6.4" fill="#222" stroke="#222" stroke-width="0.15">52.2</text>
<text x="129" y="407.6" font-size="6.4" fill="#222" stroke="#222" stroke-width="0.15">39.4</text>
<text x="101.7" y="418.6" font-size="6.5" fill="#222" stroke="#222" stroke-width="0.15">TMD8 IBR#3</text>
<polygon points="192.7,373.6 219.5,377.1 206.9,411.1 179.5,405.3" fill="none" stroke="#111" stroke-width="1" stroke-linejoin="miter"/>
<line x1="205.7" y1="374.3" x2="194.4" y2="407" stroke="#111" stroke-width="1.6"/>
<text x="192.6" y="381" font-size="6.4" fill="#222" stroke="#222" stroke-width="0.15">69.9</text>
<text x="195.2" y="407.5" font-size="6.4" fill="#222" stroke="#222" stroke-width="0.15">24.8</text>
<text x="168.7" y="418.6" font-size="6.5" fill="#222" stroke="#222" stroke-width="0.15">TMD8 IBR#6</text>
<rect x="32.5" y="434.2" width="59.6" height="59.8" fill="none" stroke="#c2c2c2" stroke-width="0.7" />
<line x1="32.5" y1="434.2" x2="32.5" y2="494" stroke="#888" stroke-width="0.6"/>
<line x1="32.5" y1="494" x2="92.1" y2="494" stroke="#555" stroke-width="0.8"/>
<line x1="31.2" y1="494" x2="33.5" y2="494" stroke="#1a1a1a" stroke-width="1.3"/>
<line x1="31.8" y1="491.01" x2="33" y2="491.01" stroke="#777" stroke-width="0.6"/>
<line x1="31.8" y1="488.02" x2="33" y2="488.02" stroke="#777" stroke-width="0.6"/>
<line x1="31.8" y1="485.03" x2="33" y2="485.03" stroke="#777" stroke-width="0.6"/>
<line x1="31.2" y1="482.04" x2="33.5" y2="482.04" stroke="#1a1a1a" stroke-width="1.3"/>
<line x1="31.8" y1="479.05" x2="33" y2="479.05" stroke="#777" stroke-width="0.6"/>
<line x1="31.8" y1="476.06" x2="33" y2="476.06" stroke="#777" stroke-width="0.6"/>
<line x1="31.8" y1="473.07" x2="33" y2="473.07" stroke="#777" stroke-width="0.6"/>
<line x1="31.2" y1="470.08" x2="33.5" y2="470.08" stroke="#1a1a1a" stroke-width="1.3"/>
<line x1="31.8" y1="467.09" x2="33" y2="467.09" stroke="#777" stroke-width="0.6"/>
<line x1="31.8" y1="464.1" x2="33" y2="464.1" stroke="#777" stroke-width="0.6"/>
<line x1="31.8" y1="461.11" x2="33" y2="461.11" stroke="#777" stroke-width="0.6"/>
<line x1="31.2" y1="458.12" x2="33.5" y2="458.12" stroke="#1a1a1a" stroke-width="1.3"/>
<line x1="31.8" y1="455.13" x2="33" y2="455.13" stroke="#777" stroke-width="0.6"/>
<line x1="31.8" y1="452.14" x2="33" y2="452.14" stroke="#777" stroke-width="0.6"/>
<line x1="31.8" y1="449.15" x2="33" y2="449.15" stroke="#777" stroke-width="0.6"/>
<line x1="31.2" y1="446.16" x2="33.5" y2="446.16" stroke="#1a1a1a" stroke-width="1.3"/>
<line x1="31.8" y1="443.17" x2="33" y2="443.17" stroke="#777" stroke-width="0.6"/>
<line x1="31.8" y1="440.18" x2="33" y2="440.18" stroke="#777" stroke-width="0.6"/>
<line x1="31.8" y1="437.19" x2="33" y2="437.19" stroke="#777" stroke-width="0.6"/>
<line x1="31.2" y1="434.2" x2="33.5" y2="434.2" stroke="#1a1a1a" stroke-width="1.3"/>
<line x1="32.5" y1="493.2" x2="32.5" y2="495.3" stroke="#1a1a1a" stroke-width="1.3"/>
<line x1="35.48" y1="493.7" x2="35.48" y2="494.8" stroke="#777" stroke-width="0.6"/>
<line x1="38.46" y1="493.7" x2="38.46" y2="494.8" stroke="#777" stroke-width="0.6"/>
<line x1="41.44" y1="493.7" x2="41.44" y2="494.8" stroke="#777" stroke-width="0.6"/>
<line x1="44.42" y1="493.2" x2="44.42" y2="495.3" stroke="#1a1a1a" stroke-width="1.3"/>
<line x1="47.4" y1="493.7" x2="47.4" y2="494.8" stroke="#777" stroke-width="0.6"/>
<line x1="50.38" y1="493.7" x2="50.38" y2="494.8" stroke="#777" stroke-width="0.6"/>
<line x1="53.36" y1="493.7" x2="53.36" y2="494.8" stroke="#777" stroke-width="0.6"/>
<line x1="56.34" y1="493.2" x2="56.34" y2="495.3" stroke="#1a1a1a" stroke-width="1.3"/>
<line x1="59.32" y1="493.7" x2="59.32" y2="494.8" stroke="#777" stroke-width="0.6"/>
<line x1="62.3" y1="493.7" x2="62.3" y2="494.8" stroke="#777" stroke-width="0.6"/>
<line x1="65.28" y1="493.7" x2="65.28" y2="494.8" stroke="#777" stroke-width="0.6"/>
<line x1="68.26" y1="493.2" x2="68.26" y2="495.3" stroke="#1a1a1a" stroke-width="1.3"/>
<line x1="71.24" y1="493.7" x2="71.24" y2="494.8" stroke="#777" stroke-width="0.6"/>
<line x1="74.22" y1="493.7" x2="74.22" y2="494.8" stroke="#777" stroke-width="0.6"/>
<line x1="77.2" y1="493.7" x2="77.2" y2="494.8" stroke="#777" stroke-width="0.6"/>
<line x1="80.18" y1="493.2" x2="80.18" y2="495.3" stroke="#1a1a1a" stroke-width="1.3"/>
<line x1="83.16" y1="493.7" x2="83.16" y2="494.8" stroke="#777" stroke-width="0.6"/>
<line x1="86.14" y1="493.7" x2="86.14" y2="494.8" stroke="#777" stroke-width="0.6"/>
<line x1="89.12" y1="493.7" x2="89.12" y2="494.8" stroke="#777" stroke-width="0.6"/>
<line x1="92.1" y1="493.2" x2="92.1" y2="495.3" stroke="#1a1a1a" stroke-width="1.3"/>
<rect x="99.3" y="434.2" width="59.6" height="59.8" fill="none" stroke="#c2c2c2" stroke-width="0.7" />
<line x1="99.3" y1="434.2" x2="99.3" y2="494" stroke="#888" stroke-width="0.6"/>
<line x1="99.3" y1="494" x2="158.9" y2="494" stroke="#555" stroke-width="0.8"/>
<line x1="98" y1="494" x2="100.3" y2="494" stroke="#1a1a1a" stroke-width="1.3"/>
<line x1="98.6" y1="491.01" x2="99.8" y2="491.01" stroke="#777" stroke-width="0.6"/>
<line x1="98.6" y1="488.02" x2="99.8" y2="488.02" stroke="#777" stroke-width="0.6"/>
<line x1="98.6" y1="485.03" x2="99.8" y2="485.03" stroke="#777" stroke-width="0.6"/>
<line x1="98" y1="482.04" x2="100.3" y2="482.04" stroke="#1a1a1a" stroke-width="1.3"/>
<line x1="98.6" y1="479.05" x2="99.8" y2="479.05" stroke="#777" stroke-width="0.6"/>
<line x1="98.6" y1="476.06" x2="99.8" y2="476.06" stroke="#777" stroke-width="0.6"/>
<line x1="98.6" y1="473.07" x2="99.8" y2="473.07" stroke="#777" stroke-width="0.6"/>
<line x1="98" y1="470.08" x2="100.3" y2="470.08" stroke="#1a1a1a" stroke-width="1.3"/>
<line x1="98.6" y1="467.09" x2="99.8" y2="467.09" stroke="#777" stroke-width="0.6"/>
<line x1="98.6" y1="464.1" x2="99.8" y2="464.1" stroke="#777" stroke-width="0.6"/>
<line x1="98.6" y1="461.11" x2="99.8" y2="461.11" stroke="#777" stroke-width="0.6"/>
<line x1="98" y1="458.12" x2="100.3" y2="458.12" stroke="#1a1a1a" stroke-width="1.3"/>
<line x1="98.6" y1="455.13" x2="99.8" y2="455.13" stroke="#777" stroke-width="0.6"/>
<line x1="98.6" y1="452.14" x2="99.8" y2="452.14" stroke="#777" stroke-width="0.6"/>
<line x1="98.6" y1="449.15" x2="99.8" y2="449.15" stroke="#777" stroke-width="0.6"/>
<line x1="98" y1="446.16" x2="100.3" y2="446.16" stroke="#1a1a1a" stroke-width="1.3"/>
<line x1="98.6" y1="443.17" x2="99.8" y2="443.17" stroke="#777" stroke-width="0.6"/>
<line x1="98.6" y1="440.18" x2="99.8" y2="440.18" stroke="#777" stroke-width="0.6"/>
<line x1="98.6" y1="437.19" x2="99.8" y2="437.19" stroke="#777" stroke-width="0.6"/>
<line x1="98" y1="434.2" x2="100.3" y2="434.2" stroke="#1a1a1a" stroke-width="1.3"/>
<line x1="99.3" y1="493.2" x2="99.3" y2="495.3" stroke="#1a1a1a" stroke-width="1.3"/>
<line x1="102.28" y1="493.7" x2="102.28" y2="494.8" stroke="#777" stroke-width="0.6"/>
<line x1="105.26" y1="493.7" x2="105.26" y2="494.8" stroke="#777" stroke-width="0.6"/>
<line x1="108.24" y1="493.7" x2="108.24" y2="494.8" stroke="#777" stroke-width="0.6"/>
<line x1="111.22" y1="493.2" x2="111.22" y2="495.3" stroke="#1a1a1a" stroke-width="1.3"/>
<line x1="114.2" y1="493.7" x2="114.2" y2="494.8" stroke="#777" stroke-width="0.6"/>
<line x1="117.18" y1="493.7" x2="117.18" y2="494.8" stroke="#777" stroke-width="0.6"/>
<line x1="120.16" y1="493.7" x2="120.16" y2="494.8" stroke="#777" stroke-width="0.6"/>
<line x1="123.14" y1="493.2" x2="123.14" y2="495.3" stroke="#1a1a1a" stroke-width="1.3"/>
<line x1="126.12" y1="493.7" x2="126.12" y2="494.8" stroke="#777" stroke-width="0.6"/>
<line x1="129.1" y1="493.7" x2="129.1" y2="494.8" stroke="#777" stroke-width="0.6"/>
<line x1="132.08" y1="493.7" x2="132.08" y2="494.8" stroke="#777" stroke-width="0.6"/>
<line x1="135.06" y1="493.2" x2="135.06" y2="495.3" stroke="#1a1a1a" stroke-width="1.3"/>
<line x1="138.04" y1="493.7" x2="138.04" y2="494.8" stroke="#777" stroke-width="0.6"/>
<line x1="141.02" y1="493.7" x2="141.02" y2="494.8" stroke="#777" stroke-width="0.6"/>
<line x1="144" y1="493.7" x2="144" y2="494.8" stroke="#777" stroke-width="0.6"/>
<line x1="146.98" y1="493.2" x2="146.98" y2="495.3" stroke="#1a1a1a" stroke-width="1.3"/>
<line x1="149.96" y1="493.7" x2="149.96" y2="494.8" stroke="#777" stroke-width="0.6"/>
<line x1="152.94" y1="493.7" x2="152.94" y2="494.8" stroke="#777" stroke-width="0.6"/>
<line x1="155.92" y1="493.7" x2="155.92" y2="494.8" stroke="#777" stroke-width="0.6"/>
<line x1="158.9" y1="493.2" x2="158.9" y2="495.3" stroke="#1a1a1a" stroke-width="1.3"/>
<rect x="166.1" y="434.2" width="59.6" height="59.8" fill="none" stroke="#c2c2c2" stroke-width="0.7" />
<line x1="166.1" y1="434.2" x2="166.1" y2="494" stroke="#888" stroke-width="0.6"/>
<line x1="166.1" y1="494" x2="225.7" y2="494" stroke="#555" stroke-width="0.8"/>
<line x1="164.8" y1="494" x2="167.1" y2="494" stroke="#1a1a1a" stroke-width="1.3"/>
<line x1="165.4" y1="491.01" x2="166.6" y2="491.01" stroke="#777" stroke-width="0.6"/>
<line x1="165.4" y1="488.02" x2="166.6" y2="488.02" stroke="#777" stroke-width="0.6"/>
<line x1="165.4" y1="485.03" x2="166.6" y2="485.03" stroke="#777" stroke-width="0.6"/>
<line x1="164.8" y1="482.04" x2="167.1" y2="482.04" stroke="#1a1a1a" stroke-width="1.3"/>
<line x1="165.4" y1="479.05" x2="166.6" y2="479.05" stroke="#777" stroke-width="0.6"/>
<line x1="165.4" y1="476.06" x2="166.6" y2="476.06" stroke="#777" stroke-width="0.6"/>
<line x1="165.4" y1="473.07" x2="166.6" y2="473.07" stroke="#777" stroke-width="0.6"/>
<line x1="164.8" y1="470.08" x2="167.1" y2="470.08" stroke="#1a1a1a" stroke-width="1.3"/>
<line x1="165.4" y1="467.09" x2="166.6" y2="467.09" stroke="#777" stroke-width="0.6"/>
<line x1="165.4" y1="464.1" x2="166.6" y2="464.1" stroke="#777" stroke-width="0.6"/>
<line x1="165.4" y1="461.11" x2="166.6" y2="461.11" stroke="#777" stroke-width="0.6"/>
<line x1="164.8" y1="458.12" x2="167.1" y2="458.12" stroke="#1a1a1a" stroke-width="1.3"/>
<line x1="165.4" y1="455.13" x2="166.6" y2="455.13" stroke="#777" stroke-width="0.6"/>
<line x1="165.4" y1="452.14" x2="166.6" y2="452.14" stroke="#777" stroke-width="0.6"/>
<line x1="165.4" y1="449.15" x2="166.6" y2="449.15" stroke="#777" stroke-width="0.6"/>
<line x1="164.8" y1="446.16" x2="167.1" y2="446.16" stroke="#1a1a1a" stroke-width="1.3"/>
<line x1="165.4" y1="443.17" x2="166.6" y2="443.17" stroke="#777" stroke-width="0.6"/>
<line x1="165.4" y1="440.18" x2="166.6" y2="440.18" stroke="#777" stroke-width="0.6"/>
<line x1="165.4" y1="437.19" x2="166.6" y2="437.19" stroke="#777" stroke-width="0.6"/>
<line x1="164.8" y1="434.2" x2="167.1" y2="434.2" stroke="#1a1a1a" stroke-width="1.3"/>
<line x1="166.1" y1="493.2" x2="166.1" y2="495.3" stroke="#1a1a1a" stroke-width="1.3"/>
<line x1="169.08" y1="493.7" x2="169.08" y2="494.8" stroke="#777" stroke-width="0.6"/>
<line x1="172.06" y1="493.7" x2="172.06" y2="494.8" stroke="#777" stroke-width="0.6"/>
<line x1="175.04" y1="493.7" x2="175.04" y2="494.8" stroke="#777" stroke-width="0.6"/>
<line x1="178.02" y1="493.2" x2="178.02" y2="495.3" stroke="#1a1a1a" stroke-width="1.3"/>
<line x1="181" y1="493.7" x2="181" y2="494.8" stroke="#777" stroke-width="0.6"/>
<line x1="183.98" y1="493.7" x2="183.98" y2="494.8" stroke="#777" stroke-width="0.6"/>
<line x1="186.96" y1="493.7" x2="186.96" y2="494.8" stroke="#777" stroke-width="0.6"/>
<line x1="189.94" y1="493.2" x2="189.94" y2="495.3" stroke="#1a1a1a" stroke-width="1.3"/>
<line x1="192.92" y1="493.7" x2="192.92" y2="494.8" stroke="#777" stroke-width="0.6"/>
<line x1="195.9" y1="493.7" x2="195.9" y2="494.8" stroke="#777" stroke-width="0.6"/>
<line x1="198.88" y1="493.7" x2="198.88" y2="494.8" stroke="#777" stroke-width="0.6"/>
<line x1="201.86" y1="493.2" x2="201.86" y2="495.3" stroke="#1a1a1a" stroke-width="1.3"/>
<line x1="204.84" y1="493.7" x2="204.84" y2="494.8" stroke="#777" stroke-width="0.6"/>
<line x1="207.82" y1="493.7" x2="207.82" y2="494.8" stroke="#777" stroke-width="0.6"/>
<line x1="210.8" y1="493.7" x2="210.8" y2="494.8" stroke="#777" stroke-width="0.6"/>
<line x1="213.78" y1="493.2" x2="213.78" y2="495.3" stroke="#1a1a1a" stroke-width="1.3"/>
<line x1="216.76" y1="493.7" x2="216.76" y2="494.8" stroke="#777" stroke-width="0.6"/>
<line x1="219.74" y1="493.7" x2="219.74" y2="494.8" stroke="#777" stroke-width="0.6"/>
<line x1="222.72" y1="493.7" x2="222.72" y2="494.8" stroke="#777" stroke-width="0.6"/>
<line x1="225.7" y1="493.2" x2="225.7" y2="495.3" stroke="#1a1a1a" stroke-width="1.3"/>
<g filter="url(#bl2)"><path d="M79.9,454.05 L78.58,456.51 L76.5,458.8 L73.79,460.77 L70.66,462.28 L67.3,463.23 L63.94,463.55 L60.82,463.23 L58.16,462.28 L56.12,460.77 L54.85,458.8 L54.43,456.51 L54.9,454.05 L56.22,451.59 L58.3,449.3 L61.01,447.33 L64.14,445.82 L67.5,444.87 L70.86,444.55 L73.98,444.87 L76.64,445.82 L78.68,447.33 L79.95,449.3 L80.37,451.59 Z" fill="#d2caf4" transform="translate(67.4 454.05) scale(1) translate(-67.4 -454.05)"/></g>
<g filter="url(#bl)"><path d="M67.3,452.3 L66.61,454.03 L65.56,455.65 L64.24,457.04 L62.74,458.1 L61.15,458.77 L59.58,459 L58.14,458.77 L56.94,458.1 L56.04,457.04 L55.52,455.65 L55.4,454.03 L55.7,452.3 L56.39,450.57 L57.44,448.95 L58.76,447.56 L60.26,446.5 L61.85,445.83 L63.42,445.6 L64.86,445.83 L66.06,446.5 L66.96,447.56 L67.48,448.95 L67.6,450.57 Z" fill="#a894e4" transform="translate(61.5 452.3) scale(1.1) translate(-61.5 -452.3)"/><path d="M67.3,452.3 L66.61,454.03 L65.56,455.65 L64.24,457.04 L62.74,458.1 L61.15,458.77 L59.58,459 L58.14,458.77 L56.94,458.1 L56.04,457.04 L55.52,455.65 L55.4,454.03 L55.7,452.3 L56.39,450.57 L57.44,448.95 L58.76,447.56 L60.26,446.5 L61.85,445.83 L63.42,445.6 L64.86,445.83 L66.06,446.5 L66.96,447.56 L67.48,448.95 L67.6,450.57 Z" fill="#2a2aa8" transform="translate(61.5 452.3) scale(1) translate(-61.5 -452.3)"/><path d="M67.3,452.3 L66.61,454.03 L65.56,455.65 L64.24,457.04 L62.74,458.1 L61.15,458.77 L59.58,459 L58.14,458.77 L56.94,458.1 L56.04,457.04 L55.52,455.65 L55.4,454.03 L55.7,452.3 L56.39,450.57 L57.44,448.95 L58.76,447.56 L60.26,446.5 L61.85,445.83 L63.42,445.6 L64.86,445.83 L66.06,446.5 L66.96,447.56 L67.48,448.95 L67.6,450.57 Z" fill="#1f5cd0" transform="translate(61.5 452.3) scale(0.92) translate(-61.5 -452.3)"/><path d="M67.3,452.3 L66.61,454.03 L65.56,455.65 L64.24,457.04 L62.74,458.1 L61.15,458.77 L59.58,459 L58.14,458.77 L56.94,458.1 L56.04,457.04 L55.52,455.65 L55.4,454.03 L55.7,452.3 L56.39,450.57 L57.44,448.95 L58.76,447.56 L60.26,446.5 L61.85,445.83 L63.42,445.6 L64.86,445.83 L66.06,446.5 L66.96,447.56 L67.48,448.95 L67.6,450.57 Z" fill="#16a9b8" transform="translate(61.5 452.3) scale(0.82) translate(-61.5 -452.3)"/><path d="M67.3,452.3 L66.61,454.03 L65.56,455.65 L64.24,457.04 L62.74,458.1 L61.15,458.77 L59.58,459 L58.14,458.77 L56.94,458.1 L56.04,457.04 L55.52,455.65 L55.4,454.03 L55.7,452.3 L56.39,450.57 L57.44,448.95 L58.76,447.56 L60.26,446.5 L61.85,445.83 L63.42,445.6 L64.86,445.83 L66.06,446.5 L66.96,447.56 L67.48,448.95 L67.6,450.57 Z" fill="#3cc43c" transform="translate(61.5 452.3) scale(0.66) translate(-61.5 -452.3)"/></g>
<g filter="url(#bl)"><path d="M78.9,451.8 L78.21,453.53 L77.19,455.15 L75.9,456.54 L74.44,457.6 L72.89,458.27 L71.38,458.5 L69.99,458.27 L68.84,457.6 L67.98,456.54 L67.49,455.15 L67.39,453.53 L67.7,451.8 L68.39,450.07 L69.41,448.45 L70.7,447.06 L72.16,446 L73.71,445.33 L75.22,445.1 L76.61,445.33 L77.76,446 L78.62,447.06 L79.11,448.45 L79.21,450.07 Z" fill="#a894e4" transform="translate(73.3 451.8) scale(1.1) translate(-73.3 -451.8)"/><path d="M78.9,451.8 L78.21,453.53 L77.19,455.15 L75.9,456.54 L74.44,457.6 L72.89,458.27 L71.38,458.5 L69.99,458.27 L68.84,457.6 L67.98,456.54 L67.49,455.15 L67.39,453.53 L67.7,451.8 L68.39,450.07 L69.41,448.45 L70.7,447.06 L72.16,446 L73.71,445.33 L75.22,445.1 L76.61,445.33 L77.76,446 L78.62,447.06 L79.11,448.45 L79.21,450.07 Z" fill="#2a2aa8" transform="translate(73.3 451.8) scale(1) translate(-73.3 -451.8)"/><path d="M78.9,451.8 L78.21,453.53 L77.19,455.15 L75.9,456.54 L74.44,457.6 L72.89,458.27 L71.38,458.5 L69.99,458.27 L68.84,457.6 L67.98,456.54 L67.49,455.15 L67.39,453.53 L67.7,451.8 L68.39,450.07 L69.41,448.45 L70.7,447.06 L72.16,446 L73.71,445.33 L75.22,445.1 L76.61,445.33 L77.76,446 L78.62,447.06 L79.11,448.45 L79.21,450.07 Z" fill="#1f5cd0" transform="translate(73.3 451.8) scale(0.92) translate(-73.3 -451.8)"/><path d="M78.9,451.8 L78.21,453.53 L77.19,455.15 L75.9,456.54 L74.44,457.6 L72.89,458.27 L71.38,458.5 L69.99,458.27 L68.84,457.6 L67.98,456.54 L67.49,455.15 L67.39,453.53 L67.7,451.8 L68.39,450.07 L69.41,448.45 L70.7,447.06 L72.16,446 L73.71,445.33 L75.22,445.1 L76.61,445.33 L77.76,446 L78.62,447.06 L79.11,448.45 L79.21,450.07 Z" fill="#16a9b8" transform="translate(73.3 451.8) scale(0.82) translate(-73.3 -451.8)"/><path d="M78.9,451.8 L78.21,453.53 L77.19,455.15 L75.9,456.54 L74.44,457.6 L72.89,458.27 L71.38,458.5 L69.99,458.27 L68.84,457.6 L67.98,456.54 L67.49,455.15 L67.39,453.53 L67.7,451.8 L68.39,450.07 L69.41,448.45 L70.7,447.06 L72.16,446 L73.71,445.33 L75.22,445.1 L76.61,445.33 L77.76,446 L78.62,447.06 L79.11,448.45 L79.21,450.07 Z" fill="#3cc43c" transform="translate(73.3 451.8) scale(0.66) translate(-73.3 -451.8)"/><path d="M78.9,451.8 L78.21,453.53 L77.19,455.15 L75.9,456.54 L74.44,457.6 L72.89,458.27 L71.38,458.5 L69.99,458.27 L68.84,457.6 L67.98,456.54 L67.49,455.15 L67.39,453.53 L67.7,451.8 L68.39,450.07 L69.41,448.45 L70.7,447.06 L72.16,446 L73.71,445.33 L75.22,445.1 L76.61,445.33 L77.76,446 L78.62,447.06 L79.11,448.45 L79.21,450.07 Z" fill="#d8e02a" transform="translate(73.3 451.8) scale(0.34) translate(-73.3 -451.8)"/><path d="M78.9,451.8 L78.21,453.53 L77.19,455.15 L75.9,456.54 L74.44,457.6 L72.89,458.27 L71.38,458.5 L69.99,458.27 L68.84,457.6 L67.98,456.54 L67.49,455.15 L67.39,453.53 L67.7,451.8 L68.39,450.07 L69.41,448.45 L70.7,447.06 L72.16,446 L73.71,445.33 L75.22,445.1 L76.61,445.33 L77.76,446 L78.62,447.06 L79.11,448.45 L79.21,450.07 Z" fill="#e8421c" transform="translate(73.3 451.8) scale(0.17) translate(-73.3 -451.8)"/></g>
<g filter="url(#bl2)"><path d="M144.95,453.4 L143.63,455.86 L141.55,458.15 L138.84,460.12 L135.71,461.63 L132.35,462.58 L128.99,462.9 L125.87,462.58 L123.21,461.63 L121.17,460.12 L119.9,458.15 L119.48,455.86 L119.95,453.4 L121.27,450.94 L123.35,448.65 L126.06,446.68 L129.19,445.17 L132.55,444.22 L135.91,443.9 L139.03,444.22 L141.69,445.17 L143.73,446.68 L145,448.65 L145.42,450.94 Z" fill="#d2caf4" transform="translate(132.45 453.4) scale(1) translate(-132.45 -453.4)"/></g>
<g filter="url(#bl)"><path d="M132.4,451.6 L131.71,453.33 L130.66,454.95 L129.34,456.34 L127.84,457.4 L126.25,458.07 L124.68,458.3 L123.24,458.07 L122.04,457.4 L121.14,456.34 L120.62,454.95 L120.5,453.33 L120.8,451.6 L121.49,449.87 L122.54,448.25 L123.86,446.86 L125.36,445.8 L126.95,445.13 L128.52,444.9 L129.96,445.13 L131.16,445.8 L132.06,446.86 L132.58,448.25 L132.7,449.87 Z" fill="#a894e4" transform="translate(126.6 451.6) scale(1.1) translate(-126.6 -451.6)"/><path d="M132.4,451.6 L131.71,453.33 L130.66,454.95 L129.34,456.34 L127.84,457.4 L126.25,458.07 L124.68,458.3 L123.24,458.07 L122.04,457.4 L121.14,456.34 L120.62,454.95 L120.5,453.33 L120.8,451.6 L121.49,449.87 L122.54,448.25 L123.86,446.86 L125.36,445.8 L126.95,445.13 L128.52,444.9 L129.96,445.13 L131.16,445.8 L132.06,446.86 L132.58,448.25 L132.7,449.87 Z" fill="#2a2aa8" transform="translate(126.6 451.6) scale(1) translate(-126.6 -451.6)"/><path d="M132.4,451.6 L131.71,453.33 L130.66,454.95 L129.34,456.34 L127.84,457.4 L126.25,458.07 L124.68,458.3 L123.24,458.07 L122.04,457.4 L121.14,456.34 L120.62,454.95 L120.5,453.33 L120.8,451.6 L121.49,449.87 L122.54,448.25 L123.86,446.86 L125.36,445.8 L126.95,445.13 L128.52,444.9 L129.96,445.13 L131.16,445.8 L132.06,446.86 L132.58,448.25 L132.7,449.87 Z" fill="#1f5cd0" transform="translate(126.6 451.6) scale(0.92) translate(-126.6 -451.6)"/><path d="M132.4,451.6 L131.71,453.33 L130.66,454.95 L129.34,456.34 L127.84,457.4 L126.25,458.07 L124.68,458.3 L123.24,458.07 L122.04,457.4 L121.14,456.34 L120.62,454.95 L120.5,453.33 L120.8,451.6 L121.49,449.87 L122.54,448.25 L123.86,446.86 L125.36,445.8 L126.95,445.13 L128.52,444.9 L129.96,445.13 L131.16,445.8 L132.06,446.86 L132.58,448.25 L132.7,449.87 Z" fill="#16a9b8" transform="translate(126.6 451.6) scale(0.82) translate(-126.6 -451.6)"/><path d="M132.4,451.6 L131.71,453.33 L130.66,454.95 L129.34,456.34 L127.84,457.4 L126.25,458.07 L124.68,458.3 L123.24,458.07 L122.04,457.4 L121.14,456.34 L120.62,454.95 L120.5,453.33 L120.8,451.6 L121.49,449.87 L122.54,448.25 L123.86,446.86 L125.36,445.8 L126.95,445.13 L128.52,444.9 L129.96,445.13 L131.16,445.8 L132.06,446.86 L132.58,448.25 L132.7,449.87 Z" fill="#3cc43c" transform="translate(126.6 451.6) scale(0.66) translate(-126.6 -451.6)"/><path d="M132.4,451.6 L131.71,453.33 L130.66,454.95 L129.34,456.34 L127.84,457.4 L126.25,458.07 L124.68,458.3 L123.24,458.07 L122.04,457.4 L121.14,456.34 L120.62,454.95 L120.5,453.33 L120.8,451.6 L121.49,449.87 L122.54,448.25 L123.86,446.86 L125.36,445.8 L126.95,445.13 L128.52,444.9 L129.96,445.13 L131.16,445.8 L132.06,446.86 L132.58,448.25 L132.7,449.87 Z" fill="#d8e02a" transform="translate(126.6 451.6) scale(0.32) translate(-126.6 -451.6)"/><path d="M132.4,451.6 L131.71,453.33 L130.66,454.95 L129.34,456.34 L127.84,457.4 L126.25,458.07 L124.68,458.3 L123.24,458.07 L122.04,457.4 L121.14,456.34 L120.62,454.95 L120.5,453.33 L120.8,451.6 L121.49,449.87 L122.54,448.25 L123.86,446.86 L125.36,445.8 L126.95,445.13 L128.52,444.9 L129.96,445.13 L131.16,445.8 L132.06,446.86 L132.58,448.25 L132.7,449.87 Z" fill="#e8421c" transform="translate(126.6 451.6) scale(0.16) translate(-126.6 -451.6)"/></g>
<g filter="url(#bl)"><path d="M143.9,451.2 L143.21,452.93 L142.19,454.55 L140.9,455.94 L139.44,457 L137.89,457.67 L136.38,457.9 L134.99,457.67 L133.84,457 L132.98,455.94 L132.49,454.55 L132.39,452.93 L132.7,451.2 L133.39,449.47 L134.41,447.85 L135.7,446.46 L137.16,445.4 L138.71,444.73 L140.22,444.5 L141.61,444.73 L142.76,445.4 L143.62,446.46 L144.11,447.85 L144.21,449.47 Z" fill="#a894e4" transform="translate(138.3 451.2) scale(1.1) translate(-138.3 -451.2)"/><path d="M143.9,451.2 L143.21,452.93 L142.19,454.55 L140.9,455.94 L139.44,457 L137.89,457.67 L136.38,457.9 L134.99,457.67 L133.84,457 L132.98,455.94 L132.49,454.55 L132.39,452.93 L132.7,451.2 L133.39,449.47 L134.41,447.85 L135.7,446.46 L137.16,445.4 L138.71,444.73 L140.22,444.5 L141.61,444.73 L142.76,445.4 L143.62,446.46 L144.11,447.85 L144.21,449.47 Z" fill="#2a2aa8" transform="translate(138.3 451.2) scale(1) translate(-138.3 -451.2)"/><path d="M143.9,451.2 L143.21,452.93 L142.19,454.55 L140.9,455.94 L139.44,457 L137.89,457.67 L136.38,457.9 L134.99,457.67 L133.84,457 L132.98,455.94 L132.49,454.55 L132.39,452.93 L132.7,451.2 L133.39,449.47 L134.41,447.85 L135.7,446.46 L137.16,445.4 L138.71,444.73 L140.22,444.5 L141.61,444.73 L142.76,445.4 L143.62,446.46 L144.11,447.85 L144.21,449.47 Z" fill="#1f5cd0" transform="translate(138.3 451.2) scale(0.92) translate(-138.3 -451.2)"/><path d="M143.9,451.2 L143.21,452.93 L142.19,454.55 L140.9,455.94 L139.44,457 L137.89,457.67 L136.38,457.9 L134.99,457.67 L133.84,457 L132.98,455.94 L132.49,454.55 L132.39,452.93 L132.7,451.2 L133.39,449.47 L134.41,447.85 L135.7,446.46 L137.16,445.4 L138.71,444.73 L140.22,444.5 L141.61,444.73 L142.76,445.4 L143.62,446.46 L144.11,447.85 L144.21,449.47 Z" fill="#16a9b8" transform="translate(138.3 451.2) scale(0.82) translate(-138.3 -451.2)"/><path d="M143.9,451.2 L143.21,452.93 L142.19,454.55 L140.9,455.94 L139.44,457 L137.89,457.67 L136.38,457.9 L134.99,457.67 L133.84,457 L132.98,455.94 L132.49,454.55 L132.39,452.93 L132.7,451.2 L133.39,449.47 L134.41,447.85 L135.7,446.46 L137.16,445.4 L138.71,444.73 L140.22,444.5 L141.61,444.73 L142.76,445.4 L143.62,446.46 L144.11,447.85 L144.21,449.47 Z" fill="#3cc43c" transform="translate(138.3 451.2) scale(0.66) translate(-138.3 -451.2)"/><path d="M143.9,451.2 L143.21,452.93 L142.19,454.55 L140.9,455.94 L139.44,457 L137.89,457.67 L136.38,457.9 L134.99,457.67 L133.84,457 L132.98,455.94 L132.49,454.55 L132.39,452.93 L132.7,451.2 L133.39,449.47 L134.41,447.85 L135.7,446.46 L137.16,445.4 L138.71,444.73 L140.22,444.5 L141.61,444.73 L142.76,445.4 L143.62,446.46 L144.11,447.85 L144.21,449.47 Z" fill="#d8e02a" transform="translate(138.3 451.2) scale(0.25) translate(-138.3 -451.2)"/></g>
<g filter="url(#bl2)"><path d="M212.55,454.2 L211.23,456.66 L209.15,458.95 L206.44,460.92 L203.31,462.43 L199.95,463.38 L196.59,463.7 L193.47,463.38 L190.81,462.43 L188.77,460.92 L187.5,458.95 L187.08,456.66 L187.55,454.2 L188.87,451.74 L190.95,449.45 L193.66,447.48 L196.79,445.97 L200.15,445.02 L203.51,444.7 L206.63,445.02 L209.29,445.97 L211.33,447.48 L212.6,449.45 L213.02,451.74 Z" fill="#d2caf4" transform="translate(200.05 454.2) scale(1) translate(-200.05 -454.2)"/></g>
<g filter="url(#bl)"><path d="M200,452.2 L199.31,453.93 L198.26,455.55 L196.94,456.94 L195.44,458 L193.85,458.67 L192.28,458.9 L190.84,458.67 L189.64,458 L188.74,456.94 L188.22,455.55 L188.1,453.93 L188.4,452.2 L189.09,450.47 L190.14,448.85 L191.46,447.46 L192.96,446.4 L194.55,445.73 L196.12,445.5 L197.56,445.73 L198.76,446.4 L199.66,447.46 L200.18,448.85 L200.3,450.47 Z" fill="#a894e4" transform="translate(194.2 452.2) scale(1.1) translate(-194.2 -452.2)"/><path d="M200,452.2 L199.31,453.93 L198.26,455.55 L196.94,456.94 L195.44,458 L193.85,458.67 L192.28,458.9 L190.84,458.67 L189.64,458 L188.74,456.94 L188.22,455.55 L188.1,453.93 L188.4,452.2 L189.09,450.47 L190.14,448.85 L191.46,447.46 L192.96,446.4 L194.55,445.73 L196.12,445.5 L197.56,445.73 L198.76,446.4 L199.66,447.46 L200.18,448.85 L200.3,450.47 Z" fill="#2a2aa8" transform="translate(194.2 452.2) scale(1) translate(-194.2 -452.2)"/><path d="M200,452.2 L199.31,453.93 L198.26,455.55 L196.94,456.94 L195.44,458 L193.85,458.67 L192.28,458.9 L190.84,458.67 L189.64,458 L188.74,456.94 L188.22,455.55 L188.1,453.93 L188.4,452.2 L189.09,450.47 L190.14,448.85 L191.46,447.46 L192.96,446.4 L194.55,445.73 L196.12,445.5 L197.56,445.73 L198.76,446.4 L199.66,447.46 L200.18,448.85 L200.3,450.47 Z" fill="#1f5cd0" transform="translate(194.2 452.2) scale(0.92) translate(-194.2 -452.2)"/><path d="M200,452.2 L199.31,453.93 L198.26,455.55 L196.94,456.94 L195.44,458 L193.85,458.67 L192.28,458.9 L190.84,458.67 L189.64,458 L188.74,456.94 L188.22,455.55 L188.1,453.93 L188.4,452.2 L189.09,450.47 L190.14,448.85 L191.46,447.46 L192.96,446.4 L194.55,445.73 L196.12,445.5 L197.56,445.73 L198.76,446.4 L199.66,447.46 L200.18,448.85 L200.3,450.47 Z" fill="#16a9b8" transform="translate(194.2 452.2) scale(0.82) translate(-194.2 -452.2)"/><path d="M200,452.2 L199.31,453.93 L198.26,455.55 L196.94,456.94 L195.44,458 L193.85,458.67 L192.28,458.9 L190.84,458.67 L189.64,458 L188.74,456.94 L188.22,455.55 L188.1,453.93 L188.4,452.2 L189.09,450.47 L190.14,448.85 L191.46,447.46 L192.96,446.4 L194.55,445.73 L196.12,445.5 L197.56,445.73 L198.76,446.4 L199.66,447.46 L200.18,448.85 L200.3,450.47 Z" fill="#3cc43c" transform="translate(194.2 452.2) scale(0.66) translate(-194.2 -452.2)"/><path d="M200,452.2 L199.31,453.93 L198.26,455.55 L196.94,456.94 L195.44,458 L193.85,458.67 L192.28,458.9 L190.84,458.67 L189.64,458 L188.74,456.94 L188.22,455.55 L188.1,453.93 L188.4,452.2 L189.09,450.47 L190.14,448.85 L191.46,447.46 L192.96,446.4 L194.55,445.73 L196.12,445.5 L197.56,445.73 L198.76,446.4 L199.66,447.46 L200.18,448.85 L200.3,450.47 Z" fill="#d8e02a" transform="translate(194.2 452.2) scale(0.32) translate(-194.2 -452.2)"/><path d="M200,452.2 L199.31,453.93 L198.26,455.55 L196.94,456.94 L195.44,458 L193.85,458.67 L192.28,458.9 L190.84,458.67 L189.64,458 L188.74,456.94 L188.22,455.55 L188.1,453.93 L188.4,452.2 L189.09,450.47 L190.14,448.85 L191.46,447.46 L192.96,446.4 L194.55,445.73 L196.12,445.5 L197.56,445.73 L198.76,446.4 L199.66,447.46 L200.18,448.85 L200.3,450.47 Z" fill="#e8421c" transform="translate(194.2 452.2) scale(0.16) translate(-194.2 -452.2)"/></g>
<g filter="url(#bl)"><path d="M211.5,452.2 L210.81,453.93 L209.79,455.55 L208.5,456.94 L207.04,458 L205.49,458.67 L203.98,458.9 L202.59,458.67 L201.44,458 L200.58,456.94 L200.09,455.55 L199.99,453.93 L200.3,452.2 L200.99,450.47 L202.01,448.85 L203.3,447.46 L204.76,446.4 L206.31,445.73 L207.82,445.5 L209.21,445.73 L210.36,446.4 L211.22,447.46 L211.71,448.85 L211.81,450.47 Z" fill="#a894e4" transform="translate(205.9 452.2) scale(1.1) translate(-205.9 -452.2)"/><path d="M211.5,452.2 L210.81,453.93 L209.79,455.55 L208.5,456.94 L207.04,458 L205.49,458.67 L203.98,458.9 L202.59,458.67 L201.44,458 L200.58,456.94 L200.09,455.55 L199.99,453.93 L200.3,452.2 L200.99,450.47 L202.01,448.85 L203.3,447.46 L204.76,446.4 L206.31,445.73 L207.82,445.5 L209.21,445.73 L210.36,446.4 L211.22,447.46 L211.71,448.85 L211.81,450.47 Z" fill="#2a2aa8" transform="translate(205.9 452.2) scale(1) translate(-205.9 -452.2)"/><path d="M211.5,452.2 L210.81,453.93 L209.79,455.55 L208.5,456.94 L207.04,458 L205.49,458.67 L203.98,458.9 L202.59,458.67 L201.44,458 L200.58,456.94 L200.09,455.55 L199.99,453.93 L200.3,452.2 L200.99,450.47 L202.01,448.85 L203.3,447.46 L204.76,446.4 L206.31,445.73 L207.82,445.5 L209.21,445.73 L210.36,446.4 L211.22,447.46 L211.71,448.85 L211.81,450.47 Z" fill="#1f5cd0" transform="translate(205.9 452.2) scale(0.92) translate(-205.9 -452.2)"/><path d="M211.5,452.2 L210.81,453.93 L209.79,455.55 L208.5,456.94 L207.04,458 L205.49,458.67 L203.98,458.9 L202.59,458.67 L201.44,458 L200.58,456.94 L200.09,455.55 L199.99,453.93 L200.3,452.2 L200.99,450.47 L202.01,448.85 L203.3,447.46 L204.76,446.4 L206.31,445.73 L207.82,445.5 L209.21,445.73 L210.36,446.4 L211.22,447.46 L211.71,448.85 L211.81,450.47 Z" fill="#16a9b8" transform="translate(205.9 452.2) scale(0.82) translate(-205.9 -452.2)"/><path d="M211.5,452.2 L210.81,453.93 L209.79,455.55 L208.5,456.94 L207.04,458 L205.49,458.67 L203.98,458.9 L202.59,458.67 L201.44,458 L200.58,456.94 L200.09,455.55 L199.99,453.93 L200.3,452.2 L200.99,450.47 L202.01,448.85 L203.3,447.46 L204.76,446.4 L206.31,445.73 L207.82,445.5 L209.21,445.73 L210.36,446.4 L211.22,447.46 L211.71,448.85 L211.81,450.47 Z" fill="#3cc43c" transform="translate(205.9 452.2) scale(0.66) translate(-205.9 -452.2)"/><path d="M211.5,452.2 L210.81,453.93 L209.79,455.55 L208.5,456.94 L207.04,458 L205.49,458.67 L203.98,458.9 L202.59,458.67 L201.44,458 L200.58,456.94 L200.09,455.55 L199.99,453.93 L200.3,452.2 L200.99,450.47 L202.01,448.85 L203.3,447.46 L204.76,446.4 L206.31,445.73 L207.82,445.5 L209.21,445.73 L210.36,446.4 L211.22,447.46 L211.71,448.85 L211.81,450.47 Z" fill="#d8e02a" transform="translate(205.9 452.2) scale(0.28) translate(-205.9 -452.2)"/></g>
<polygon points="61,437.2 85.8,441.7 69.3,475.3 45.1,468.3" fill="none" stroke="#111" stroke-width="1" stroke-linejoin="miter"/>
<line x1="73" y1="439.5" x2="59.3" y2="471.8" stroke="#111" stroke-width="1.6"/>
<text x="58.6" y="445.3" font-size="6.4" fill="#222" stroke="#222" stroke-width="0.15">40.6</text>
<text x="62.4" y="470" font-size="6.4" fill="#222" stroke="#222" stroke-width="0.15">57.7</text>
<text x="34.5" y="489.9" font-size="6.5" fill="#222" stroke="#222" stroke-width="0.15">OCI-Ly10 Parental</text>
<polygon points="127.8,437.2 152.6,441.7 136.1,475.3 111.9,468.3" fill="none" stroke="#111" stroke-width="1" stroke-linejoin="miter"/>
<line x1="139.8" y1="439.5" x2="126.1" y2="471.8" stroke="#111" stroke-width="1.6"/>
<text x="127.8" y="444.6" font-size="6.4" fill="#222" stroke="#222" stroke-width="0.15">1.0</text>
<text x="128" y="469.8" font-size="6.4" fill="#222" stroke="#222" stroke-width="0.15">27.7</text>
<text x="101.3" y="489.9" font-size="6.5" fill="#222" stroke="#222" stroke-width="0.15">OCI-Ly10 IBR#9</text>
<polygon points="194.6,437.2 219.4,441.7 202.9,475.3 178.7,468.3" fill="none" stroke="#111" stroke-width="1" stroke-linejoin="miter"/>
<line x1="206.6" y1="439.5" x2="192.9" y2="471.8" stroke="#111" stroke-width="1.6"/>
<text x="194.6" y="445.3" font-size="6.4" fill="#222" stroke="#222" stroke-width="0.15">61.3</text>
<text x="194.8" y="471.8" font-size="6.4" fill="#222" stroke="#222" stroke-width="0.15">36.7</text>
<text x="168.1" y="489.9" font-size="6.5" fill="#222" stroke="#222" stroke-width="0.15">OCI-Ly10 IBR#10</text>
<text x="24.4" y="429.3" font-size="7.2" text-anchor="middle" fill="#222" stroke="#222" stroke-width="0.15" textLength="46.5" lengthAdjust="spacingAndGlyphs" transform="rotate(-90 24.4 429.3)">JC-1 Aggregate</text>
<text x="104" y="507.6" font-size="8" fill="#222" stroke="#222" stroke-width="0.15" textLength="45.6" lengthAdjust="spacingAndGlyphs">JC-1 Monomer</text>
<line x1="281.6" y1="443.48" x2="281.6" y2="446.44" stroke="#444" stroke-width="0.8"/>
<line x1="280" y1="443.48" x2="283.2" y2="443.48" stroke="#444" stroke-width="0.8"/>
<rect x="278.3" y="446.44" width="6.6" height="7.75" fill="#36a935" />
<line x1="292.7" y1="434.04" x2="292.7" y2="434.74" stroke="#444" stroke-width="0.8"/>
<line x1="291.1" y1="434.04" x2="294.3" y2="434.04" stroke="#444" stroke-width="0.8"/>
<rect x="289.2" y="434.74" width="7" height="19.46" fill="#cd0a2c" />
<text x="292.7" y="433.8" font-size="6.6" text-anchor="middle" fill="#222" stroke="#222" stroke-width="0.15">*</text>
<line x1="303.9" y1="414.44" x2="303.9" y2="415.43" stroke="#444" stroke-width="0.8"/>
<line x1="302.3" y1="414.44" x2="305.5" y2="414.44" stroke="#444" stroke-width="0.8"/>
<rect x="300.3" y="415.43" width="7.2" height="38.77" fill="#1b4a85" />
<text x="303.9" y="414.1" font-size="6.6" text-anchor="middle" fill="#222" stroke="#222" stroke-width="0.15">**</text>
<line x1="274.1" y1="454.2" x2="311.5" y2="454.2" stroke="#222" stroke-width="1.1"/>
<line x1="281.6" y1="454.2" x2="281.6" y2="456.4" stroke="#222" stroke-width="0.8"/>
<line x1="292.7" y1="454.2" x2="292.7" y2="456.4" stroke="#222" stroke-width="0.8"/>
<line x1="303.9" y1="454.2" x2="303.9" y2="456.4" stroke="#222" stroke-width="0.8"/>
<line x1="274.6" y1="397.3" x2="274.6" y2="454.7" stroke="#222" stroke-width="1.1"/>
<line x1="272.1" y1="454.2" x2="274.6" y2="454.2" stroke="#222" stroke-width="0.9"/>
<text x="268.8" y="456.65" font-size="6.8" text-anchor="end" fill="#222" stroke="#222" stroke-width="0.15">0</text>
<line x1="272.1" y1="440.1" x2="274.6" y2="440.1" stroke="#222" stroke-width="0.9"/>
<text x="268.8" y="442.55" font-size="6.8" text-anchor="end" fill="#222" stroke="#222" stroke-width="0.15">1</text>
<line x1="272.1" y1="426" x2="274.6" y2="426" stroke="#222" stroke-width="0.9"/>
<text x="268.8" y="428.45" font-size="6.8" text-anchor="end" fill="#222" stroke="#222" stroke-width="0.15">2</text>
<line x1="272.1" y1="411.9" x2="274.6" y2="411.9" stroke="#222" stroke-width="0.9"/>
<text x="268.8" y="414.35" font-size="6.8" text-anchor="end" fill="#222" stroke="#222" stroke-width="0.15">3</text>
<line x1="272.1" y1="397.8" x2="274.6" y2="397.8" stroke="#222" stroke-width="0.9"/>
<text x="268.8" y="400.25" font-size="6.8" text-anchor="end" fill="#222" stroke="#222" stroke-width="0.15">4</text>
<line x1="338.6" y1="441.23" x2="338.6" y2="445.03" stroke="#444" stroke-width="0.8"/>
<line x1="337" y1="441.23" x2="340.2" y2="441.23" stroke="#444" stroke-width="0.8"/>
<rect x="335.4" y="445.03" width="6.4" height="9.17" fill="#36a935" />
<line x1="349.8" y1="411.76" x2="349.8" y2="418.25" stroke="#444" stroke-width="0.8"/>
<line x1="348.2" y1="411.76" x2="351.4" y2="411.76" stroke="#444" stroke-width="0.8"/>
<rect x="346.5" y="418.25" width="6.6" height="35.95" fill="#f38e0e" />
<text x="349.8" y="412.6" font-size="6.6" text-anchor="middle" fill="#222" stroke="#222" stroke-width="0.15">***</text>
<line x1="361" y1="428.12" x2="361" y2="431.64" stroke="#444" stroke-width="0.8"/>
<line x1="359.4" y1="428.12" x2="362.6" y2="428.12" stroke="#444" stroke-width="0.8"/>
<rect x="357.7" y="431.64" width="6.6" height="22.56" fill="#9086c8" />
<text x="361" y="429.2" font-size="6.6" text-anchor="middle" fill="#222" stroke="#222" stroke-width="0.15">**</text>
<line x1="331" y1="454.2" x2="367.7" y2="454.2" stroke="#222" stroke-width="1.1"/>
<line x1="338.6" y1="454.2" x2="338.6" y2="456.4" stroke="#222" stroke-width="0.8"/>
<line x1="349.8" y1="454.2" x2="349.8" y2="456.4" stroke="#222" stroke-width="0.8"/>
<line x1="361" y1="454.2" x2="361" y2="456.4" stroke="#222" stroke-width="0.8"/>
<line x1="331.5" y1="397.3" x2="331.5" y2="454.7" stroke="#222" stroke-width="1.1"/>
<line x1="329" y1="454.2" x2="331.5" y2="454.2" stroke="#222" stroke-width="0.9"/>
<text x="325.7" y="456.65" font-size="6.8" text-anchor="end" fill="#222" stroke="#222" stroke-width="0.15">0</text>
<line x1="329" y1="440.1" x2="331.5" y2="440.1" stroke="#222" stroke-width="0.9"/>
<text x="325.7" y="442.55" font-size="6.8" text-anchor="end" fill="#222" stroke="#222" stroke-width="0.15">1</text>
<line x1="329" y1="426" x2="331.5" y2="426" stroke="#222" stroke-width="0.9"/>
<text x="325.7" y="428.45" font-size="6.8" text-anchor="end" fill="#222" stroke="#222" stroke-width="0.15">2</text>
<line x1="329" y1="411.9" x2="331.5" y2="411.9" stroke="#222" stroke-width="0.9"/>
<text x="325.7" y="414.35" font-size="6.8" text-anchor="end" fill="#222" stroke="#222" stroke-width="0.15">3</text>
<line x1="329" y1="397.8" x2="331.5" y2="397.8" stroke="#222" stroke-width="0.9"/>
<text x="325.7" y="400.25" font-size="6.8" text-anchor="end" fill="#222" stroke="#222" stroke-width="0.15">4</text>
<text x="281.1" y="389.6" font-size="8.6" fill="#222" stroke="#222" stroke-width="0.15" textLength="23.8" lengthAdjust="spacingAndGlyphs">TMD8</text>
<text x="331.5" y="389.6" font-size="8.6" fill="#222" stroke="#222" stroke-width="0.15" textLength="36.2" lengthAdjust="spacingAndGlyphs">OCI-Ly10</text>
<text x="248.4" y="424.6" font-size="8.8" text-anchor="middle" fill="#222" stroke="#222" stroke-width="0.15" textLength="56.3" lengthAdjust="spacingAndGlyphs" transform="rotate(-90 248.4 424.6)">Ratio of aggregate</text>
<text x="258.6" y="424.6" font-size="8.8" text-anchor="middle" fill="#222" stroke="#222" stroke-width="0.15" textLength="38" lengthAdjust="spacingAndGlyphs" transform="rotate(-90 258.6 424.6)">to monomer</text>
<text x="284.6" y="464.3" font-size="6.6" text-anchor="end" fill="#222" stroke="#222" stroke-width="0.15" textLength="9.5" lengthAdjust="spacingAndGlyphs" transform="rotate(-45 284.6 464.3)">Par</text>
<text x="296" y="464.3" font-size="6.6" text-anchor="end" fill="#222" stroke="#222" stroke-width="0.15" textLength="18.5" lengthAdjust="spacingAndGlyphs" transform="rotate(-45 296 464.3)">IBR#3</text>
<text x="307.4" y="464.3" font-size="6.6" text-anchor="end" fill="#222" stroke="#222" stroke-width="0.15" textLength="18.5" lengthAdjust="spacingAndGlyphs" transform="rotate(-45 307.4 464.3)">IBR#6</text>
<text x="341.6" y="464.3" font-size="6.6" text-anchor="end" fill="#222" stroke="#222" stroke-width="0.15" textLength="9.5" lengthAdjust="spacingAndGlyphs" transform="rotate(-45 341.6 464.3)">Par</text>
<text x="352.8" y="464.3" font-size="6.6" text-anchor="end" fill="#222" stroke="#222" stroke-width="0.15" textLength="18.5" lengthAdjust="spacingAndGlyphs" transform="rotate(-45 352.8 464.3)">IBR#9</text>
<text x="363.8" y="464.3" font-size="6.6" text-anchor="end" fill="#222" stroke="#222" stroke-width="0.15" textLength="22" lengthAdjust="spacingAndGlyphs" transform="rotate(-45 363.8 464.3)">IBR#10</text>
<text x="383.6" y="355.8" font-size="11.6" font-weight="bold" fill="#111" stroke="#111" stroke-width="0.45" textLength="8.1" lengthAdjust="spacingAndGlyphs">D</text>
<text x="450.4" y="375.8" font-size="6.2" fill="#222" stroke="#222" stroke-width="0.15" textLength="14.6" lengthAdjust="spacingAndGlyphs">TMD8</text>
<text x="484.2" y="375.8" font-size="6.2" fill="#222" stroke="#222" stroke-width="0.15" textLength="23.1" lengthAdjust="spacingAndGlyphs">OCI-Ly10</text>
<line x1="440.2" y1="377.6" x2="473.5" y2="377.6" stroke="#333" stroke-width="0.9"/>
<line x1="478.6" y1="377.6" x2="510.4" y2="377.6" stroke="#333" stroke-width="0.9"/>
<text x="442.8" y="402.7" font-size="6.2" fill="#222" stroke="#222" stroke-width="0.15" textLength="10" lengthAdjust="spacingAndGlyphs" transform="rotate(-90 442.8 402.7)">Par</text>
<text x="455.9" y="402.7" font-size="6.2" fill="#222" stroke="#222" stroke-width="0.15" textLength="18.5" lengthAdjust="spacingAndGlyphs" transform="rotate(-90 455.9 402.7)">IBR#3</text>
<text x="468.9" y="402.7" font-size="6.2" fill="#222" stroke="#222" stroke-width="0.15" textLength="18.5" lengthAdjust="spacingAndGlyphs" transform="rotate(-90 468.9 402.7)">IBR#6</text>
<text x="482" y="402.7" font-size="6.2" fill="#222" stroke="#222" stroke-width="0.15" textLength="10" lengthAdjust="spacingAndGlyphs" transform="rotate(-90 482 402.7)">Par</text>
<text x="494.8" y="402.7" font-size="6.2" fill="#222" stroke="#222" stroke-width="0.15" textLength="18.5" lengthAdjust="spacingAndGlyphs" transform="rotate(-90 494.8 402.7)">IBR#9</text>
<text x="507.4" y="402.7" font-size="6.2" fill="#222" stroke="#222" stroke-width="0.15" textLength="22.3" lengthAdjust="spacingAndGlyphs" transform="rotate(-90 507.4 402.7)">IBR#10</text>
<rect x="431.9" y="405.9" width="39.7" height="11.7" fill="url(#gPD)" stroke="#151515" stroke-width="1.1" />
<rect x="473.8" y="405.9" width="38.5" height="11.7" fill="#f2f2f2" stroke="#151515" stroke-width="1.1" />
<rect x="435.32" y="412.02" width="10.35" height="2.76" rx="1.38" fill="#cbcbcb" filter="url(#bl)"/>
<rect x="445.26" y="411.21" width="12.07" height="4.37" rx="2.18" fill="#232323" filter="url(#bl)"/>
<rect x="457.41" y="410.52" width="14.37" height="5.75" rx="2.88" fill="#111111" filter="url(#bl)"/>
<rect x="475.4" y="410.34" width="9.2" height="2.53" rx="1.26" fill="#c2c2c2" filter="url(#bl)"/>
<rect x="487.25" y="411.11" width="11.5" height="2.99" rx="1.49" fill="#333333" filter="url(#bl)"/>
<rect x="499.85" y="410.9" width="11.5" height="2.99" rx="1.49" fill="#333333" filter="url(#bl)"/>
<rect x="431.9" y="420.8" width="39.7" height="13.9" fill="url(#gHS)" stroke="#151515" stroke-width="1.1" />
<rect x="473.8" y="420.8" width="38.5" height="13.9" fill="#f0f0f0" stroke="#151515" stroke-width="1.1" />
<rect x="433.25" y="427.76" width="11.5" height="3.68" rx="1.84" fill="#1c1c1c" filter="url(#bl)"/>
<rect x="445.8" y="427.7" width="9.2" height="2.99" rx="1.49" fill="#333333" filter="url(#bl)"/>
<rect x="458.65" y="427.76" width="11.5" height="3.68" rx="1.84" fill="#1c1c1c" filter="url(#bl)"/>
<rect x="475.51" y="427.42" width="9.77" height="2.76" rx="1.38" fill="#333333" filter="url(#bl)"/>
<rect x="486.55" y="427.99" width="11.5" height="3.22" rx="1.61" fill="#272727" filter="url(#bl)"/>
<rect x="499.82" y="428.62" width="10.35" height="2.76" rx="1.38" fill="#6c6c6c" filter="url(#bl)"/>
<rect x="431.3" y="440.3" width="80.9" height="11.5" fill="#f2f2f2" stroke="#151515" stroke-width="1.1" />
<rect x="435.26" y="443.62" width="12.07" height="4.37" rx="2.18" fill="#151515" filter="url(#bl)"/>
<rect x="448.8" y="444.74" width="9.2" height="2.53" rx="1.26" fill="#c2c2c2" filter="url(#bl)"/>
<rect x="460.9" y="444.74" width="9.2" height="2.53" rx="1.26" fill="#c7c7c7" filter="url(#bl)"/>
<rect x="473.56" y="443.62" width="12.07" height="4.37" rx="2.18" fill="#111111" filter="url(#bl)"/>
<rect x="486.43" y="444.31" width="10.35" height="2.99" rx="1.49" fill="#9e9e9e" filter="url(#bl)"/>
<rect x="498.25" y="443.42" width="11.5" height="4.37" rx="2.18" fill="#232323" filter="url(#bl)"/>
<rect x="431.3" y="453.8" width="80.9" height="11.3" fill="#efefef" stroke="#151515" stroke-width="1.1" />
<rect x="435.26" y="457.12" width="12.07" height="4.37" rx="2.18" fill="#171717" filter="url(#bl)"/>
<rect x="447.66" y="457.12" width="12.07" height="4.37" rx="2.18" fill="#171717" filter="url(#bl)"/>
<rect x="460.54" y="457.46" width="10.92" height="3.68" rx="1.84" fill="#232323" filter="url(#bl)"/>
<rect x="474.11" y="458" width="9.77" height="2.99" rx="1.49" fill="#acacac" filter="url(#bl)"/>
<rect x="485.65" y="457.35" width="11.5" height="3.91" rx="1.95" fill="#1c1c1c" filter="url(#bl)"/>
<rect x="497.96" y="456.7" width="12.07" height="4.6" rx="2.3" fill="#111111" filter="url(#bl)"/>
<rect x="431.3" y="467.6" width="80.9" height="10.7" fill="#f6f6f6" stroke="#151515" stroke-width="1.1" />
<rect x="436.12" y="472.31" width="10.35" height="2.17" rx="1.09" fill="#cbcbcb" filter="url(#bl)"/>
<rect x="448.72" y="472.34" width="10.35" height="2.12" rx="1.06" fill="#d2d2d2" filter="url(#bl)"/>
<rect x="461.22" y="472.34" width="10.35" height="2.12" rx="1.06" fill="#d2d2d2" filter="url(#bl)"/>
<rect x="473.62" y="472.28" width="10.35" height="2.24" rx="1.12" fill="#c2c2c2" filter="url(#bl)"/>
<rect x="486.02" y="472.16" width="10.35" height="2.48" rx="1.24" fill="#a5a5a5" filter="url(#bl)"/>
<rect x="499.02" y="471.7" width="10.35" height="3.4" rx="1.7" fill="#333333" filter="url(#bl)"/>
<text x="427.6" y="414.2" font-size="6.5" text-anchor="end" fill="#222" stroke="#222" stroke-width="0.15" textLength="15.3" lengthAdjust="spacingAndGlyphs">PDP1</text>
<text x="427.6" y="432.2" font-size="6.5" text-anchor="end" fill="#222" stroke="#222" stroke-width="0.15" textLength="19.2" lengthAdjust="spacingAndGlyphs">HSP90</text>
<text x="427.6" y="448.6" font-size="6.5" text-anchor="end" fill="#222" stroke="#222" stroke-width="0.15" textLength="19.7" lengthAdjust="spacingAndGlyphs">p-PDH</text>
<text x="427.6" y="461" font-size="6.5" text-anchor="end" fill="#222" stroke="#222" stroke-width="0.15" textLength="13" lengthAdjust="spacingAndGlyphs">PDH</text>
<text x="427.6" y="475.5" font-size="6.5" text-anchor="end" fill="#222" stroke="#222" stroke-width="0.15" textLength="22.1" lengthAdjust="spacingAndGlyphs">Vinculin</text>
<text x="427.6" y="488.6" font-size="6.5" text-anchor="end" fill="#222" stroke="#222" stroke-width="0.15" textLength="32.5" lengthAdjust="spacingAndGlyphs">p-PDH/PDH</text>
<text x="440.1" y="488.6" font-size="6.6" text-anchor="middle" fill="#222" stroke="#222" stroke-width="0.15" textLength="8.4" lengthAdjust="spacingAndGlyphs">1.0</text>
<text x="452.7" y="488.6" font-size="6.6" text-anchor="middle" fill="#222" stroke="#222" stroke-width="0.15" textLength="8.4" lengthAdjust="spacingAndGlyphs">0.4</text>
<text x="464.5" y="488.6" font-size="6.6" text-anchor="middle" fill="#222" stroke="#222" stroke-width="0.15" textLength="8.4" lengthAdjust="spacingAndGlyphs">0.4</text>
<text x="477.9" y="488.6" font-size="6.6" text-anchor="middle" fill="#222" stroke="#222" stroke-width="0.15" textLength="8.4" lengthAdjust="spacingAndGlyphs">2.7</text>
<text x="491.7" y="488.6" font-size="6.6" text-anchor="middle" fill="#222" stroke="#222" stroke-width="0.15" textLength="8.4" lengthAdjust="spacingAndGlyphs">0.6</text>
<text x="502.6" y="488.6" font-size="6.6" text-anchor="middle" fill="#222" stroke="#222" stroke-width="0.15" textLength="8.4" lengthAdjust="spacingAndGlyphs">0.7</text>
<text x="8.0" y="522.8" font-size="11.6" font-weight="bold" fill="#111" stroke="#111" stroke-width="0.45" textLength="6.1" lengthAdjust="spacingAndGlyphs">E</text>
<rect x="32.5" y="529.4" width="60" height="59.2" fill="none" stroke="#c2c2c2" stroke-width="0.7" />
<line x1="32.5" y1="529.4" x2="32.5" y2="588.6" stroke="#888" stroke-width="0.6"/>
<line x1="32.5" y1="588.6" x2="92.5" y2="588.6" stroke="#555" stroke-width="0.8"/>
<line x1="31.2" y1="588.6" x2="33.5" y2="588.6" stroke="#1a1a1a" stroke-width="1.3"/>
<line x1="31.8" y1="585.64" x2="33" y2="585.64" stroke="#777" stroke-width="0.6"/>
<line x1="31.8" y1="582.68" x2="33" y2="582.68" stroke="#777" stroke-width="0.6"/>
<line x1="31.8" y1="579.72" x2="33" y2="579.72" stroke="#777" stroke-width="0.6"/>
<line x1="31.2" y1="576.76" x2="33.5" y2="576.76" stroke="#1a1a1a" stroke-width="1.3"/>
<line x1="31.8" y1="573.8" x2="33" y2="573.8" stroke="#777" stroke-width="0.6"/>
<line x1="31.8" y1="570.84" x2="33" y2="570.84" stroke="#777" stroke-width="0.6"/>
<line x1="31.8" y1="567.88" x2="33" y2="567.88" stroke="#777" stroke-width="0.6"/>
<line x1="31.2" y1="564.92" x2="33.5" y2="564.92" stroke="#1a1a1a" stroke-width="1.3"/>
<line x1="31.8" y1="561.96" x2="33" y2="561.96" stroke="#777" stroke-width="0.6"/>
<line x1="31.8" y1="559" x2="33" y2="559" stroke="#777" stroke-width="0.6"/>
<line x1="31.8" y1="556.04" x2="33" y2="556.04" stroke="#777" stroke-width="0.6"/>
<line x1="31.2" y1="553.08" x2="33.5" y2="553.08" stroke="#1a1a1a" stroke-width="1.3"/>
<line x1="31.8" y1="550.12" x2="33" y2="550.12" stroke="#777" stroke-width="0.6"/>
<line x1="31.8" y1="547.16" x2="33" y2="547.16" stroke="#777" stroke-width="0.6"/>
<line x1="31.8" y1="544.2" x2="33" y2="544.2" stroke="#777" stroke-width="0.6"/>
<line x1="31.2" y1="541.24" x2="33.5" y2="541.24" stroke="#1a1a1a" stroke-width="1.3"/>
<line x1="31.8" y1="538.28" x2="33" y2="538.28" stroke="#777" stroke-width="0.6"/>
<line x1="31.8" y1="535.32" x2="33" y2="535.32" stroke="#777" stroke-width="0.6"/>
<line x1="31.8" y1="532.36" x2="33" y2="532.36" stroke="#777" stroke-width="0.6"/>
<line x1="31.2" y1="529.4" x2="33.5" y2="529.4" stroke="#1a1a1a" stroke-width="1.3"/>
<line x1="32.5" y1="587.8" x2="32.5" y2="589.9" stroke="#1a1a1a" stroke-width="1.3"/>
<line x1="35.5" y1="588.3" x2="35.5" y2="589.4" stroke="#777" stroke-width="0.6"/>
<line x1="38.5" y1="588.3" x2="38.5" y2="589.4" stroke="#777" stroke-width="0.6"/>
<line x1="41.5" y1="588.3" x2="41.5" y2="589.4" stroke="#777" stroke-width="0.6"/>
<line x1="44.5" y1="587.8" x2="44.5" y2="589.9" stroke="#1a1a1a" stroke-width="1.3"/>
<line x1="47.5" y1="588.3" x2="47.5" y2="589.4" stroke="#777" stroke-width="0.6"/>
<line x1="50.5" y1="588.3" x2="50.5" y2="589.4" stroke="#777" stroke-width="0.6"/>
<line x1="53.5" y1="588.3" x2="53.5" y2="589.4" stroke="#777" stroke-width="0.6"/>
<line x1="56.5" y1="587.8" x2="56.5" y2="589.9" stroke="#1a1a1a" stroke-width="1.3"/>
<line x1="59.5" y1="588.3" x2="59.5" y2="589.4" stroke="#777" stroke-width="0.6"/>
<line x1="62.5" y1="588.3" x2="62.5" y2="589.4" stroke="#777" stroke-width="0.6"/>
<line x1="65.5" y1="588.3" x2="65.5" y2="589.4" stroke="#777" stroke-width="0.6"/>
<line x1="68.5" y1="587.8" x2="68.5" y2="589.9" stroke="#1a1a1a" stroke-width="1.3"/>
<line x1="71.5" y1="588.3" x2="71.5" y2="589.4" stroke="#777" stroke-width="0.6"/>
<line x1="74.5" y1="588.3" x2="74.5" y2="589.4" stroke="#777" stroke-width="0.6"/>
<line x1="77.5" y1="588.3" x2="77.5" y2="589.4" stroke="#777" stroke-width="0.6"/>
<line x1="80.5" y1="587.8" x2="80.5" y2="589.9" stroke="#1a1a1a" stroke-width="1.3"/>
<line x1="83.5" y1="588.3" x2="83.5" y2="589.4" stroke="#777" stroke-width="0.6"/>
<line x1="86.5" y1="588.3" x2="86.5" y2="589.4" stroke="#777" stroke-width="0.6"/>
<line x1="89.5" y1="588.3" x2="89.5" y2="589.4" stroke="#777" stroke-width="0.6"/>
<line x1="92.5" y1="587.8" x2="92.5" y2="589.9" stroke="#1a1a1a" stroke-width="1.3"/>
<rect x="100" y="529.4" width="60" height="59.2" fill="none" stroke="#c2c2c2" stroke-width="0.7" />
<line x1="100" y1="529.4" x2="100" y2="588.6" stroke="#888" stroke-width="0.6"/>
<line x1="100" y1="588.6" x2="160" y2="588.6" stroke="#555" stroke-width="0.8"/>
<line x1="98.7" y1="588.6" x2="101" y2="588.6" stroke="#1a1a1a" stroke-width="1.3"/>
<line x1="99.3" y1="585.64" x2="100.5" y2="585.64" stroke="#777" stroke-width="0.6"/>
<line x1="99.3" y1="582.68" x2="100.5" y2="582.68" stroke="#777" stroke-width="0.6"/>
<line x1="99.3" y1="579.72" x2="100.5" y2="579.72" stroke="#777" stroke-width="0.6"/>
<line x1="98.7" y1="576.76" x2="101" y2="576.76" stroke="#1a1a1a" stroke-width="1.3"/>
<line x1="99.3" y1="573.8" x2="100.5" y2="573.8" stroke="#777" stroke-width="0.6"/>
<line x1="99.3" y1="570.84" x2="100.5" y2="570.84" stroke="#777" stroke-width="0.6"/>
<line x1="99.3" y1="567.88" x2="100.5" y2="567.88" stroke="#777" stroke-width="0.6"/>
<line x1="98.7" y1="564.92" x2="101" y2="564.92" stroke="#1a1a1a" stroke-width="1.3"/>
<line x1="99.3" y1="561.96" x2="100.5" y2="561.96" stroke="#777" stroke-width="0.6"/>
<line x1="99.3" y1="559" x2="100.5" y2="559" stroke="#777" stroke-width="0.6"/>
<line x1="99.3" y1="556.04" x2="100.5" y2="556.04" stroke="#777" stroke-width="0.6"/>
<line x1="98.7" y1="553.08" x2="101" y2="553.08" stroke="#1a1a1a" stroke-width="1.3"/>
<line x1="99.3" y1="550.12" x2="100.5" y2="550.12" stroke="#777" stroke-width="0.6"/>
<line x1="99.3" y1="547.16" x2="100.5" y2="547.16" stroke="#777" stroke-width="0.6"/>
<line x1="99.3" y1="544.2" x2="100.5" y2="544.2" stroke="#777" stroke-width="0.6"/>
<line x1="98.7" y1="541.24" x2="101" y2="541.24" stroke="#1a1a1a" stroke-width="1.3"/>
<line x1="99.3" y1="538.28" x2="100.5" y2="538.28" stroke="#777" stroke-width="0.6"/>
<line x1="99.3" y1="535.32" x2="100.5" y2="535.32" stroke="#777" stroke-width="0.6"/>
<line x1="99.3" y1="532.36" x2="100.5" y2="532.36" stroke="#777" stroke-width="0.6"/>
<line x1="98.7" y1="529.4" x2="101" y2="529.4" stroke="#1a1a1a" stroke-width="1.3"/>
<line x1="100" y1="587.8" x2="100" y2="589.9" stroke="#1a1a1a" stroke-width="1.3"/>
<line x1="103" y1="588.3" x2="103" y2="589.4" stroke="#777" stroke-width="0.6"/>
<line x1="106" y1="588.3" x2="106" y2="589.4" stroke="#777" stroke-width="0.6"/>
<line x1="109" y1="588.3" x2="109" y2="589.4" stroke="#777" stroke-width="0.6"/>
<line x1="112" y1="587.8" x2="112" y2="589.9" stroke="#1a1a1a" stroke-width="1.3"/>
<line x1="115" y1="588.3" x2="115" y2="589.4" stroke="#777" stroke-width="0.6"/>
<line x1="118" y1="588.3" x2="118" y2="589.4" stroke="#777" stroke-width="0.6"/>
<line x1="121" y1="588.3" x2="121" y2="589.4" stroke="#777" stroke-width="0.6"/>
<line x1="124" y1="587.8" x2="124" y2="589.9" stroke="#1a1a1a" stroke-width="1.3"/>
<line x1="127" y1="588.3" x2="127" y2="589.4" stroke="#777" stroke-width="0.6"/>
<line x1="130" y1="588.3" x2="130" y2="589.4" stroke="#777" stroke-width="0.6"/>
<line x1="133" y1="588.3" x2="133" y2="589.4" stroke="#777" stroke-width="0.6"/>
<line x1="136" y1="587.8" x2="136" y2="589.9" stroke="#1a1a1a" stroke-width="1.3"/>
<line x1="139" y1="588.3" x2="139" y2="589.4" stroke="#777" stroke-width="0.6"/>
<line x1="142" y1="588.3" x2="142" y2="589.4" stroke="#777" stroke-width="0.6"/>
<line x1="145" y1="588.3" x2="145" y2="589.4" stroke="#777" stroke-width="0.6"/>
<line x1="148" y1="587.8" x2="148" y2="589.9" stroke="#1a1a1a" stroke-width="1.3"/>
<line x1="151" y1="588.3" x2="151" y2="589.4" stroke="#777" stroke-width="0.6"/>
<line x1="154" y1="588.3" x2="154" y2="589.4" stroke="#777" stroke-width="0.6"/>
<line x1="157" y1="588.3" x2="157" y2="589.4" stroke="#777" stroke-width="0.6"/>
<line x1="160" y1="587.8" x2="160" y2="589.9" stroke="#1a1a1a" stroke-width="1.3"/>
<rect x="166.6" y="529.4" width="60" height="59.2" fill="none" stroke="#c2c2c2" stroke-width="0.7" />
<line x1="166.6" y1="529.4" x2="166.6" y2="588.6" stroke="#888" stroke-width="0.6"/>
<line x1="166.6" y1="588.6" x2="226.6" y2="588.6" stroke="#555" stroke-width="0.8"/>
<line x1="165.3" y1="588.6" x2="167.6" y2="588.6" stroke="#1a1a1a" stroke-width="1.3"/>
<line x1="165.9" y1="585.64" x2="167.1" y2="585.64" stroke="#777" stroke-width="0.6"/>
<line x1="165.9" y1="582.68" x2="167.1" y2="582.68" stroke="#777" stroke-width="0.6"/>
<line x1="165.9" y1="579.72" x2="167.1" y2="579.72" stroke="#777" stroke-width="0.6"/>
<line x1="165.3" y1="576.76" x2="167.6" y2="576.76" stroke="#1a1a1a" stroke-width="1.3"/>
<line x1="165.9" y1="573.8" x2="167.1" y2="573.8" stroke="#777" stroke-width="0.6"/>
<line x1="165.9" y1="570.84" x2="167.1" y2="570.84" stroke="#777" stroke-width="0.6"/>
<line x1="165.9" y1="567.88" x2="167.1" y2="567.88" stroke="#777" stroke-width="0.6"/>
<line x1="165.3" y1="564.92" x2="167.6" y2="564.92" stroke="#1a1a1a" stroke-width="1.3"/>
<line x1="165.9" y1="561.96" x2="167.1" y2="561.96" stroke="#777" stroke-width="0.6"/>
<line x1="165.9" y1="559" x2="167.1" y2="559" stroke="#777" stroke-width="0.6"/>
<line x1="165.9" y1="556.04" x2="167.1" y2="556.04" stroke="#777" stroke-width="0.6"/>
<line x1="165.3" y1="553.08" x2="167.6" y2="553.08" stroke="#1a1a1a" stroke-width="1.3"/>
<line x1="165.9" y1="550.12" x2="167.1" y2="550.12" stroke="#777" stroke-width="0.6"/>
<line x1="165.9" y1="547.16" x2="167.1" y2="547.16" stroke="#777" stroke-width="0.6"/>
<line x1="165.9" y1="544.2" x2="167.1" y2="544.2" stroke="#777" stroke-width="0.6"/>
<line x1="165.3" y1="541.24" x2="167.6" y2="541.24" stroke="#1a1a1a" stroke-width="1.3"/>
<line x1="165.9" y1="538.28" x2="167.1" y2="538.28" stroke="#777" stroke-width="0.6"/>
<line x1="165.9" y1="535.32" x2="167.1" y2="535.32" stroke="#777" stroke-width="0.6"/>
<line x1="165.9" y1="532.36" x2="167.1" y2="532.36" stroke="#777" stroke-width="0.6"/>
<line x1="165.3" y1="529.4" x2="167.6" y2="529.4" stroke="#1a1a1a" stroke-width="1.3"/>
<line x1="166.6" y1="587.8" x2="166.6" y2="589.9" stroke="#1a1a1a" stroke-width="1.3"/>
<line x1="169.6" y1="588.3" x2="169.6" y2="589.4" stroke="#777" stroke-width="0.6"/>
<line x1="172.6" y1="588.3" x2="172.6" y2="589.4" stroke="#777" stroke-width="0.6"/>
<line x1="175.6" y1="588.3" x2="175.6" y2="589.4" stroke="#777" stroke-width="0.6"/>
<line x1="178.6" y1="587.8" x2="178.6" y2="589.9" stroke="#1a1a1a" stroke-width="1.3"/>
<line x1="181.6" y1="588.3" x2="181.6" y2="589.4" stroke="#777" stroke-width="0.6"/>
<line x1="184.6" y1="588.3" x2="184.6" y2="589.4" stroke="#777" stroke-width="0.6"/>
<line x1="187.6" y1="588.3" x2="187.6" y2="589.4" stroke="#777" stroke-width="0.6"/>
<line x1="190.6" y1="587.8" x2="190.6" y2="589.9" stroke="#1a1a1a" stroke-width="1.3"/>
<line x1="193.6" y1="588.3" x2="193.6" y2="589.4" stroke="#777" stroke-width="0.6"/>
<line x1="196.6" y1="588.3" x2="196.6" y2="589.4" stroke="#777" stroke-width="0.6"/>
<line x1="199.6" y1="588.3" x2="199.6" y2="589.4" stroke="#777" stroke-width="0.6"/>
<line x1="202.6" y1="587.8" x2="202.6" y2="589.9" stroke="#1a1a1a" stroke-width="1.3"/>
<line x1="205.6" y1="588.3" x2="205.6" y2="589.4" stroke="#777" stroke-width="0.6"/>
<line x1="208.6" y1="588.3" x2="208.6" y2="589.4" stroke="#777" stroke-width="0.6"/>
<line x1="211.6" y1="588.3" x2="211.6" y2="589.4" stroke="#777" stroke-width="0.6"/>
<line x1="214.6" y1="587.8" x2="214.6" y2="589.9" stroke="#1a1a1a" stroke-width="1.3"/>
<line x1="217.6" y1="588.3" x2="217.6" y2="589.4" stroke="#777" stroke-width="0.6"/>
<line x1="220.6" y1="588.3" x2="220.6" y2="589.4" stroke="#777" stroke-width="0.6"/>
<line x1="223.6" y1="588.3" x2="223.6" y2="589.4" stroke="#777" stroke-width="0.6"/>
<line x1="226.6" y1="587.8" x2="226.6" y2="589.9" stroke="#1a1a1a" stroke-width="1.3"/>
<g filter="url(#bl)"><path d="M47.8,577 C52,572.5 57.5,568.5 63,568.2 C68,568.3 74.5,571 75,574.5 C75,579 68.5,581.9 62,581.8 C56,581.6 51,579.5 47.8,577 Z" fill="#9a70d8" opacity="0.55" transform="translate(61.5 575.5) scale(1.12) translate(-61.5 -575.5)"/><path d="M47.8,577 C52,572.5 57.5,568.5 63,568.2 C68,568.3 74.5,571 75,574.5 C75,579 68.5,581.9 62,581.8 C56,581.6 51,579.5 47.8,577 Z" fill="#2a1e8e" transform="translate(61.5 575.5) scale(1) translate(-61.5 -575.5)"/><path d="M47.8,577 C52,572.5 57.5,568.5 63,568.2 C68,568.3 74.5,571 75,574.5 C75,579 68.5,581.9 62,581.8 C56,581.6 51,579.5 47.8,577 Z" fill="#2744bc" transform="translate(61.5 575.5) scale(0.86) translate(-61.5 -575.5)"/></g>
<g filter="url(#bl)"><path d="M67,576.4 L66.78,577.69 L66.14,578.9 L65.13,579.94 L63.8,580.73 L62.26,581.23 L60.6,581.4 L58.94,581.23 L57.4,580.73 L56.07,579.94 L55.06,578.9 L54.42,577.69 L54.2,576.4 L54.42,575.11 L55.06,573.9 L56.07,572.86 L57.4,572.07 L58.94,571.57 L60.6,571.4 L62.26,571.57 L63.8,572.07 L65.13,572.86 L66.14,573.9 L66.78,575.11 Z" fill="#2744bc" transform="translate(60.6 576.4) scale(0.9) translate(-60.6 -576.4)"/><path d="M67,576.4 L66.78,577.69 L66.14,578.9 L65.13,579.94 L63.8,580.73 L62.26,581.23 L60.6,581.4 L58.94,581.23 L57.4,580.73 L56.07,579.94 L55.06,578.9 L54.42,577.69 L54.2,576.4 L54.42,575.11 L55.06,573.9 L56.07,572.86 L57.4,572.07 L58.94,571.57 L60.6,571.4 L62.26,571.57 L63.8,572.07 L65.13,572.86 L66.14,573.9 L66.78,575.11 Z" fill="#1aa0b8" transform="translate(60.6 576.4) scale(0.72) translate(-60.6 -576.4)"/><path d="M67,576.4 L66.78,577.69 L66.14,578.9 L65.13,579.94 L63.8,580.73 L62.26,581.23 L60.6,581.4 L58.94,581.23 L57.4,580.73 L56.07,579.94 L55.06,578.9 L54.42,577.69 L54.2,576.4 L54.42,575.11 L55.06,573.9 L56.07,572.86 L57.4,572.07 L58.94,571.57 L60.6,571.4 L62.26,571.57 L63.8,572.07 L65.13,572.86 L66.14,573.9 L66.78,575.11 Z" fill="#40c03a" transform="translate(60.6 576.4) scale(0.5) translate(-60.6 -576.4)"/><path d="M67,576.4 L66.78,577.69 L66.14,578.9 L65.13,579.94 L63.8,580.73 L62.26,581.23 L60.6,581.4 L58.94,581.23 L57.4,580.73 L56.07,579.94 L55.06,578.9 L54.42,577.69 L54.2,576.4 L54.42,575.11 L55.06,573.9 L56.07,572.86 L57.4,572.07 L58.94,571.57 L60.6,571.4 L62.26,571.57 L63.8,572.07 L65.13,572.86 L66.14,573.9 L66.78,575.11 Z" fill="#d8dc2a" transform="translate(60.6 576.4) scale(0.26) translate(-60.6 -576.4)"/><path d="M67,576.4 L66.78,577.69 L66.14,578.9 L65.13,579.94 L63.8,580.73 L62.26,581.23 L60.6,581.4 L58.94,581.23 L57.4,580.73 L56.07,579.94 L55.06,578.9 L54.42,577.69 L54.2,576.4 L54.42,575.11 L55.06,573.9 L56.07,572.86 L57.4,572.07 L58.94,571.57 L60.6,571.4 L62.26,571.57 L63.8,572.07 L65.13,572.86 L66.14,573.9 L66.78,575.11 Z" fill="#e0401c" transform="translate(60.6 576.4) scale(0.13) translate(-60.6 -576.4)"/></g>
<g filter="url(#bl)"><path d="M73.6,575.8 L73.44,576.94 L72.98,578 L72.25,578.91 L71.3,579.61 L70.19,580.05 L69,580.2 L67.81,580.05 L66.7,579.61 L65.75,578.91 L65.02,578 L64.56,576.94 L64.4,575.8 L64.56,574.66 L65.02,573.6 L65.75,572.69 L66.7,571.99 L67.81,571.55 L69,571.4 L70.19,571.55 L71.3,571.99 L72.25,572.69 L72.98,573.6 L73.44,574.66 Z" fill="#2744bc" transform="translate(69 575.8) scale(0.9) translate(-69 -575.8)"/><path d="M73.6,575.8 L73.44,576.94 L72.98,578 L72.25,578.91 L71.3,579.61 L70.19,580.05 L69,580.2 L67.81,580.05 L66.7,579.61 L65.75,578.91 L65.02,578 L64.56,576.94 L64.4,575.8 L64.56,574.66 L65.02,573.6 L65.75,572.69 L66.7,571.99 L67.81,571.55 L69,571.4 L70.19,571.55 L71.3,571.99 L72.25,572.69 L72.98,573.6 L73.44,574.66 Z" fill="#1aa0b8" transform="translate(69 575.8) scale(0.7) translate(-69 -575.8)"/><path d="M73.6,575.8 L73.44,576.94 L72.98,578 L72.25,578.91 L71.3,579.61 L70.19,580.05 L69,580.2 L67.81,580.05 L66.7,579.61 L65.75,578.91 L65.02,578 L64.56,576.94 L64.4,575.8 L64.56,574.66 L65.02,573.6 L65.75,572.69 L66.7,571.99 L67.81,571.55 L69,571.4 L70.19,571.55 L71.3,571.99 L72.25,572.69 L72.98,573.6 L73.44,574.66 Z" fill="#40c03a" transform="translate(69 575.8) scale(0.45) translate(-69 -575.8)"/></g>
<g filter="url(#bl)"><path d="M119.4,577.8 C125,573.5 133,566.5 141,565 C144,565.5 145,579 142.8,580.8 C134,581 125,580 119.4,577.8 Z" fill="#9a70d8" opacity="0.55" transform="translate(137.8 574.4) scale(1.12) translate(-137.8 -574.4)"/><path d="M119.4,577.8 C125,573.5 133,566.5 141,565 C144,565.5 145,579 142.8,580.8 C134,581 125,580 119.4,577.8 Z" fill="#2a1e8e" transform="translate(137.8 574.4) scale(1) translate(-137.8 -574.4)"/><path d="M119.4,577.8 C125,573.5 133,566.5 141,565 C144,565.5 145,579 142.8,580.8 C134,581 125,580 119.4,577.8 Z" fill="#2744bc" transform="translate(137.8 574.4) scale(0.86) translate(-137.8 -574.4)"/></g>
<g filter="url(#bl)"><path d="M135.5,575.2 L135.3,576.18 L134.7,577.1 L133.74,577.89 L132.5,578.49 L131.05,578.87 L129.5,579 L127.95,578.87 L126.5,578.49 L125.26,577.89 L124.3,577.1 L123.7,576.18 L123.5,575.2 L123.7,574.22 L124.3,573.3 L125.26,572.51 L126.5,571.91 L127.95,571.53 L129.5,571.4 L131.05,571.53 L132.5,571.91 L133.74,572.51 L134.7,573.3 L135.3,574.22 Z" fill="#2744bc" transform="translate(129.5 575.2) scale(0.95) translate(-129.5 -575.2)"/><path d="M135.5,575.2 L135.3,576.18 L134.7,577.1 L133.74,577.89 L132.5,578.49 L131.05,578.87 L129.5,579 L127.95,578.87 L126.5,578.49 L125.26,577.89 L124.3,577.1 L123.7,576.18 L123.5,575.2 L123.7,574.22 L124.3,573.3 L125.26,572.51 L126.5,571.91 L127.95,571.53 L129.5,571.4 L131.05,571.53 L132.5,571.91 L133.74,572.51 L134.7,573.3 L135.3,574.22 Z" fill="#1aa0b8" transform="translate(129.5 575.2) scale(0.75) translate(-129.5 -575.2)"/><path d="M135.5,575.2 L135.3,576.18 L134.7,577.1 L133.74,577.89 L132.5,578.49 L131.05,578.87 L129.5,579 L127.95,578.87 L126.5,578.49 L125.26,577.89 L124.3,577.1 L123.7,576.18 L123.5,575.2 L123.7,574.22 L124.3,573.3 L125.26,572.51 L126.5,571.91 L127.95,571.53 L129.5,571.4 L131.05,571.53 L132.5,571.91 L133.74,572.51 L134.7,573.3 L135.3,574.22 Z" fill="#40c03a" transform="translate(129.5 575.2) scale(0.5) translate(-129.5 -575.2)"/></g>
<g filter="url(#bl)"><path d="M143,574.3 L142.82,575.96 L142.3,577.5 L141.48,578.83 L140.4,579.84 L139.15,580.48 L137.8,580.7 L136.45,580.48 L135.2,579.84 L134.12,578.83 L133.3,577.5 L132.78,575.96 L132.6,574.3 L132.78,572.64 L133.3,571.1 L134.12,569.77 L135.2,568.76 L136.45,568.12 L137.8,567.9 L139.15,568.12 L140.4,568.76 L141.48,569.77 L142.3,571.1 L142.82,572.64 Z" fill="#2744bc" transform="translate(137.8 574.3) scale(0.9) translate(-137.8 -574.3)"/><path d="M143,574.3 L142.82,575.96 L142.3,577.5 L141.48,578.83 L140.4,579.84 L139.15,580.48 L137.8,580.7 L136.45,580.48 L135.2,579.84 L134.12,578.83 L133.3,577.5 L132.78,575.96 L132.6,574.3 L132.78,572.64 L133.3,571.1 L134.12,569.77 L135.2,568.76 L136.45,568.12 L137.8,567.9 L139.15,568.12 L140.4,568.76 L141.48,569.77 L142.3,571.1 L142.82,572.64 Z" fill="#1aa0b8" transform="translate(137.8 574.3) scale(0.75) translate(-137.8 -574.3)"/><path d="M143,574.3 L142.82,575.96 L142.3,577.5 L141.48,578.83 L140.4,579.84 L139.15,580.48 L137.8,580.7 L136.45,580.48 L135.2,579.84 L134.12,578.83 L133.3,577.5 L132.78,575.96 L132.6,574.3 L132.78,572.64 L133.3,571.1 L134.12,569.77 L135.2,568.76 L136.45,568.12 L137.8,567.9 L139.15,568.12 L140.4,568.76 L141.48,569.77 L142.3,571.1 L142.82,572.64 Z" fill="#40c03a" transform="translate(137.8 574.3) scale(0.55) translate(-137.8 -574.3)"/><path d="M143,574.3 L142.82,575.96 L142.3,577.5 L141.48,578.83 L140.4,579.84 L139.15,580.48 L137.8,580.7 L136.45,580.48 L135.2,579.84 L134.12,578.83 L133.3,577.5 L132.78,575.96 L132.6,574.3 L132.78,572.64 L133.3,571.1 L134.12,569.77 L135.2,568.76 L136.45,568.12 L137.8,567.9 L139.15,568.12 L140.4,568.76 L141.48,569.77 L142.3,571.1 L142.82,572.64 Z" fill="#d8dc2a" transform="translate(137.8 574.3) scale(0.3) translate(-137.8 -574.3)"/><path d="M143,574.3 L142.82,575.96 L142.3,577.5 L141.48,578.83 L140.4,579.84 L139.15,580.48 L137.8,580.7 L136.45,580.48 L135.2,579.84 L134.12,578.83 L133.3,577.5 L132.78,575.96 L132.6,574.3 L132.78,572.64 L133.3,571.1 L134.12,569.77 L135.2,568.76 L136.45,568.12 L137.8,567.9 L139.15,568.12 L140.4,568.76 L141.48,569.77 L142.3,571.1 L142.82,572.64 Z" fill="#e0401c" transform="translate(137.8 574.3) scale(0.15) translate(-137.8 -574.3)"/></g>
<g filter="url(#bl)"><path d="M176,576.6 C184,573 195,567.5 205,566.5 C208.5,567 209,578.5 206.5,580.4 C196,581 185,579.5 176,576.6 Z" fill="#9a70d8" opacity="0.55" transform="translate(198 574.5) scale(1.12) translate(-198 -574.5)"/><path d="M176,576.6 C184,573 195,567.5 205,566.5 C208.5,567 209,578.5 206.5,580.4 C196,581 185,579.5 176,576.6 Z" fill="#2a1e8e" transform="translate(198 574.5) scale(1) translate(-198 -574.5)"/><path d="M176,576.6 C184,573 195,567.5 205,566.5 C208.5,567 209,578.5 206.5,580.4 C196,581 185,579.5 176,576.6 Z" fill="#2744bc" transform="translate(198 574.5) scale(0.88) translate(-198 -574.5)"/></g>
<g filter="url(#bl)"><path d="M208,574.8 L207.64,575.99 L206.59,577.1 L204.92,578.05 L202.75,578.78 L200.22,579.24 L197.5,579.4 L194.78,579.24 L192.25,578.78 L190.08,578.05 L188.41,577.1 L187.36,575.99 L187,574.8 L187.36,573.61 L188.41,572.5 L190.08,571.55 L192.25,570.82 L194.78,570.36 L197.5,570.2 L200.22,570.36 L202.75,570.82 L204.92,571.55 L206.59,572.5 L207.64,573.61 Z" fill="#2744bc" transform="translate(197.5 574.8) scale(0.92) translate(-197.5 -574.8)"/><path d="M208,574.8 L207.64,575.99 L206.59,577.1 L204.92,578.05 L202.75,578.78 L200.22,579.24 L197.5,579.4 L194.78,579.24 L192.25,578.78 L190.08,578.05 L188.41,577.1 L187.36,575.99 L187,574.8 L187.36,573.61 L188.41,572.5 L190.08,571.55 L192.25,570.82 L194.78,570.36 L197.5,570.2 L200.22,570.36 L202.75,570.82 L204.92,571.55 L206.59,572.5 L207.64,573.61 Z" fill="#1aa0b8" transform="translate(197.5 574.8) scale(0.76) translate(-197.5 -574.8)"/><path d="M208,574.8 L207.64,575.99 L206.59,577.1 L204.92,578.05 L202.75,578.78 L200.22,579.24 L197.5,579.4 L194.78,579.24 L192.25,578.78 L190.08,578.05 L188.41,577.1 L187.36,575.99 L187,574.8 L187.36,573.61 L188.41,572.5 L190.08,571.55 L192.25,570.82 L194.78,570.36 L197.5,570.2 L200.22,570.36 L202.75,570.82 L204.92,571.55 L206.59,572.5 L207.64,573.61 Z" fill="#40c03a" transform="translate(197.5 574.8) scale(0.56) translate(-197.5 -574.8)"/></g>
<g filter="url(#bl)"><path d="M196.8,575.2 L196.7,575.8 L196.4,576.35 L195.92,576.83 L195.3,577.19 L194.58,577.42 L193.8,577.5 L193.02,577.42 L192.3,577.19 L191.68,576.83 L191.2,576.35 L190.9,575.8 L190.8,575.2 L190.9,574.6 L191.2,574.05 L191.68,573.57 L192.3,573.21 L193.02,572.98 L193.8,572.9 L194.58,572.98 L195.3,573.21 L195.92,573.57 L196.4,574.05 L196.7,574.6 Z" fill="#d8dc2a" transform="translate(193.8 575.2) scale(0.8) translate(-193.8 -575.2)"/></g>
<g filter="url(#bl)"><path d="M206.2,574.5 L206.09,575.22 L205.77,575.9 L205.26,576.48 L204.6,576.92 L203.83,577.2 L203,577.3 L202.17,577.2 L201.4,576.92 L200.74,576.48 L200.23,575.9 L199.91,575.22 L199.8,574.5 L199.91,573.78 L200.23,573.1 L200.74,572.52 L201.4,572.08 L202.17,571.8 L203,571.7 L203.83,571.8 L204.6,572.08 L205.26,572.52 L205.77,573.1 L206.09,573.78 Z" fill="#d8dc2a" transform="translate(203 574.5) scale(0.85) translate(-203 -574.5)"/><path d="M206.2,574.5 L206.09,575.22 L205.77,575.9 L205.26,576.48 L204.6,576.92 L203.83,577.2 L203,577.3 L202.17,577.2 L201.4,576.92 L200.74,576.48 L200.23,575.9 L199.91,575.22 L199.8,574.5 L199.91,573.78 L200.23,573.1 L200.74,572.52 L201.4,572.08 L202.17,571.8 L203,571.7 L203.83,571.8 L204.6,572.08 L205.26,572.52 L205.77,573.1 L206.09,573.78 Z" fill="#e0401c" transform="translate(203 574.5) scale(0.45) translate(-203 -574.5)"/></g>
<g filter="url(#bl2)" opacity="0.5"><ellipse cx="172" cy="577" rx="4" ry="1.6" fill="#b0a8e0"/></g>
<polygon points="73,549.8 84.7,549.6 73.9,587.7 62,587.7" fill="none" stroke="#111" stroke-width="1" stroke-linejoin="miter"/>
<text x="77" y="581.4" font-size="6.4" fill="#222" stroke="#222" stroke-width="0.15">23.7</text>
<text x="34.1" y="538" font-size="6.6" fill="#222" stroke="#222" stroke-width="0.15">TMD8 Parental</text>
<polygon points="140.5,549.8 152.2,549.6 141.4,587.7 129.5,587.7" fill="none" stroke="#111" stroke-width="1" stroke-linejoin="miter"/>
<text x="145" y="582.4" font-size="6.4" fill="#222" stroke="#222" stroke-width="0.15">63.5</text>
<text x="101.6" y="538" font-size="6.6" fill="#222" stroke="#222" stroke-width="0.15">TMD8 IBR#3</text>
<polygon points="207.1,549.8 218.8,549.6 208,587.7 196.1,587.7" fill="none" stroke="#111" stroke-width="1" stroke-linejoin="miter"/>
<text x="210.8" y="583" font-size="6.4" fill="#222" stroke="#222" stroke-width="0.15">45.4</text>
<text x="168.2" y="538" font-size="6.6" fill="#222" stroke="#222" stroke-width="0.15">TMD8 IBR#6</text>
<rect x="32.4" y="597.3" width="60.8" height="58.1" fill="none" stroke="#c2c2c2" stroke-width="0.7" />
<line x1="32.4" y1="597.3" x2="32.4" y2="655.4" stroke="#888" stroke-width="0.6"/>
<line x1="32.4" y1="655.4" x2="93.2" y2="655.4" stroke="#555" stroke-width="0.8"/>
<line x1="31.1" y1="655.4" x2="33.4" y2="655.4" stroke="#1a1a1a" stroke-width="1.3"/>
<line x1="31.7" y1="652.5" x2="32.9" y2="652.5" stroke="#777" stroke-width="0.6"/>
<line x1="31.7" y1="649.59" x2="32.9" y2="649.59" stroke="#777" stroke-width="0.6"/>
<line x1="31.7" y1="646.68" x2="32.9" y2="646.68" stroke="#777" stroke-width="0.6"/>
<line x1="31.1" y1="643.78" x2="33.4" y2="643.78" stroke="#1a1a1a" stroke-width="1.3"/>
<line x1="31.7" y1="640.88" x2="32.9" y2="640.88" stroke="#777" stroke-width="0.6"/>
<line x1="31.7" y1="637.97" x2="32.9" y2="637.97" stroke="#777" stroke-width="0.6"/>
<line x1="31.7" y1="635.06" x2="32.9" y2="635.06" stroke="#777" stroke-width="0.6"/>
<line x1="31.1" y1="632.16" x2="33.4" y2="632.16" stroke="#1a1a1a" stroke-width="1.3"/>
<line x1="31.7" y1="629.25" x2="32.9" y2="629.25" stroke="#777" stroke-width="0.6"/>
<line x1="31.7" y1="626.35" x2="32.9" y2="626.35" stroke="#777" stroke-width="0.6"/>
<line x1="31.7" y1="623.44" x2="32.9" y2="623.44" stroke="#777" stroke-width="0.6"/>
<line x1="31.1" y1="620.54" x2="33.4" y2="620.54" stroke="#1a1a1a" stroke-width="1.3"/>
<line x1="31.7" y1="617.63" x2="32.9" y2="617.63" stroke="#777" stroke-width="0.6"/>
<line x1="31.7" y1="614.73" x2="32.9" y2="614.73" stroke="#777" stroke-width="0.6"/>
<line x1="31.7" y1="611.82" x2="32.9" y2="611.82" stroke="#777" stroke-width="0.6"/>
<line x1="31.1" y1="608.92" x2="33.4" y2="608.92" stroke="#1a1a1a" stroke-width="1.3"/>
<line x1="31.7" y1="606.01" x2="32.9" y2="606.01" stroke="#777" stroke-width="0.6"/>
<line x1="31.7" y1="603.11" x2="32.9" y2="603.11" stroke="#777" stroke-width="0.6"/>
<line x1="31.7" y1="600.2" x2="32.9" y2="600.2" stroke="#777" stroke-width="0.6"/>
<line x1="31.1" y1="597.3" x2="33.4" y2="597.3" stroke="#1a1a1a" stroke-width="1.3"/>
<line x1="32.4" y1="654.6" x2="32.4" y2="656.7" stroke="#1a1a1a" stroke-width="1.3"/>
<line x1="35.44" y1="655.1" x2="35.44" y2="656.2" stroke="#777" stroke-width="0.6"/>
<line x1="38.48" y1="655.1" x2="38.48" y2="656.2" stroke="#777" stroke-width="0.6"/>
<line x1="41.52" y1="655.1" x2="41.52" y2="656.2" stroke="#777" stroke-width="0.6"/>
<line x1="44.56" y1="654.6" x2="44.56" y2="656.7" stroke="#1a1a1a" stroke-width="1.3"/>
<line x1="47.6" y1="655.1" x2="47.6" y2="656.2" stroke="#777" stroke-width="0.6"/>
<line x1="50.64" y1="655.1" x2="50.64" y2="656.2" stroke="#777" stroke-width="0.6"/>
<line x1="53.68" y1="655.1" x2="53.68" y2="656.2" stroke="#777" stroke-width="0.6"/>
<line x1="56.72" y1="654.6" x2="56.72" y2="656.7" stroke="#1a1a1a" stroke-width="1.3"/>
<line x1="59.76" y1="655.1" x2="59.76" y2="656.2" stroke="#777" stroke-width="0.6"/>
<line x1="62.8" y1="655.1" x2="62.8" y2="656.2" stroke="#777" stroke-width="0.6"/>
<line x1="65.84" y1="655.1" x2="65.84" y2="656.2" stroke="#777" stroke-width="0.6"/>
<line x1="68.88" y1="654.6" x2="68.88" y2="656.7" stroke="#1a1a1a" stroke-width="1.3"/>
<line x1="71.92" y1="655.1" x2="71.92" y2="656.2" stroke="#777" stroke-width="0.6"/>
<line x1="74.96" y1="655.1" x2="74.96" y2="656.2" stroke="#777" stroke-width="0.6"/>
<line x1="78" y1="655.1" x2="78" y2="656.2" stroke="#777" stroke-width="0.6"/>
<line x1="81.04" y1="654.6" x2="81.04" y2="656.7" stroke="#1a1a1a" stroke-width="1.3"/>
<line x1="84.08" y1="655.1" x2="84.08" y2="656.2" stroke="#777" stroke-width="0.6"/>
<line x1="87.12" y1="655.1" x2="87.12" y2="656.2" stroke="#777" stroke-width="0.6"/>
<line x1="90.16" y1="655.1" x2="90.16" y2="656.2" stroke="#777" stroke-width="0.6"/>
<line x1="93.2" y1="654.6" x2="93.2" y2="656.7" stroke="#1a1a1a" stroke-width="1.3"/>
<rect x="99.5" y="597.3" width="60.8" height="58.1" fill="none" stroke="#c2c2c2" stroke-width="0.7" />
<line x1="99.5" y1="597.3" x2="99.5" y2="655.4" stroke="#888" stroke-width="0.6"/>
<line x1="99.5" y1="655.4" x2="160.3" y2="655.4" stroke="#555" stroke-width="0.8"/>
<line x1="98.2" y1="655.4" x2="100.5" y2="655.4" stroke="#1a1a1a" stroke-width="1.3"/>
<line x1="98.8" y1="652.5" x2="100" y2="652.5" stroke="#777" stroke-width="0.6"/>
<line x1="98.8" y1="649.59" x2="100" y2="649.59" stroke="#777" stroke-width="0.6"/>
<line x1="98.8" y1="646.68" x2="100" y2="646.68" stroke="#777" stroke-width="0.6"/>
<line x1="98.2" y1="643.78" x2="100.5" y2="643.78" stroke="#1a1a1a" stroke-width="1.3"/>
<line x1="98.8" y1="640.88" x2="100" y2="640.88" stroke="#777" stroke-width="0.6"/>
<line x1="98.8" y1="637.97" x2="100" y2="637.97" stroke="#777" stroke-width="0.6"/>
<line x1="98.8" y1="635.06" x2="100" y2="635.06" stroke="#777" stroke-width="0.6"/>
<line x1="98.2" y1="632.16" x2="100.5" y2="632.16" stroke="#1a1a1a" stroke-width="1.3"/>
<line x1="98.8" y1="629.25" x2="100" y2="629.25" stroke="#777" stroke-width="0.6"/>
<line x1="98.8" y1="626.35" x2="100" y2="626.35" stroke="#777" stroke-width="0.6"/>
<line x1="98.8" y1="623.44" x2="100" y2="623.44" stroke="#777" stroke-width="0.6"/>
<line x1="98.2" y1="620.54" x2="100.5" y2="620.54" stroke="#1a1a1a" stroke-width="1.3"/>
<line x1="98.8" y1="617.63" x2="100" y2="617.63" stroke="#777" stroke-width="0.6"/>
<line x1="98.8" y1="614.73" x2="100" y2="614.73" stroke="#777" stroke-width="0.6"/>
<line x1="98.8" y1="611.82" x2="100" y2="611.82" stroke="#777" stroke-width="0.6"/>
<line x1="98.2" y1="608.92" x2="100.5" y2="608.92" stroke="#1a1a1a" stroke-width="1.3"/>
<line x1="98.8" y1="606.01" x2="100" y2="606.01" stroke="#777" stroke-width="0.6"/>
<line x1="98.8" y1="603.11" x2="100" y2="603.11" stroke="#777" stroke-width="0.6"/>
<line x1="98.8" y1="600.2" x2="100" y2="600.2" stroke="#777" stroke-width="0.6"/>
<line x1="98.2" y1="597.3" x2="100.5" y2="597.3" stroke="#1a1a1a" stroke-width="1.3"/>
<line x1="99.5" y1="654.6" x2="99.5" y2="656.7" stroke="#1a1a1a" stroke-width="1.3"/>
<line x1="102.54" y1="655.1" x2="102.54" y2="656.2" stroke="#777" stroke-width="0.6"/>
<line x1="105.58" y1="655.1" x2="105.58" y2="656.2" stroke="#777" stroke-width="0.6"/>
<line x1="108.62" y1="655.1" x2="108.62" y2="656.2" stroke="#777" stroke-width="0.6"/>
<line x1="111.66" y1="654.6" x2="111.66" y2="656.7" stroke="#1a1a1a" stroke-width="1.3"/>
<line x1="114.7" y1="655.1" x2="114.7" y2="656.2" stroke="#777" stroke-width="0.6"/>
<line x1="117.74" y1="655.1" x2="117.74" y2="656.2" stroke="#777" stroke-width="0.6"/>
<line x1="120.78" y1="655.1" x2="120.78" y2="656.2" stroke="#777" stroke-width="0.6"/>
<line x1="123.82" y1="654.6" x2="123.82" y2="656.7" stroke="#1a1a1a" stroke-width="1.3"/>
<line x1="126.86" y1="655.1" x2="126.86" y2="656.2" stroke="#777" stroke-width="0.6"/>
<line x1="129.9" y1="655.1" x2="129.9" y2="656.2" stroke="#777" stroke-width="0.6"/>
<line x1="132.94" y1="655.1" x2="132.94" y2="656.2" stroke="#777" stroke-width="0.6"/>
<line x1="135.98" y1="654.6" x2="135.98" y2="656.7" stroke="#1a1a1a" stroke-width="1.3"/>
<line x1="139.02" y1="655.1" x2="139.02" y2="656.2" stroke="#777" stroke-width="0.6"/>
<line x1="142.06" y1="655.1" x2="142.06" y2="656.2" stroke="#777" stroke-width="0.6"/>
<line x1="145.1" y1="655.1" x2="145.1" y2="656.2" stroke="#777" stroke-width="0.6"/>
<line x1="148.14" y1="654.6" x2="148.14" y2="656.7" stroke="#1a1a1a" stroke-width="1.3"/>
<line x1="151.18" y1="655.1" x2="151.18" y2="656.2" stroke="#777" stroke-width="0.6"/>
<line x1="154.22" y1="655.1" x2="154.22" y2="656.2" stroke="#777" stroke-width="0.6"/>
<line x1="157.26" y1="655.1" x2="157.26" y2="656.2" stroke="#777" stroke-width="0.6"/>
<line x1="160.3" y1="654.6" x2="160.3" y2="656.7" stroke="#1a1a1a" stroke-width="1.3"/>
<rect x="166.3" y="597.3" width="60.8" height="58.1" fill="none" stroke="#c2c2c2" stroke-width="0.7" />
<line x1="166.3" y1="597.3" x2="166.3" y2="655.4" stroke="#888" stroke-width="0.6"/>
<line x1="166.3" y1="655.4" x2="227.1" y2="655.4" stroke="#555" stroke-width="0.8"/>
<line x1="165" y1="655.4" x2="167.3" y2="655.4" stroke="#1a1a1a" stroke-width="1.3"/>
<line x1="165.6" y1="652.5" x2="166.8" y2="652.5" stroke="#777" stroke-width="0.6"/>
<line x1="165.6" y1="649.59" x2="166.8" y2="649.59" stroke="#777" stroke-width="0.6"/>
<line x1="165.6" y1="646.68" x2="166.8" y2="646.68" stroke="#777" stroke-width="0.6"/>
<line x1="165" y1="643.78" x2="167.3" y2="643.78" stroke="#1a1a1a" stroke-width="1.3"/>
<line x1="165.6" y1="640.88" x2="166.8" y2="640.88" stroke="#777" stroke-width="0.6"/>
<line x1="165.6" y1="637.97" x2="166.8" y2="637.97" stroke="#777" stroke-width="0.6"/>
<line x1="165.6" y1="635.06" x2="166.8" y2="635.06" stroke="#777" stroke-width="0.6"/>
<line x1="165" y1="632.16" x2="167.3" y2="632.16" stroke="#1a1a1a" stroke-width="1.3"/>
<line x1="165.6" y1="629.25" x2="166.8" y2="629.25" stroke="#777" stroke-width="0.6"/>
<line x1="165.6" y1="626.35" x2="166.8" y2="626.35" stroke="#777" stroke-width="0.6"/>
<line x1="165.6" y1="623.44" x2="166.8" y2="623.44" stroke="#777" stroke-width="0.6"/>
<line x1="165" y1="620.54" x2="167.3" y2="620.54" stroke="#1a1a1a" stroke-width="1.3"/>
<line x1="165.6" y1="617.63" x2="166.8" y2="617.63" stroke="#777" stroke-width="0.6"/>
<line x1="165.6" y1="614.73" x2="166.8" y2="614.73" stroke="#777" stroke-width="0.6"/>
<line x1="165.6" y1="611.82" x2="166.8" y2="611.82" stroke="#777" stroke-width="0.6"/>
<line x1="165" y1="608.92" x2="167.3" y2="608.92" stroke="#1a1a1a" stroke-width="1.3"/>
<line x1="165.6" y1="606.01" x2="166.8" y2="606.01" stroke="#777" stroke-width="0.6"/>
<line x1="165.6" y1="603.11" x2="166.8" y2="603.11" stroke="#777" stroke-width="0.6"/>
<line x1="165.6" y1="600.2" x2="166.8" y2="600.2" stroke="#777" stroke-width="0.6"/>
<line x1="165" y1="597.3" x2="167.3" y2="597.3" stroke="#1a1a1a" stroke-width="1.3"/>
<line x1="166.3" y1="654.6" x2="166.3" y2="656.7" stroke="#1a1a1a" stroke-width="1.3"/>
<line x1="169.34" y1="655.1" x2="169.34" y2="656.2" stroke="#777" stroke-width="0.6"/>
<line x1="172.38" y1="655.1" x2="172.38" y2="656.2" stroke="#777" stroke-width="0.6"/>
<line x1="175.42" y1="655.1" x2="175.42" y2="656.2" stroke="#777" stroke-width="0.6"/>
<line x1="178.46" y1="654.6" x2="178.46" y2="656.7" stroke="#1a1a1a" stroke-width="1.3"/>
<line x1="181.5" y1="655.1" x2="181.5" y2="656.2" stroke="#777" stroke-width="0.6"/>
<line x1="184.54" y1="655.1" x2="184.54" y2="656.2" stroke="#777" stroke-width="0.6"/>
<line x1="187.58" y1="655.1" x2="187.58" y2="656.2" stroke="#777" stroke-width="0.6"/>
<line x1="190.62" y1="654.6" x2="190.62" y2="656.7" stroke="#1a1a1a" stroke-width="1.3"/>
<line x1="193.66" y1="655.1" x2="193.66" y2="656.2" stroke="#777" stroke-width="0.6"/>
<line x1="196.7" y1="655.1" x2="196.7" y2="656.2" stroke="#777" stroke-width="0.6"/>
<line x1="199.74" y1="655.1" x2="199.74" y2="656.2" stroke="#777" stroke-width="0.6"/>
<line x1="202.78" y1="654.6" x2="202.78" y2="656.7" stroke="#1a1a1a" stroke-width="1.3"/>
<line x1="205.82" y1="655.1" x2="205.82" y2="656.2" stroke="#777" stroke-width="0.6"/>
<line x1="208.86" y1="655.1" x2="208.86" y2="656.2" stroke="#777" stroke-width="0.6"/>
<line x1="211.9" y1="655.1" x2="211.9" y2="656.2" stroke="#777" stroke-width="0.6"/>
<line x1="214.94" y1="654.6" x2="214.94" y2="656.7" stroke="#1a1a1a" stroke-width="1.3"/>
<line x1="217.98" y1="655.1" x2="217.98" y2="656.2" stroke="#777" stroke-width="0.6"/>
<line x1="221.02" y1="655.1" x2="221.02" y2="656.2" stroke="#777" stroke-width="0.6"/>
<line x1="224.06" y1="655.1" x2="224.06" y2="656.2" stroke="#777" stroke-width="0.6"/>
<line x1="227.1" y1="654.6" x2="227.1" y2="656.7" stroke="#1a1a1a" stroke-width="1.3"/>
<g filter="url(#bl2)"><path d="M51.3,642.8 L51.11,643.21 L50.56,643.6 L49.69,643.93 L48.55,644.19 L47.22,644.35 L45.8,644.4 L44.38,644.35 L43.05,644.19 L41.91,643.93 L41.04,643.6 L40.49,643.21 L40.3,642.8 L40.49,642.39 L41.04,642 L41.91,641.67 L43.05,641.41 L44.38,641.25 L45.8,641.2 L47.22,641.25 L48.55,641.41 L49.69,641.67 L50.56,642 L51.11,642.39 Z" fill="#c8c6e6" transform="translate(45.8 642.8) scale(1) translate(-45.8 -642.8)"/></g>
<g filter="url(#bl)"><path d="M55.23,633.1 Q56.3,630.3 59.3,630.3 L72.2,630.3 Q75.2,630.3 74.13,633.1 L69.87,644.3 Q68.8,647.1 65.8,647.1 L52.9,647.1 Q49.9,647.1 50.97,644.3 Z" fill="#9a84dc" transform="translate(62.55 638.7) scale(1.1) translate(-62.55 -638.7)"/><path d="M55.23,633.1 Q56.3,630.3 59.3,630.3 L72.2,630.3 Q75.2,630.3 74.13,633.1 L69.87,644.3 Q68.8,647.1 65.8,647.1 L52.9,647.1 Q49.9,647.1 50.97,644.3 Z" fill="#3a2496" transform="translate(62.55 638.7) scale(1) translate(-62.55 -638.7)"/></g>
<g filter="url(#bl)"><path d="M55.44,632.72 Q56.4,630.3 59,630.3 L62.2,630.3 Q64.8,630.3 63.84,632.72 L59.16,644.48 Q58.2,646.9 55.6,646.9 L52.4,646.9 Q49.8,646.9 50.76,644.48 Z" fill="#8a6ad0" transform="translate(57.8 640.2) scale(1.12) translate(-57.8 -640.2)"/><path d="M55.44,632.72 Q56.4,630.3 59,630.3 L62.2,630.3 Q64.8,630.3 63.84,632.72 L59.16,644.48 Q58.2,646.9 55.6,646.9 L52.4,646.9 Q49.8,646.9 50.76,644.48 Z" fill="#3a1f9a" transform="translate(57.8 640.2) scale(1) translate(-57.8 -640.2)"/><path d="M55.44,632.72 Q56.4,630.3 59,630.3 L62.2,630.3 Q64.8,630.3 63.84,632.72 L59.16,644.48 Q58.2,646.9 55.6,646.9 L52.4,646.9 Q49.8,646.9 50.76,644.48 Z" fill="#2b4ac8" transform="translate(57.8 640.2) scale(0.8) translate(-57.8 -640.2)"/><path d="M55.44,632.72 Q56.4,630.3 59,630.3 L62.2,630.3 Q64.8,630.3 63.84,632.72 L59.16,644.48 Q58.2,646.9 55.6,646.9 L52.4,646.9 Q49.8,646.9 50.76,644.48 Z" fill="#1aa5c0" transform="translate(57.8 640.2) scale(0.62) translate(-57.8 -640.2)"/><path d="M55.44,632.72 Q56.4,630.3 59,630.3 L62.2,630.3 Q64.8,630.3 63.84,632.72 L59.16,644.48 Q58.2,646.9 55.6,646.9 L52.4,646.9 Q49.8,646.9 50.76,644.48 Z" fill="#46c43a" transform="translate(57.8 640.2) scale(0.44) translate(-57.8 -640.2)"/><path d="M55.44,632.72 Q56.4,630.3 59,630.3 L62.2,630.3 Q64.8,630.3 63.84,632.72 L59.16,644.48 Q58.2,646.9 55.6,646.9 L52.4,646.9 Q49.8,646.9 50.76,644.48 Z" fill="#e2e02a" transform="translate(57.8 640.2) scale(0.2) translate(-57.8 -640.2)"/></g>
<g filter="url(#bl)"><path d="M65.21,632.48 Q66,630 68.6,630 L72.6,630 Q75.2,630 74.41,632.48 L70.39,645.12 Q69.6,647.6 67,647.6 L63,647.6 Q60.4,647.6 61.19,645.12 Z" fill="#8a6ad0" transform="translate(68.8 640.7) scale(1.12) translate(-68.8 -640.7)"/><path d="M65.21,632.48 Q66,630 68.6,630 L72.6,630 Q75.2,630 74.41,632.48 L70.39,645.12 Q69.6,647.6 67,647.6 L63,647.6 Q60.4,647.6 61.19,645.12 Z" fill="#3a1f9a" transform="translate(68.8 640.7) scale(1) translate(-68.8 -640.7)"/><path d="M65.21,632.48 Q66,630 68.6,630 L72.6,630 Q75.2,630 74.41,632.48 L70.39,645.12 Q69.6,647.6 67,647.6 L63,647.6 Q60.4,647.6 61.19,645.12 Z" fill="#2b4ac8" transform="translate(68.8 640.7) scale(0.8) translate(-68.8 -640.7)"/><path d="M65.21,632.48 Q66,630 68.6,630 L72.6,630 Q75.2,630 74.41,632.48 L70.39,645.12 Q69.6,647.6 67,647.6 L63,647.6 Q60.4,647.6 61.19,645.12 Z" fill="#1aa5c0" transform="translate(68.8 640.7) scale(0.62) translate(-68.8 -640.7)"/><path d="M65.21,632.48 Q66,630 68.6,630 L72.6,630 Q75.2,630 74.41,632.48 L70.39,645.12 Q69.6,647.6 67,647.6 L63,647.6 Q60.4,647.6 61.19,645.12 Z" fill="#46c43a" transform="translate(68.8 640.7) scale(0.46) translate(-68.8 -640.7)"/><path d="M65.21,632.48 Q66,630 68.6,630 L72.6,630 Q75.2,630 74.41,632.48 L70.39,645.12 Q69.6,647.6 67,647.6 L63,647.6 Q60.4,647.6 61.19,645.12 Z" fill="#e2e02a" transform="translate(68.8 640.7) scale(0.28) translate(-68.8 -640.7)"/><path d="M65.21,632.48 Q66,630 68.6,630 L72.6,630 Q75.2,630 74.41,632.48 L70.39,645.12 Q69.6,647.6 67,647.6 L63,647.6 Q60.4,647.6 61.19,645.12 Z" fill="#e8421c" transform="translate(68.8 640.7) scale(0.13) translate(-68.8 -640.7)"/></g>
<g filter="url(#bl2)"><path d="M114.6,642.4 L114.41,642.81 L113.86,643.2 L112.99,643.53 L111.85,643.79 L110.52,643.95 L109.1,644 L107.68,643.95 L106.35,643.79 L105.21,643.53 L104.34,643.2 L103.79,642.81 L103.6,642.4 L103.79,641.99 L104.34,641.6 L105.21,641.27 L106.35,641.01 L107.68,640.85 L109.1,640.8 L110.52,640.85 L111.85,641.01 L112.99,641.27 L113.86,641.6 L114.41,641.99 Z" fill="#c8c6e6" transform="translate(109.1 642.4) scale(1) translate(-109.1 -642.4)"/></g>
<g filter="url(#bl)"><path d="M116.03,632.4 Q117.1,629.6 120.1,629.6 L138.2,629.6 Q141.2,629.6 140.13,632.4 L135.87,643.6 Q134.8,646.4 131.8,646.4 L113.7,646.4 Q110.7,646.4 111.77,643.6 Z" fill="#9a84dc" transform="translate(127.2 638) scale(1.1) translate(-127.2 -638)"/><path d="M116.03,632.4 Q117.1,629.6 120.1,629.6 L138.2,629.6 Q141.2,629.6 140.13,632.4 L135.87,643.6 Q134.8,646.4 131.8,646.4 L113.7,646.4 Q110.7,646.4 111.77,643.6 Z" fill="#3a2496" transform="translate(127.2 638) scale(1) translate(-127.2 -638)"/></g>
<g filter="url(#bl)"><path d="M118.28,632.19 Q119.3,629.8 121.9,629.8 L126.5,629.8 Q129.1,629.8 128.08,632.19 L122.92,644.21 Q121.9,646.6 119.3,646.6 L114.7,646.6 Q112.1,646.6 113.12,644.21 Z" fill="#8a6ad0" transform="translate(122.1 640.7) scale(1.12) translate(-122.1 -640.7)"/><path d="M118.28,632.19 Q119.3,629.8 121.9,629.8 L126.5,629.8 Q129.1,629.8 128.08,632.19 L122.92,644.21 Q121.9,646.6 119.3,646.6 L114.7,646.6 Q112.1,646.6 113.12,644.21 Z" fill="#3a1f9a" transform="translate(122.1 640.7) scale(1) translate(-122.1 -640.7)"/><path d="M118.28,632.19 Q119.3,629.8 121.9,629.8 L126.5,629.8 Q129.1,629.8 128.08,632.19 L122.92,644.21 Q121.9,646.6 119.3,646.6 L114.7,646.6 Q112.1,646.6 113.12,644.21 Z" fill="#2b4ac8" transform="translate(122.1 640.7) scale(0.72) translate(-122.1 -640.7)"/><path d="M118.28,632.19 Q119.3,629.8 121.9,629.8 L126.5,629.8 Q129.1,629.8 128.08,632.19 L122.92,644.21 Q121.9,646.6 119.3,646.6 L114.7,646.6 Q112.1,646.6 113.12,644.21 Z" fill="#1aa5c0" transform="translate(122.1 640.7) scale(0.55) translate(-122.1 -640.7)"/><path d="M118.28,632.19 Q119.3,629.8 121.9,629.8 L126.5,629.8 Q129.1,629.8 128.08,632.19 L122.92,644.21 Q121.9,646.6 119.3,646.6 L114.7,646.6 Q112.1,646.6 113.12,644.21 Z" fill="#46c43a" transform="translate(122.1 640.7) scale(0.36) translate(-122.1 -640.7)"/></g>
<g filter="url(#bl)"><path d="M131.54,631.65 Q132.4,629.2 135,629.2 L138.6,629.2 Q141.2,629.2 140.34,631.65 L136.06,643.95 Q135.2,646.4 132.6,646.4 L129,646.4 Q126.4,646.4 127.26,643.95 Z" fill="#8a6ad0" transform="translate(133.2 640.7) scale(1.12) translate(-133.2 -640.7)"/><path d="M131.54,631.65 Q132.4,629.2 135,629.2 L138.6,629.2 Q141.2,629.2 140.34,631.65 L136.06,643.95 Q135.2,646.4 132.6,646.4 L129,646.4 Q126.4,646.4 127.26,643.95 Z" fill="#3a1f9a" transform="translate(133.2 640.7) scale(1) translate(-133.2 -640.7)"/><path d="M131.54,631.65 Q132.4,629.2 135,629.2 L138.6,629.2 Q141.2,629.2 140.34,631.65 L136.06,643.95 Q135.2,646.4 132.6,646.4 L129,646.4 Q126.4,646.4 127.26,643.95 Z" fill="#2b4ac8" transform="translate(133.2 640.7) scale(0.78) translate(-133.2 -640.7)"/><path d="M131.54,631.65 Q132.4,629.2 135,629.2 L138.6,629.2 Q141.2,629.2 140.34,631.65 L136.06,643.95 Q135.2,646.4 132.6,646.4 L129,646.4 Q126.4,646.4 127.26,643.95 Z" fill="#1aa5c0" transform="translate(133.2 640.7) scale(0.6) translate(-133.2 -640.7)"/><path d="M131.54,631.65 Q132.4,629.2 135,629.2 L138.6,629.2 Q141.2,629.2 140.34,631.65 L136.06,643.95 Q135.2,646.4 132.6,646.4 L129,646.4 Q126.4,646.4 127.26,643.95 Z" fill="#46c43a" transform="translate(133.2 640.7) scale(0.44) translate(-133.2 -640.7)"/><path d="M131.54,631.65 Q132.4,629.2 135,629.2 L138.6,629.2 Q141.2,629.2 140.34,631.65 L136.06,643.95 Q135.2,646.4 132.6,646.4 L129,646.4 Q126.4,646.4 127.26,643.95 Z" fill="#e2e02a" transform="translate(133.2 640.7) scale(0.22) translate(-133.2 -640.7)"/></g>
<g filter="url(#bl2)"><path d="M183.2,642.4 L183.01,642.81 L182.46,643.2 L181.59,643.53 L180.45,643.79 L179.12,643.95 L177.7,644 L176.28,643.95 L174.95,643.79 L173.81,643.53 L172.94,643.2 L172.39,642.81 L172.2,642.4 L172.39,641.99 L172.94,641.6 L173.81,641.27 L174.95,641.01 L176.28,640.85 L177.7,640.8 L179.12,640.85 L180.45,641.01 L181.59,641.27 L182.46,641.6 L183.01,641.99 Z" fill="#c8c6e6" transform="translate(177.7 642.4) scale(1) translate(-177.7 -642.4)"/></g>
<g filter="url(#bl)"><path d="M184.63,632.3 Q185.7,629.5 188.7,629.5 L205.6,629.5 Q208.6,629.5 207.53,632.3 L203.27,643.5 Q202.2,646.3 199.2,646.3 L182.3,646.3 Q179.3,646.3 180.37,643.5 Z" fill="#9a84dc" transform="translate(195.2 637.9) scale(1.1) translate(-195.2 -637.9)"/><path d="M184.63,632.3 Q185.7,629.5 188.7,629.5 L205.6,629.5 Q208.6,629.5 207.53,632.3 L203.27,643.5 Q202.2,646.3 199.2,646.3 L182.3,646.3 Q179.3,646.3 180.37,643.5 Z" fill="#3a2496" transform="translate(195.2 637.9) scale(1) translate(-195.2 -637.9)"/></g>
<g filter="url(#bl)"><path d="M186.9,632 Q187.9,629.6 190.5,629.6 L195.1,629.6 Q197.7,629.6 196.7,632 L191.5,644.4 Q190.5,646.8 187.9,646.8 L183.3,646.8 Q180.7,646.8 181.7,644.4 Z" fill="#8a6ad0" transform="translate(190 640.5) scale(1.12) translate(-190 -640.5)"/><path d="M186.9,632 Q187.9,629.6 190.5,629.6 L195.1,629.6 Q197.7,629.6 196.7,632 L191.5,644.4 Q190.5,646.8 187.9,646.8 L183.3,646.8 Q180.7,646.8 181.7,644.4 Z" fill="#3a1f9a" transform="translate(190 640.5) scale(1) translate(-190 -640.5)"/><path d="M186.9,632 Q187.9,629.6 190.5,629.6 L195.1,629.6 Q197.7,629.6 196.7,632 L191.5,644.4 Q190.5,646.8 187.9,646.8 L183.3,646.8 Q180.7,646.8 181.7,644.4 Z" fill="#2b4ac8" transform="translate(190 640.5) scale(0.72) translate(-190 -640.5)"/><path d="M186.9,632 Q187.9,629.6 190.5,629.6 L195.1,629.6 Q197.7,629.6 196.7,632 L191.5,644.4 Q190.5,646.8 187.9,646.8 L183.3,646.8 Q180.7,646.8 181.7,644.4 Z" fill="#1aa5c0" transform="translate(190 640.5) scale(0.55) translate(-190 -640.5)"/><path d="M186.9,632 Q187.9,629.6 190.5,629.6 L195.1,629.6 Q197.7,629.6 196.7,632 L191.5,644.4 Q190.5,646.8 187.9,646.8 L183.3,646.8 Q180.7,646.8 181.7,644.4 Z" fill="#46c43a" transform="translate(190 640.5) scale(0.36) translate(-190 -640.5)"/></g>
<g filter="url(#bl)"><path d="M198.96,631.26 Q199.8,628.8 202.4,628.8 L206,628.8 Q208.6,628.8 207.76,631.26 L203.44,643.94 Q202.6,646.4 200,646.4 L196.4,646.4 Q193.8,646.4 194.64,643.94 Z" fill="#8a6ad0" transform="translate(200.3 640.8) scale(1.12) translate(-200.3 -640.8)"/><path d="M198.96,631.26 Q199.8,628.8 202.4,628.8 L206,628.8 Q208.6,628.8 207.76,631.26 L203.44,643.94 Q202.6,646.4 200,646.4 L196.4,646.4 Q193.8,646.4 194.64,643.94 Z" fill="#3a1f9a" transform="translate(200.3 640.8) scale(1) translate(-200.3 -640.8)"/><path d="M198.96,631.26 Q199.8,628.8 202.4,628.8 L206,628.8 Q208.6,628.8 207.76,631.26 L203.44,643.94 Q202.6,646.4 200,646.4 L196.4,646.4 Q193.8,646.4 194.64,643.94 Z" fill="#2b4ac8" transform="translate(200.3 640.8) scale(0.78) translate(-200.3 -640.8)"/><path d="M198.96,631.26 Q199.8,628.8 202.4,628.8 L206,628.8 Q208.6,628.8 207.76,631.26 L203.44,643.94 Q202.6,646.4 200,646.4 L196.4,646.4 Q193.8,646.4 194.64,643.94 Z" fill="#1aa5c0" transform="translate(200.3 640.8) scale(0.6) translate(-200.3 -640.8)"/><path d="M198.96,631.26 Q199.8,628.8 202.4,628.8 L206,628.8 Q208.6,628.8 207.76,631.26 L203.44,643.94 Q202.6,646.4 200,646.4 L196.4,646.4 Q193.8,646.4 194.64,643.94 Z" fill="#46c43a" transform="translate(200.3 640.8) scale(0.44) translate(-200.3 -640.8)"/><path d="M198.96,631.26 Q199.8,628.8 202.4,628.8 L206,628.8 Q208.6,628.8 207.76,631.26 L203.44,643.94 Q202.6,646.4 200,646.4 L196.4,646.4 Q193.8,646.4 194.64,643.94 Z" fill="#e2e02a" transform="translate(200.3 640.8) scale(0.24) translate(-200.3 -640.8)"/><path d="M198.96,631.26 Q199.8,628.8 202.4,628.8 L206,628.8 Q208.6,628.8 207.76,631.26 L203.44,643.94 Q202.6,646.4 200,646.4 L196.4,646.4 Q193.8,646.4 194.64,643.94 Z" fill="#e8421c" transform="translate(200.3 640.8) scale(0.08) translate(-200.3 -640.8)"/></g>
<polygon points="69.2,623.1 82,622.7 69.4,652.5 57,652.5" fill="none" stroke="#111" stroke-width="1" stroke-linejoin="miter"/>
<text x="78" y="647.4" font-size="6.4" fill="#222" stroke="#222" stroke-width="0.15">52.2</text>
<text x="35.2" y="605.4" font-size="6.5" fill="#222" stroke="#222" stroke-width="0.15">OCI-Ly10 Parental</text>
<polygon points="136.3,623.1 149.1,622.7 136.5,652.5 124.1,652.5" fill="none" stroke="#111" stroke-width="1" stroke-linejoin="miter"/>
<text x="142.3" y="646.3" font-size="6.4" fill="#222" stroke="#222" stroke-width="0.15">74.2</text>
<text x="102.3" y="605.4" font-size="6.5" fill="#222" stroke="#222" stroke-width="0.15">OCI-Ly10 IBR#9</text>
<polygon points="203.1,623.1 215.9,622.7 203.3,652.5 190.9,652.5" fill="none" stroke="#111" stroke-width="1" stroke-linejoin="miter"/>
<text x="207.4" y="646.3" font-size="6.4" fill="#222" stroke="#222" stroke-width="0.15">77.1</text>
<text x="169.1" y="605.4" font-size="6.5" fill="#222" stroke="#222" stroke-width="0.15">OCI-Ly10 IBR#10</text>
<text x="25.6" y="593.5" font-size="7.4" text-anchor="middle" fill="#222" stroke="#222" stroke-width="0.15" textLength="11.2" lengthAdjust="spacingAndGlyphs" transform="rotate(-90 25.6 593.5)">FSC</text>
<text x="131.1" y="667.8" font-size="8.4" text-anchor="middle" fill="#222" stroke="#222" stroke-width="0.15" textLength="28.6" lengthAdjust="spacingAndGlyphs">MitoROX</text>
<text x="236.5" y="522.5" font-size="11.6" font-weight="bold" fill="#111" stroke="#111" stroke-width="0.45" textLength="6.1" lengthAdjust="spacingAndGlyphs">F</text>
<line x1="293.05" y1="567.28" x2="293.05" y2="570.73" stroke="#444" stroke-width="0.8"/>
<line x1="291.45" y1="567.28" x2="294.65" y2="567.28" stroke="#444" stroke-width="0.8"/>
<rect x="289.1" y="570.73" width="7.9" height="48.67" fill="#36a935" />
<line x1="304.85" y1="612.76" x2="304.85" y2="613.5" stroke="#444" stroke-width="0.8"/>
<line x1="303.25" y1="612.76" x2="306.45" y2="612.76" stroke="#444" stroke-width="0.8"/>
<rect x="301.1" y="613.5" width="7.5" height="5.9" fill="#cd0a2c" />
<text x="304.85" y="612.5" font-size="6.6" text-anchor="middle" fill="#222" stroke="#222" stroke-width="0.15">***</text>
<line x1="316.35" y1="609.47" x2="316.35" y2="610.06" stroke="#444" stroke-width="0.8"/>
<line x1="314.75" y1="609.47" x2="317.95" y2="609.47" stroke="#444" stroke-width="0.8"/>
<rect x="312.6" y="610.06" width="7.5" height="9.34" fill="#1b4a85" />
<text x="316.35" y="609.8" font-size="6.6" text-anchor="middle" fill="#222" stroke="#222" stroke-width="0.15">***</text>
<line x1="284.7" y1="619.4" x2="323.3" y2="619.4" stroke="#222" stroke-width="1.1"/>
<line x1="293.05" y1="619.4" x2="293.05" y2="621.6" stroke="#222" stroke-width="0.8"/>
<line x1="304.85" y1="619.4" x2="304.85" y2="621.6" stroke="#222" stroke-width="0.8"/>
<line x1="316.35" y1="619.4" x2="316.35" y2="621.6" stroke="#222" stroke-width="0.8"/>
<line x1="285.2" y1="559.9" x2="285.2" y2="619.9" stroke="#222" stroke-width="1.1"/>
<line x1="282.7" y1="619.4" x2="285.2" y2="619.4" stroke="#222" stroke-width="0.9"/>
<text x="279.9" y="621.85" font-size="6.8" text-anchor="end" fill="#222" stroke="#222" stroke-width="0.15">0</text>
<line x1="282.7" y1="604.65" x2="285.2" y2="604.65" stroke="#222" stroke-width="0.9"/>
<text x="279.9" y="607.1" font-size="6.8" text-anchor="end" fill="#222" stroke="#222" stroke-width="0.15">0.3</text>
<line x1="282.7" y1="589.9" x2="285.2" y2="589.9" stroke="#222" stroke-width="0.9"/>
<text x="279.9" y="592.35" font-size="6.8" text-anchor="end" fill="#222" stroke="#222" stroke-width="0.15">0.6</text>
<line x1="282.7" y1="575.15" x2="285.2" y2="575.15" stroke="#222" stroke-width="0.9"/>
<text x="279.9" y="577.6" font-size="6.8" text-anchor="end" fill="#222" stroke="#222" stroke-width="0.15">0.9</text>
<line x1="282.7" y1="560.4" x2="285.2" y2="560.4" stroke="#222" stroke-width="0.9"/>
<text x="279.9" y="562.85" font-size="6.8" text-anchor="end" fill="#222" stroke="#222" stroke-width="0.15">1.2</text>
<line x1="350.95" y1="567.28" x2="350.95" y2="569.74" stroke="#444" stroke-width="0.8"/>
<line x1="349.35" y1="567.28" x2="352.55" y2="567.28" stroke="#444" stroke-width="0.8"/>
<rect x="347.1" y="569.74" width="7.7" height="49.66" fill="#36a935" />
<line x1="362.5" y1="586.95" x2="362.5" y2="591.62" stroke="#444" stroke-width="0.8"/>
<line x1="360.9" y1="586.95" x2="364.1" y2="586.95" stroke="#444" stroke-width="0.8"/>
<rect x="358.7" y="591.62" width="7.6" height="27.78" fill="#f38e0e" />
<text x="362.5" y="586.8" font-size="6.6" text-anchor="middle" fill="#222" stroke="#222" stroke-width="0.15">**</text>
<line x1="374" y1="615.37" x2="374" y2="615.96" stroke="#444" stroke-width="0.8"/>
<line x1="372.4" y1="615.37" x2="375.6" y2="615.37" stroke="#444" stroke-width="0.8"/>
<rect x="370.2" y="615.96" width="7.6" height="3.44" fill="#9086c8" />
<text x="374" y="615.2" font-size="6.6" text-anchor="middle" fill="#222" stroke="#222" stroke-width="0.15">***</text>
<line x1="342.2" y1="619.4" x2="381.7" y2="619.4" stroke="#222" stroke-width="1.1"/>
<line x1="350.95" y1="619.4" x2="350.95" y2="621.6" stroke="#222" stroke-width="0.8"/>
<line x1="362.5" y1="619.4" x2="362.5" y2="621.6" stroke="#222" stroke-width="0.8"/>
<line x1="374" y1="619.4" x2="374" y2="621.6" stroke="#222" stroke-width="0.8"/>
<line x1="342.7" y1="559.9" x2="342.7" y2="619.9" stroke="#222" stroke-width="1.1"/>
<line x1="340.2" y1="619.4" x2="342.7" y2="619.4" stroke="#222" stroke-width="0.9"/>
<text x="337.4" y="621.85" font-size="6.8" text-anchor="end" fill="#222" stroke="#222" stroke-width="0.15">0</text>
<line x1="340.2" y1="604.65" x2="342.7" y2="604.65" stroke="#222" stroke-width="0.9"/>
<text x="337.4" y="607.1" font-size="6.8" text-anchor="end" fill="#222" stroke="#222" stroke-width="0.15">0.3</text>
<line x1="340.2" y1="589.9" x2="342.7" y2="589.9" stroke="#222" stroke-width="0.9"/>
<text x="337.4" y="592.35" font-size="6.8" text-anchor="end" fill="#222" stroke="#222" stroke-width="0.15">0.6</text>
<line x1="340.2" y1="575.15" x2="342.7" y2="575.15" stroke="#222" stroke-width="0.9"/>
<text x="337.4" y="577.6" font-size="6.8" text-anchor="end" fill="#222" stroke="#222" stroke-width="0.15">0.9</text>
<line x1="340.2" y1="560.4" x2="342.7" y2="560.4" stroke="#222" stroke-width="0.9"/>
<text x="337.4" y="562.85" font-size="6.8" text-anchor="end" fill="#222" stroke="#222" stroke-width="0.15">1.2</text>
<text x="293.2" y="552.4" font-size="8.6" fill="#222" stroke="#222" stroke-width="0.15" textLength="24" lengthAdjust="spacingAndGlyphs">TMD8</text>
<text x="343.6" y="552.6" font-size="8.6" fill="#222" stroke="#222" stroke-width="0.15" textLength="37.2" lengthAdjust="spacingAndGlyphs">OCI-Ly10</text>
<text x="254" y="588.3" font-size="8.8" text-anchor="middle" fill="#222" stroke="#222" stroke-width="0.15" textLength="45.9" lengthAdjust="spacingAndGlyphs" transform="rotate(-90 254 588.3)">Relative lactate</text>
<text x="263.9" y="588.3" font-size="8.8" text-anchor="middle" fill="#222" stroke="#222" stroke-width="0.15" textLength="32.8" lengthAdjust="spacingAndGlyphs" transform="rotate(-90 263.9 588.3)">production</text>
<text x="296" y="628.6" font-size="6.6" text-anchor="end" fill="#222" stroke="#222" stroke-width="0.15" textLength="9.5" lengthAdjust="spacingAndGlyphs" transform="rotate(-45 296 628.6)">Par</text>
<text x="307.8" y="628.6" font-size="6.6" text-anchor="end" fill="#222" stroke="#222" stroke-width="0.15" textLength="18.5" lengthAdjust="spacingAndGlyphs" transform="rotate(-45 307.8 628.6)">IBR#3</text>
<text x="319.3" y="628.6" font-size="6.6" text-anchor="end" fill="#222" stroke="#222" stroke-width="0.15" textLength="18.5" lengthAdjust="spacingAndGlyphs" transform="rotate(-45 319.3 628.6)">IBR#6</text>
<text x="351.3" y="628.6" font-size="6.6" text-anchor="end" fill="#222" stroke="#222" stroke-width="0.15" textLength="9.5" lengthAdjust="spacingAndGlyphs" transform="rotate(-45 351.3 628.6)">Par</text>
<text x="363.3" y="628.6" font-size="6.6" text-anchor="end" fill="#222" stroke="#222" stroke-width="0.15" textLength="18.5" lengthAdjust="spacingAndGlyphs" transform="rotate(-45 363.3 628.6)">IBR#9</text>
<text x="376.3" y="628.6" font-size="6.6" text-anchor="end" fill="#222" stroke="#222" stroke-width="0.15" textLength="22" lengthAdjust="spacingAndGlyphs" transform="rotate(-45 376.3 628.6)">IBR#10</text>
<text x="391.3" y="522.7" font-size="11.6" font-weight="bold" fill="#111" stroke="#111" stroke-width="0.45" textLength="8.5" lengthAdjust="spacingAndGlyphs">G</text>
<ellipse cx="447.7" cy="612.9" rx="24.6" ry="15.4" fill="none" stroke="#aaa" stroke-width="1"/>
<rect x="432" y="529.5" width="30" height="9.3" fill="#cfd2e8" />
<text x="447" y="536.5" font-size="6.6" text-anchor="middle" fill="#333" stroke="#333" stroke-width="0.15" textLength="23.5" lengthAdjust="spacingAndGlyphs">Glucose</text>
<rect x="432" y="548.8" width="30" height="9.2" fill="#cfd2e8" />
<text x="447" y="555.75" font-size="6.6" text-anchor="middle" fill="#333" stroke="#333" stroke-width="0.15" textLength="25.5" lengthAdjust="spacingAndGlyphs">Pyruvate</text>
<rect x="390.5" y="561.3" width="20.8" height="8.7" fill="#9ba3cf" />
<text x="400.9" y="568" font-size="6.6" text-anchor="middle" fill="#333" stroke="#333" stroke-width="0.15" textLength="15" lengthAdjust="spacingAndGlyphs">PDP1</text>
<rect x="423" y="561.3" width="20" height="8.7" fill="#9ba3cf" />
<text x="433" y="568" font-size="6.6" text-anchor="middle" fill="#333" stroke="#333" stroke-width="0.15" textLength="12.5" lengthAdjust="spacingAndGlyphs">PDH</text>
<rect x="427.5" y="575" width="41.3" height="9.5" fill="#cfd2e8" />
<text x="448.15" y="582.1" font-size="6.6" text-anchor="middle" fill="#333" stroke="#333" stroke-width="0.15" textLength="34" lengthAdjust="spacingAndGlyphs">Acetyl-CoA</text>
<rect x="432.7" y="592.7" width="29.4" height="9.2" fill="#cfd2e8" />
<text x="447.4" y="599.65" font-size="6.6" text-anchor="middle" fill="#333" stroke="#333" stroke-width="0.15" textLength="20" lengthAdjust="spacingAndGlyphs">Citrate</text>
<line x1="447.5" y1="538.8" x2="447.5" y2="546.04" stroke="#111" stroke-width="0.9"/>
<polygon points="445.3,545.4 449.7,545.4 447.5,548.6" fill="#111"/>
<line x1="462.3" y1="553.7" x2="474.64" y2="553.7" stroke="#111" stroke-width="0.9"/>
<polygon points="474,551.5 474,555.9 477.2,553.7" fill="#111"/>
<line x1="411.3" y1="565.4" x2="420.24" y2="565.4" stroke="#111" stroke-width="0.9"/>
<polygon points="419.6,563.2 419.6,567.6 422.8,565.4" fill="#111"/>
<line x1="447.5" y1="558" x2="447.5" y2="572.24" stroke="#111" stroke-width="0.9"/>
<polygon points="445.3,571.6 449.7,571.6 447.5,574.8" fill="#111"/>
<line x1="447.6" y1="584.5" x2="447.6" y2="589.94" stroke="#111" stroke-width="0.9"/>
<polygon points="445.4,589.3 449.8,589.3 447.6,592.5" fill="#111"/>
<text x="479.5" y="556.2" font-size="6.9" font-weight="bold" fill="#111" stroke="#111" stroke-width="0.15" textLength="22.5" lengthAdjust="spacingAndGlyphs">Lactate</text>
<polygon points="505.9,549.5 508.1,549.5 508.1,554.2 510.2,554.2 507,559 503.8,554.2 505.9,554.2" fill="#111"/>
<polyline points="466.2,602.2 469.4,603.6 469.6,607" fill="none" stroke="#aaa" stroke-width="1"/>
<polyline points="423.2,622.2 423.4,618.6 426.4,616.8" fill="none" stroke="#aaa" stroke-width="1"/>
<polyline points="452.4,625.8 449.4,628.3 452.4,630.6" fill="none" stroke="#aaa" stroke-width="1"/>
<text x="448.6" y="612" font-size="7" text-anchor="middle" fill="#333" stroke="#333" stroke-width="0.15" textLength="13.5" lengthAdjust="spacingAndGlyphs">TCA</text>
<text x="448.4" y="618.6" font-size="7" text-anchor="middle" fill="#333" stroke="#333" stroke-width="0.15" textLength="14.8" lengthAdjust="spacingAndGlyphs">cycle</text>
<polygon points="446.3,634 451.1,634 451.1,643.8 452.8,643.8 448.7,648.6 444.6,643.8 446.3,643.8" fill="#f4f4f4" stroke="#555" stroke-width="0.9"/>
<text x="454.4" y="640.8" font-size="6.6" fill="#333" stroke="#333" stroke-width="0.15" textLength="11.6" lengthAdjust="spacingAndGlyphs">ETC</text>
<text x="446.8" y="656.2" font-size="7" text-anchor="middle" font-weight="bold" fill="#f0961e" stroke="#f0961e" stroke-width="0.15" textLength="28.9" lengthAdjust="spacingAndGlyphs">OXPHOS</text>
<text x="446.2" y="663.8" font-size="7" text-anchor="middle" font-weight="bold" fill="#f0961e" stroke="#f0961e" stroke-width="0.15" textLength="16.4" lengthAdjust="spacingAndGlyphs">MMP</text>
<polygon points="464.4,663 466.4,663 466.4,656 468.4,656 465.4,651.2 462.4,656 464.4,656" fill="#f0961e"/>
<polygon points="470,654.3 477,654.3 477,652.4 481.5,655.8 477,659.2 477,657.3 470,657.3" fill="#dfe3ef" stroke="#3d4a6a" stroke-width="0.9"/>
<text x="497.7" y="656.2" font-size="7" text-anchor="middle" font-weight="bold" fill="#f0961e" stroke="#f0961e" stroke-width="0.15" textLength="27" lengthAdjust="spacingAndGlyphs">Ibrutinib</text>
<text x="497.6" y="663.8" font-size="7" text-anchor="middle" font-weight="bold" fill="#f0961e" stroke="#f0961e" stroke-width="0.15" textLength="30.7" lengthAdjust="spacingAndGlyphs">resistance</text>
<rect x="0.5" y="0.5" width="519" height="676" fill="none" stroke="#444" stroke-width="1"/>
<line x1="0" y1="675.9" x2="520" y2="675.9" stroke="#333" stroke-width="0.9"/>
</svg>
</body></html>
